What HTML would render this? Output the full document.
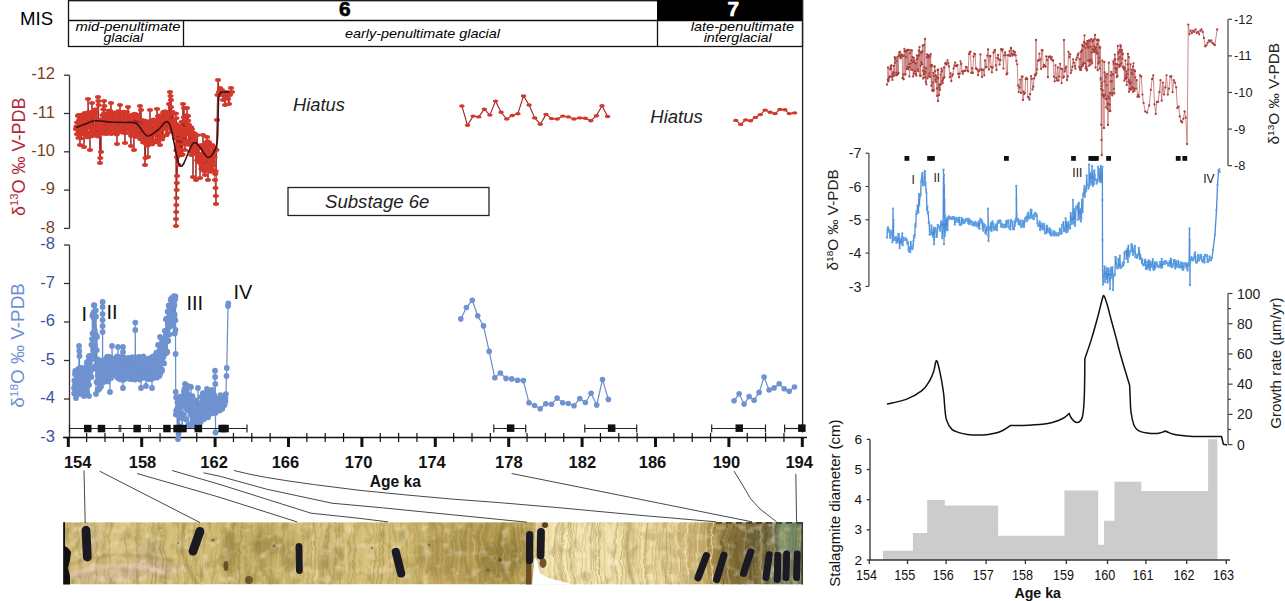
<!DOCTYPE html>
<html><head><meta charset="utf-8"><title>Stalagmite record</title>
<style>
html,body{margin:0;padding:0;background:#fff;}
svg{display:block;font-family:"Liberation Sans", sans-serif;}
</style></head>
<body>
<svg width="1285" height="601" viewBox="0 0 1285 601">

<defs>
<linearGradient id="pg" x1="63" y1="0" x2="803" y2="0" gradientUnits="userSpaceOnUse">
 <stop offset="0" stop-color="#cfbb85"/>
 <stop offset="0.08" stop-color="#d6c28c"/>
 <stop offset="0.2" stop-color="#cdb97f"/>
 <stop offset="0.27" stop-color="#bfab70"/>
 <stop offset="0.34" stop-color="#d2be86"/>
 <stop offset="0.44" stop-color="#d2bd84"/>
 <stop offset="0.5" stop-color="#c0aa6e"/>
 <stop offset="0.56" stop-color="#b49d62"/>
 <stop offset="0.6" stop-color="#b29b5f"/>
 <stop offset="0.635" stop-color="#b8a268"/>
 <stop offset="0.645" stop-color="#eedfae"/>
 <stop offset="0.75" stop-color="#ecdcaa"/>
 <stop offset="0.8" stop-color="#e4d09c"/>
 <stop offset="0.83" stop-color="#d4bd84"/>
 <stop offset="0.87" stop-color="#ad945a"/>
 <stop offset="0.91" stop-color="#8e7848"/>
 <stop offset="0.95" stop-color="#7e7050"/>
 <stop offset="0.97" stop-color="#6f7a60"/>
 <stop offset="1" stop-color="#6a7258"/>
</linearGradient>
<filter id="tex" x="0" y="0" width="100%" height="100%">
 <feTurbulence type="fractalNoise" baseFrequency="0.11 0.07" numOctaves="3" seed="4" result="n"/>
 <feColorMatrix in="n" type="matrix" values="0 0 0 0 0.3  0 0 0 0 0.25  0 0 0 0 0.08  -3.2 0 0 0 1.6" />
 <feComposite in2="SourceGraphic" operator="in"/>
</filter>
<filter id="tex2" x="0" y="0" width="100%" height="100%">
 <feTurbulence type="fractalNoise" baseFrequency="0.09 0.12" numOctaves="2" seed="9" result="n"/>
 <feColorMatrix in="n" type="matrix" values="0 0 0 0 1  0 0 0 0 0.97  0 0 0 0 0.82  2.6 0 0 0 -1.35" />
 <feComposite in2="SourceGraphic" operator="in"/>
</filter>
<filter id="blur2"><feGaussianBlur stdDeviation="2.5"/></filter>
<filter id="blur1"><feGaussianBlur stdDeviation="0.9"/></filter>
<filter id="blur05" x="-2%" y="-10%" width="104%" height="120%"><feTurbulence type="fractalNoise" baseFrequency="0.045 0.09" numOctaves="2" seed="3" result="t"/><feDisplacementMap in="SourceGraphic" in2="t" scale="6" xChannelSelector="R" yChannelSelector="G"/><feGaussianBlur stdDeviation="0.55"/></filter>
<filter id="sat" x="0" y="0" width="100%" height="100%"><feColorMatrix type="saturate" values="1.15"/></filter>
<clipPath id="pc"><rect x="63.2" y="522.2" width="739.9" height="62.2"/></clipPath>
</defs>

<rect width="1285" height="601" fill="#fff"/>
<g filter="url(#sat)"><g clip-path="url(#pc)">
<rect x="63.2" y="522.2" width="739.9" height="62.2" fill="url(#pg)"/>
<g filter="url(#blur2)">
<ellipse cx="230" cy="552" rx="8" ry="22" fill="#8f7a44" opacity="0.45"/>
<ellipse cx="268" cy="545" rx="18" ry="10" fill="#8a7540" opacity="0.45"/>
<ellipse cx="290" cy="556" rx="10" ry="16" fill="#8f7a44" opacity="0.3"/>
<ellipse cx="150" cy="568" rx="35" ry="9" fill="#c0a2a0" opacity="0.35"/>
<ellipse cx="105" cy="575" rx="35" ry="8" fill="#c9aaa5" opacity="0.4"/>
<ellipse cx="90" cy="540" rx="10" ry="12" fill="#b0a2a0" opacity="0.25"/>
<ellipse cx="150" cy="550" rx="14" ry="10" fill="#b59fa0" opacity="0.25"/>
<ellipse cx="330" cy="556" rx="12" ry="14" fill="#a89060" opacity="0.25"/>
<ellipse cx="440" cy="556" rx="26" ry="20" fill="#8f7a44" opacity="0.3"/>
<ellipse cx="500" cy="560" rx="22" ry="20" fill="#7a6535" opacity="0.4"/>
<ellipse cx="468" cy="538" rx="16" ry="12" fill="#9a8550" opacity="0.3"/>
<ellipse cx="520" cy="545" rx="10" ry="18" fill="#7a6535" opacity="0.35"/>
<ellipse cx="632" cy="550" rx="3" ry="28" fill="#9a8552" opacity="0.5"/>
<ellipse cx="600" cy="552" rx="20" ry="25" fill="#f0e2b8" opacity="0.3"/>
<ellipse cx="680" cy="550" rx="22" ry="26" fill="#b8a06a" opacity="0.3"/>
<ellipse cx="735" cy="555" rx="18" ry="30" fill="#6e5e3a" opacity="0.45"/>
<ellipse cx="760" cy="545" rx="16" ry="24" fill="#5f5a40" opacity="0.45"/>
<ellipse cx="790" cy="538" rx="12" ry="16" fill="#84a080" opacity="0.6"/>
<ellipse cx="790" cy="568" rx="10" ry="14" fill="#8a8f80" opacity="0.5"/>
<ellipse cx="775" cy="578" rx="20" ry="8" fill="#6f7360" opacity="0.35"/>
</g>
<g filter="url(#blur05)"><path d="M64.8,522 Q67.0,553 64.1,585" stroke="#6e5e30" stroke-width="1.2" opacity="0.22" fill="none"/><path d="M68.9,522 Q66.9,553 71.3,585" stroke="#6e5e30" stroke-width="1.7" opacity="0.16" fill="none"/><path d="M70.5,522 Q67.0,553 70.4,585" stroke="#efe0b0" stroke-width="1.7" opacity="0.11" fill="none"/><path d="M76.7,522 Q76.5,553 75.1,585" stroke="#efe0b0" stroke-width="1.4" opacity="0.16" fill="none"/><path d="M76.1,522 Q82.2,553 80.3,585" stroke="#6e5e30" stroke-width="2.1" opacity="0.16" fill="none"/><path d="M80.0,522 Q75.8,553 78.9,585" stroke="#efe0b0" stroke-width="1.9" opacity="0.11" fill="none"/><path d="M85.6,522 Q79.0,553 84.8,585" stroke="#6e5e30" stroke-width="1.5" opacity="0.08" fill="none"/><path d="M87.3,522 Q91.8,553 85.1,585" stroke="#6e5e30" stroke-width="1.3" opacity="0.08" fill="none"/><path d="M91.8,522 Q93.6,553 88.0,585" stroke="#6e5e30" stroke-width="1.4" opacity="0.13" fill="none"/><path d="M95.0,522 Q95.7,553 96.8,585" stroke="#6e5e30" stroke-width="1.6" opacity="0.24" fill="none"/><path d="M97.5,522 Q96.8,553 95.4,585" stroke="#6e5e30" stroke-width="1.0" opacity="0.11" fill="none"/><path d="M100.3,522 Q102.9,553 101.6,585" stroke="#efe0b0" stroke-width="1.0" opacity="0.23" fill="none"/><path d="M102.1,522 Q106.9,553 102.5,585" stroke="#efe0b0" stroke-width="1.1" opacity="0.09" fill="none"/><path d="M106.1,522 Q103.3,553 106.0,585" stroke="#6e5e30" stroke-width="2.0" opacity="0.10" fill="none"/><path d="M110.1,522 Q108.3,553 110.2,585" stroke="#6e5e30" stroke-width="1.7" opacity="0.20" fill="none"/><path d="M114.0,522 Q109.4,553 111.4,585" stroke="#efe0b0" stroke-width="1.1" opacity="0.20" fill="none"/><path d="M113.9,522 Q113.1,553 115.2,585" stroke="#efe0b0" stroke-width="1.5" opacity="0.13" fill="none"/><path d="M120.7,522 Q115.8,553 119.8,585" stroke="#efe0b0" stroke-width="2.0" opacity="0.13" fill="none"/><path d="M122.8,522 Q120.8,553 121.1,585" stroke="#efe0b0" stroke-width="2.2" opacity="0.19" fill="none"/><path d="M125.3,522 Q126.4,553 128.1,585" stroke="#6e5e30" stroke-width="1.8" opacity="0.20" fill="none"/><path d="M130.5,522 Q133.0,553 127.9,585" stroke="#efe0b0" stroke-width="1.8" opacity="0.20" fill="none"/><path d="M135.2,522 Q136.5,553 132.8,585" stroke="#6e5e30" stroke-width="1.5" opacity="0.10" fill="none"/><path d="M136.3,522 Q137.5,553 137.1,585" stroke="#6e5e30" stroke-width="1.4" opacity="0.22" fill="none"/><path d="M138.8,522 Q135.4,553 137.7,585" stroke="#6e5e30" stroke-width="1.7" opacity="0.19" fill="none"/><path d="M140.3,522 Q138.8,553 138.6,585" stroke="#6e5e30" stroke-width="1.6" opacity="0.14" fill="none"/><path d="M145.1,522 Q146.4,553 145.9,585" stroke="#efe0b0" stroke-width="1.2" opacity="0.19" fill="none"/><path d="M150.4,522 Q144.3,553 148.6,585" stroke="#6e5e30" stroke-width="1.0" opacity="0.16" fill="none"/><path d="M152.7,522 Q151.9,553 152.5,585" stroke="#6e5e30" stroke-width="1.1" opacity="0.25" fill="none"/><path d="M154.0,522 Q156.0,553 156.1,585" stroke="#6e5e30" stroke-width="2.1" opacity="0.23" fill="none"/><path d="M158.2,522 Q152.8,553 156.5,585" stroke="#6e5e30" stroke-width="1.1" opacity="0.09" fill="none"/><path d="M158.9,522 Q164.4,553 159.6,585" stroke="#6e5e30" stroke-width="1.6" opacity="0.21" fill="none"/><path d="M163.0,522 Q161.3,553 162.2,585" stroke="#6e5e30" stroke-width="0.9" opacity="0.19" fill="none"/><path d="M163.5,522 Q166.1,553 166.1,585" stroke="#6e5e30" stroke-width="1.8" opacity="0.16" fill="none"/><path d="M165.8,522 Q164.3,553 165.4,585" stroke="#6e5e30" stroke-width="1.6" opacity="0.15" fill="none"/><path d="M170.4,522 Q169.0,553 170.5,585" stroke="#efe0b0" stroke-width="1.7" opacity="0.09" fill="none"/><path d="M171.8,522 Q169.9,553 170.7,585" stroke="#efe0b0" stroke-width="1.0" opacity="0.20" fill="none"/><path d="M177.5,522 Q174.9,553 178.6,585" stroke="#efe0b0" stroke-width="0.9" opacity="0.14" fill="none"/><path d="M178.4,522 Q178.4,553 177.8,585" stroke="#6e5e30" stroke-width="2.2" opacity="0.17" fill="none"/><path d="M182.7,522 Q188.1,553 184.3,585" stroke="#6e5e30" stroke-width="1.1" opacity="0.22" fill="none"/><path d="M187.6,522 Q183.2,553 183.6,585" stroke="#efe0b0" stroke-width="2.0" opacity="0.24" fill="none"/><path d="M189.0,522 Q191.0,553 187.0,585" stroke="#6e5e30" stroke-width="1.0" opacity="0.13" fill="none"/><path d="M195.1,522 Q190.0,553 192.6,585" stroke="#6e5e30" stroke-width="0.9" opacity="0.16" fill="none"/><path d="M195.7,522 Q195.4,553 195.5,585" stroke="#6e5e30" stroke-width="0.8" opacity="0.23" fill="none"/><path d="M200.4,522 Q199.1,553 201.4,585" stroke="#6e5e30" stroke-width="1.2" opacity="0.24" fill="none"/><path d="M204.6,522 Q202.9,553 201.4,585" stroke="#6e5e30" stroke-width="1.1" opacity="0.26" fill="none"/><path d="M206.6,522 Q209.7,553 205.9,585" stroke="#efe0b0" stroke-width="1.1" opacity="0.09" fill="none"/><path d="M209.5,522 Q213.5,553 213.2,585" stroke="#6e5e30" stroke-width="1.4" opacity="0.18" fill="none"/><path d="M212.1,522 Q210.7,553 214.7,585" stroke="#efe0b0" stroke-width="1.6" opacity="0.09" fill="none"/><path d="M216.4,522 Q218.4,553 212.3,585" stroke="#6e5e30" stroke-width="1.6" opacity="0.12" fill="none"/><path d="M216.8,522 Q213.5,553 215.2,585" stroke="#efe0b0" stroke-width="1.8" opacity="0.10" fill="none"/><path d="M218.5,522 Q216.0,553 220.3,585" stroke="#efe0b0" stroke-width="2.0" opacity="0.17" fill="none"/><path d="M222.6,522 Q225.2,553 223.7,585" stroke="#6e5e30" stroke-width="0.9" opacity="0.17" fill="none"/><path d="M224.3,522 Q222.3,553 223.1,585" stroke="#efe0b0" stroke-width="0.9" opacity="0.09" fill="none"/><path d="M225.1,522 Q230.0,553 225.6,585" stroke="#6e5e30" stroke-width="1.2" opacity="0.25" fill="none"/><path d="M231.0,522 Q232.1,553 227.7,585" stroke="#6e5e30" stroke-width="1.2" opacity="0.11" fill="none"/><path d="M234.3,522 Q233.0,553 229.7,585" stroke="#6e5e30" stroke-width="2.0" opacity="0.19" fill="none"/><path d="M234.5,522 Q236.6,553 234.5,585" stroke="#6e5e30" stroke-width="0.8" opacity="0.22" fill="none"/><path d="M237.9,522 Q240.2,553 239.0,585" stroke="#6e5e30" stroke-width="1.0" opacity="0.08" fill="none"/><path d="M242.2,522 Q238.3,553 239.5,585" stroke="#6e5e30" stroke-width="1.9" opacity="0.24" fill="none"/><path d="M245.1,522 Q246.6,553 246.1,585" stroke="#6e5e30" stroke-width="2.1" opacity="0.12" fill="none"/><path d="M245.0,522 Q248.3,553 248.8,585" stroke="#efe0b0" stroke-width="1.4" opacity="0.12" fill="none"/><path d="M250.4,522 Q254.3,553 246.9,585" stroke="#6e5e30" stroke-width="1.2" opacity="0.21" fill="none"/><path d="M253.9,522 Q249.0,553 252.6,585" stroke="#efe0b0" stroke-width="2.2" opacity="0.14" fill="none"/><path d="M257.8,522 Q256.0,553 254.0,585" stroke="#6e5e30" stroke-width="0.9" opacity="0.22" fill="none"/><path d="M260.3,522 Q260.8,553 263.3,585" stroke="#6e5e30" stroke-width="1.6" opacity="0.08" fill="none"/><path d="M262.4,522 Q260.0,553 266.0,585" stroke="#efe0b0" stroke-width="0.8" opacity="0.18" fill="none"/><path d="M268.1,522 Q270.2,553 270.3,585" stroke="#6e5e30" stroke-width="2.1" opacity="0.16" fill="none"/><path d="M271.1,522 Q266.5,553 271.0,585" stroke="#efe0b0" stroke-width="0.9" opacity="0.21" fill="none"/><path d="M273.2,522 Q271.2,553 271.3,585" stroke="#6e5e30" stroke-width="1.2" opacity="0.17" fill="none"/><path d="M277.0,522 Q281.3,553 275.6,585" stroke="#efe0b0" stroke-width="1.2" opacity="0.23" fill="none"/><path d="M281.0,522 Q276.7,553 278.9,585" stroke="#efe0b0" stroke-width="1.2" opacity="0.22" fill="none"/><path d="M284.0,522 Q283.5,553 283.2,585" stroke="#6e5e30" stroke-width="1.0" opacity="0.14" fill="none"/><path d="M286.9,522 Q285.3,553 283.9,585" stroke="#efe0b0" stroke-width="1.6" opacity="0.22" fill="none"/><path d="M288.7,522 Q286.2,553 290.8,585" stroke="#6e5e30" stroke-width="1.4" opacity="0.10" fill="none"/><path d="M292.8,522 Q294.1,553 292.7,585" stroke="#6e5e30" stroke-width="1.8" opacity="0.10" fill="none"/><path d="M294.8,522 Q297.9,553 295.4,585" stroke="#6e5e30" stroke-width="0.8" opacity="0.10" fill="none"/><path d="M297.7,522 Q300.4,553 295.7,585" stroke="#efe0b0" stroke-width="1.6" opacity="0.13" fill="none"/><path d="M299.2,522 Q302.6,553 300.0,585" stroke="#efe0b0" stroke-width="2.1" opacity="0.25" fill="none"/><path d="M305.4,522 Q301.8,553 305.5,585" stroke="#efe0b0" stroke-width="1.6" opacity="0.25" fill="none"/><path d="M309.4,522 Q305.7,553 308.2,585" stroke="#6e5e30" stroke-width="1.3" opacity="0.19" fill="none"/><path d="M310.3,522 Q314.7,553 312.9,585" stroke="#efe0b0" stroke-width="1.0" opacity="0.23" fill="none"/><path d="M313.5,522 Q308.2,553 314.1,585" stroke="#6e5e30" stroke-width="1.3" opacity="0.20" fill="none"/><path d="M313.7,522 Q318.4,553 312.5,585" stroke="#6e5e30" stroke-width="1.6" opacity="0.24" fill="none"/><path d="M319.4,522 Q316.3,553 316.2,585" stroke="#efe0b0" stroke-width="1.3" opacity="0.26" fill="none"/><path d="M321.3,522 Q317.8,553 318.8,585" stroke="#6e5e30" stroke-width="1.0" opacity="0.12" fill="none"/><path d="M324.8,522 Q325.1,553 322.5,585" stroke="#6e5e30" stroke-width="2.2" opacity="0.20" fill="none"/><path d="M325.8,522 Q320.4,553 326.7,585" stroke="#efe0b0" stroke-width="1.5" opacity="0.18" fill="none"/><path d="M327.5,522 Q328.2,553 325.9,585" stroke="#6e5e30" stroke-width="2.0" opacity="0.15" fill="none"/><path d="M328.8,522 Q326.0,553 330.8,585" stroke="#6e5e30" stroke-width="1.9" opacity="0.13" fill="none"/><path d="M335.3,522 Q337.8,553 331.5,585" stroke="#6e5e30" stroke-width="2.2" opacity="0.25" fill="none"/><path d="M339.1,522 Q339.6,553 341.0,585" stroke="#6e5e30" stroke-width="1.8" opacity="0.23" fill="none"/><path d="M342.7,522 Q342.6,553 343.7,585" stroke="#6e5e30" stroke-width="1.1" opacity="0.21" fill="none"/><path d="M346.0,522 Q346.9,553 343.6,585" stroke="#efe0b0" stroke-width="2.1" opacity="0.25" fill="none"/><path d="M347.6,522 Q349.3,553 348.8,585" stroke="#efe0b0" stroke-width="0.9" opacity="0.09" fill="none"/><path d="M348.6,522 Q351.6,553 348.3,585" stroke="#efe0b0" stroke-width="1.2" opacity="0.22" fill="none"/><path d="M352.5,522 Q347.8,553 348.9,585" stroke="#6e5e30" stroke-width="1.6" opacity="0.23" fill="none"/><path d="M354.7,522 Q354.8,553 352.0,585" stroke="#6e5e30" stroke-width="1.3" opacity="0.23" fill="none"/><path d="M358.6,522 Q351.9,553 355.6,585" stroke="#6e5e30" stroke-width="2.2" opacity="0.11" fill="none"/><path d="M361.9,522 Q362.9,553 362.5,585" stroke="#efe0b0" stroke-width="1.5" opacity="0.08" fill="none"/><path d="M362.2,522 Q365.0,553 362.0,585" stroke="#efe0b0" stroke-width="1.0" opacity="0.15" fill="none"/><path d="M363.9,522 Q365.1,553 366.8,585" stroke="#efe0b0" stroke-width="1.0" opacity="0.21" fill="none"/><path d="M366.1,522 Q366.0,553 367.3,585" stroke="#efe0b0" stroke-width="2.1" opacity="0.11" fill="none"/><path d="M371.0,522 Q374.0,553 373.1,585" stroke="#efe0b0" stroke-width="1.3" opacity="0.18" fill="none"/><path d="M371.4,522 Q376.9,553 373.3,585" stroke="#6e5e30" stroke-width="1.0" opacity="0.26" fill="none"/><path d="M376.7,522 Q375.9,553 374.0,585" stroke="#6e5e30" stroke-width="0.9" opacity="0.21" fill="none"/><path d="M379.8,522 Q380.7,553 377.5,585" stroke="#6e5e30" stroke-width="1.7" opacity="0.25" fill="none"/><path d="M383.5,522 Q382.8,553 381.6,585" stroke="#6e5e30" stroke-width="1.7" opacity="0.25" fill="none"/><path d="M384.9,522 Q383.5,553 382.0,585" stroke="#6e5e30" stroke-width="1.1" opacity="0.16" fill="none"/><path d="M388.0,522 Q387.8,553 387.8,585" stroke="#efe0b0" stroke-width="1.5" opacity="0.22" fill="none"/><path d="M391.6,522 Q387.7,553 389.5,585" stroke="#6e5e30" stroke-width="2.0" opacity="0.15" fill="none"/><path d="M393.1,522 Q398.7,553 396.6,585" stroke="#6e5e30" stroke-width="1.4" opacity="0.24" fill="none"/><path d="M398.9,522 Q394.9,553 395.1,585" stroke="#efe0b0" stroke-width="2.1" opacity="0.11" fill="none"/><path d="M400.4,522 Q403.5,553 403.9,585" stroke="#efe0b0" stroke-width="0.9" opacity="0.22" fill="none"/><path d="M402.2,522 Q402.3,553 403.5,585" stroke="#6e5e30" stroke-width="1.5" opacity="0.16" fill="none"/><path d="M408.8,522 Q408.7,553 405.6,585" stroke="#6e5e30" stroke-width="1.0" opacity="0.16" fill="none"/><path d="M413.0,522 Q408.0,553 409.5,585" stroke="#efe0b0" stroke-width="1.2" opacity="0.24" fill="none"/><path d="M413.8,522 Q416.3,553 416.1,585" stroke="#6e5e30" stroke-width="1.7" opacity="0.13" fill="none"/><path d="M416.5,522 Q423.2,553 418.6,585" stroke="#6e5e30" stroke-width="2.1" opacity="0.10" fill="none"/><path d="M424.2,522 Q420.3,553 423.6,585" stroke="#efe0b0" stroke-width="1.3" opacity="0.08" fill="none"/><path d="M424.2,522 Q426.7,553 424.1,585" stroke="#efe0b0" stroke-width="2.1" opacity="0.25" fill="none"/><path d="M426.8,522 Q426.8,553 426.7,585" stroke="#efe0b0" stroke-width="0.9" opacity="0.18" fill="none"/><path d="M431.5,522 Q427.9,553 428.5,585" stroke="#6e5e30" stroke-width="1.1" opacity="0.14" fill="none"/><path d="M433.4,522 Q429.8,553 435.0,585" stroke="#6e5e30" stroke-width="0.8" opacity="0.23" fill="none"/><path d="M434.9,522 Q438.9,553 437.2,585" stroke="#6e5e30" stroke-width="1.6" opacity="0.24" fill="none"/><path d="M438.0,522 Q444.5,553 436.9,585" stroke="#efe0b0" stroke-width="0.9" opacity="0.16" fill="none"/><path d="M441.3,522 Q443.7,553 441.1,585" stroke="#6e5e30" stroke-width="1.4" opacity="0.12" fill="none"/><path d="M445.5,522 Q443.3,553 442.4,585" stroke="#efe0b0" stroke-width="1.2" opacity="0.20" fill="none"/><path d="M447.5,522 Q450.6,553 449.9,585" stroke="#efe0b0" stroke-width="1.4" opacity="0.12" fill="none"/><path d="M451.9,522 Q452.2,553 452.3,585" stroke="#6e5e30" stroke-width="1.9" opacity="0.12" fill="none"/><path d="M454.6,522 Q450.9,553 455.9,585" stroke="#efe0b0" stroke-width="1.6" opacity="0.12" fill="none"/><path d="M458.6,522 Q459.9,553 455.2,585" stroke="#efe0b0" stroke-width="0.9" opacity="0.08" fill="none"/><path d="M456.7,522 Q462.6,553 455.9,585" stroke="#efe0b0" stroke-width="1.9" opacity="0.25" fill="none"/><path d="M460.9,522 Q459.4,553 461.5,585" stroke="#6e5e30" stroke-width="1.1" opacity="0.11" fill="none"/><path d="M464.5,522 Q460.9,553 466.3,585" stroke="#efe0b0" stroke-width="0.9" opacity="0.14" fill="none"/><path d="M467.5,522 Q470.4,553 466.3,585" stroke="#efe0b0" stroke-width="1.0" opacity="0.19" fill="none"/><path d="M470.2,522 Q472.1,553 468.5,585" stroke="#6e5e30" stroke-width="1.9" opacity="0.10" fill="none"/><path d="M473.3,522 Q476.9,553 471.1,585" stroke="#efe0b0" stroke-width="0.9" opacity="0.23" fill="none"/><path d="M477.0,522 Q472.6,553 476.2,585" stroke="#efe0b0" stroke-width="1.7" opacity="0.16" fill="none"/><path d="M481.1,522 Q476.8,553 479.4,585" stroke="#6e5e30" stroke-width="2.2" opacity="0.22" fill="none"/><path d="M483.4,522 Q478.0,553 483.9,585" stroke="#efe0b0" stroke-width="1.0" opacity="0.19" fill="none"/><path d="M485.0,522 Q480.8,553 482.5,585" stroke="#6e5e30" stroke-width="1.0" opacity="0.24" fill="none"/><path d="M486.8,522 Q485.1,553 484.8,585" stroke="#6e5e30" stroke-width="2.0" opacity="0.20" fill="none"/><path d="M489.7,522 Q495.2,553 491.0,585" stroke="#6e5e30" stroke-width="1.0" opacity="0.10" fill="none"/><path d="M496.0,522 Q496.1,553 497.3,585" stroke="#6e5e30" stroke-width="1.1" opacity="0.20" fill="none"/><path d="M497.1,522 Q499.8,553 494.7,585" stroke="#efe0b0" stroke-width="1.0" opacity="0.21" fill="none"/><path d="M501.3,522 Q502.0,553 501.9,585" stroke="#6e5e30" stroke-width="1.9" opacity="0.19" fill="none"/><path d="M504.0,522 Q504.8,553 499.7,585" stroke="#efe0b0" stroke-width="1.7" opacity="0.22" fill="none"/><path d="M504.6,522 Q509.1,553 505.1,585" stroke="#efe0b0" stroke-width="1.3" opacity="0.11" fill="none"/><path d="M507.3,522 Q512.0,553 507.1,585" stroke="#efe0b0" stroke-width="1.7" opacity="0.16" fill="none"/><path d="M511.6,522 Q512.3,553 511.4,585" stroke="#6e5e30" stroke-width="0.9" opacity="0.08" fill="none"/><path d="M513.9,522 Q513.6,553 513.5,585" stroke="#6e5e30" stroke-width="1.7" opacity="0.20" fill="none"/><path d="M515.5,522 Q519.9,553 515.2,585" stroke="#efe0b0" stroke-width="1.6" opacity="0.22" fill="none"/><path d="M519.8,522 Q522.1,553 521.2,585" stroke="#efe0b0" stroke-width="1.8" opacity="0.24" fill="none"/><path d="M520.8,522 Q521.6,553 520.6,585" stroke="#6e5e30" stroke-width="1.1" opacity="0.19" fill="none"/><path d="M523.7,522 Q527.3,553 527.6,585" stroke="#efe0b0" stroke-width="1.0" opacity="0.22" fill="none"/><path d="M527.3,522 Q524.8,553 527.6,585" stroke="#6e5e30" stroke-width="1.6" opacity="0.12" fill="none"/><path d="M534.2,522 Q531.8,553 533.3,585" stroke="#efe0b0" stroke-width="1.8" opacity="0.16" fill="none"/><path d="M533.8,522 Q535.1,553 534.0,585" stroke="#6e5e30" stroke-width="1.5" opacity="0.09" fill="none"/><path d="M537.2,522 Q532.0,553 536.7,585" stroke="#fbf4dc" stroke-width="1.2" opacity="0.56" fill="none"/><path d="M542.6,522 Q536.5,553 540.6,585" stroke="#8a7640" stroke-width="0.8" opacity="0.37" fill="none"/><path d="M545.1,522 Q541.5,553 543.4,585" stroke="#fbf4dc" stroke-width="1.2" opacity="0.67" fill="none"/><path d="M548.2,522 Q542.4,553 547.8,585" stroke="#fbf4dc" stroke-width="1.0" opacity="0.52" fill="none"/><path d="M549.7,522 Q545.2,553 550.6,585" stroke="#8a7640" stroke-width="0.7" opacity="0.38" fill="none"/><path d="M555.1,522 Q549.9,553 554.0,585" stroke="#fbf4dc" stroke-width="1.4" opacity="0.62" fill="none"/><path d="M558.4,522 Q549.5,553 556.6,585" stroke="#8a7640" stroke-width="0.9" opacity="0.57" fill="none"/><path d="M561.7,522 Q555.5,553 561.7,585" stroke="#8a7640" stroke-width="0.9" opacity="0.35" fill="none"/><path d="M562.4,522 Q559.6,553 562.2,585" stroke="#8a7640" stroke-width="1.3" opacity="0.47" fill="none"/><path d="M563.8,522 Q559.9,553 565.6,585" stroke="#8a7640" stroke-width="1.0" opacity="0.51" fill="none"/><path d="M567.4,522 Q562.5,553 568.8,585" stroke="#fbf4dc" stroke-width="1.5" opacity="0.70" fill="none"/><path d="M569.1,522 Q564.3,553 571.4,585" stroke="#8a7640" stroke-width="0.7" opacity="0.58" fill="none"/><path d="M571.0,522 Q568.1,553 573.5,585" stroke="#8a7640" stroke-width="1.4" opacity="0.47" fill="none"/><path d="M574.2,522 Q568.7,553 575.0,585" stroke="#8a7640" stroke-width="1.2" opacity="0.41" fill="none"/><path d="M576.9,522 Q573.7,553 573.6,585" stroke="#8a7640" stroke-width="1.0" opacity="0.40" fill="none"/><path d="M580.5,522 Q572.9,553 581.7,585" stroke="#fbf4dc" stroke-width="0.7" opacity="0.63" fill="none"/><path d="M584.4,522 Q579.8,553 584.4,585" stroke="#fbf4dc" stroke-width="1.0" opacity="0.56" fill="none"/><path d="M586.9,522 Q577.7,553 583.3,585" stroke="#8a7640" stroke-width="0.9" opacity="0.50" fill="none"/><path d="M588.2,522 Q582.8,553 586.1,585" stroke="#8a7640" stroke-width="1.0" opacity="0.57" fill="none"/><path d="M592.5,522 Q587.8,553 591.7,585" stroke="#8a7640" stroke-width="1.4" opacity="0.45" fill="none"/><path d="M594.8,522 Q590.2,553 594.0,585" stroke="#8a7640" stroke-width="1.2" opacity="0.36" fill="none"/><path d="M598.5,522 Q592.9,553 596.5,585" stroke="#fbf4dc" stroke-width="0.7" opacity="0.58" fill="none"/><path d="M597.8,522 Q591.2,553 598.1,585" stroke="#8a7640" stroke-width="1.3" opacity="0.48" fill="none"/><path d="M600.0,522 Q596.5,553 601.8,585" stroke="#8a7640" stroke-width="1.4" opacity="0.54" fill="none"/><path d="M602.3,522 Q597.4,553 601.5,585" stroke="#8a7640" stroke-width="0.7" opacity="0.39" fill="none"/><path d="M604.4,522 Q602.8,553 607.6,585" stroke="#8a7640" stroke-width="0.8" opacity="0.55" fill="none"/><path d="M607.4,522 Q600.9,553 609.1,585" stroke="#fbf4dc" stroke-width="0.6" opacity="0.40" fill="none"/><path d="M610.9,522 Q607.9,553 611.6,585" stroke="#fbf4dc" stroke-width="1.4" opacity="0.47" fill="none"/><path d="M615.4,522 Q607.9,553 611.5,585" stroke="#fbf4dc" stroke-width="0.7" opacity="0.40" fill="none"/><path d="M618.8,522 Q611.5,553 618.1,585" stroke="#8a7640" stroke-width="1.5" opacity="0.46" fill="none"/><path d="M619.9,522 Q614.6,553 620.6,585" stroke="#fbf4dc" stroke-width="1.0" opacity="0.44" fill="none"/><path d="M624.9,522 Q619.5,553 622.3,585" stroke="#8a7640" stroke-width="1.1" opacity="0.58" fill="none"/><path d="M627.6,522 Q620.4,553 627.1,585" stroke="#8a7640" stroke-width="1.4" opacity="0.47" fill="none"/><path d="M628.7,522 Q623.7,553 629.8,585" stroke="#8a7640" stroke-width="0.8" opacity="0.39" fill="none"/><path d="M630.1,522 Q629.3,553 634.6,585" stroke="#fbf4dc" stroke-width="1.0" opacity="0.46" fill="none"/><path d="M634.4,522 Q632.9,553 633.3,585" stroke="#8a7640" stroke-width="0.6" opacity="0.44" fill="none"/><path d="M639.6,522 Q633.3,553 639.5,585" stroke="#8a7640" stroke-width="1.0" opacity="0.32" fill="none"/><path d="M641.9,522 Q637.3,553 642.4,585" stroke="#8a7640" stroke-width="0.7" opacity="0.55" fill="none"/><path d="M644.8,522 Q640.2,553 643.6,585" stroke="#fbf4dc" stroke-width="1.1" opacity="0.40" fill="none"/><path d="M648.0,522 Q642.1,553 646.2,585" stroke="#8a7640" stroke-width="1.3" opacity="0.55" fill="none"/><path d="M647.5,522 Q645.0,553 647.2,585" stroke="#8a7640" stroke-width="1.4" opacity="0.39" fill="none"/><path d="M652.2,522 Q647.2,553 652.2,585" stroke="#fbf4dc" stroke-width="1.0" opacity="0.43" fill="none"/><path d="M655.0,522 Q649.3,553 655.3,585" stroke="#8a7640" stroke-width="0.8" opacity="0.41" fill="none"/><path d="M657.3,522 Q654.2,553 657.1,585" stroke="#8a7640" stroke-width="1.1" opacity="0.40" fill="none"/><path d="M663.4,522 Q658.4,553 661.6,585" stroke="#fbf4dc" stroke-width="1.5" opacity="0.58" fill="none"/><path d="M664.7,522 Q658.5,553 668.4,585" stroke="#8a7640" stroke-width="1.1" opacity="0.34" fill="none"/><path d="M666.8,522 Q666.6,553 665.6,585" stroke="#8a7640" stroke-width="1.1" opacity="0.55" fill="none"/><path d="M672.5,522 Q669.2,553 671.6,585" stroke="#8a7640" stroke-width="1.4" opacity="0.44" fill="none"/><path d="M673.4,522 Q668.6,553 673.9,585" stroke="#fbf4dc" stroke-width="0.8" opacity="0.41" fill="none"/><path d="M677.0,522 Q675.7,553 680.5,585" stroke="#fbf4dc" stroke-width="1.3" opacity="0.60" fill="none"/><path d="M681.0,522 Q679.3,553 679.1,585" stroke="#8a7640" stroke-width="0.9" opacity="0.50" fill="none"/><path d="M685.0,522 Q677.3,553 685.8,585" stroke="#8a7640" stroke-width="0.7" opacity="0.44" fill="none"/><path d="M689.0,522 Q681.2,553 690.3,585" stroke="#fbf4dc" stroke-width="1.0" opacity="0.66" fill="none"/><path d="M691.5,522 Q688.1,553 690.2,585" stroke="#8a7640" stroke-width="1.3" opacity="0.51" fill="none"/><path d="M695.8,522 Q687.3,553 694.4,585" stroke="#8a7640" stroke-width="0.9" opacity="0.46" fill="none"/><path d="M695.5,522 Q695.3,553 696.6,585" stroke="#8a7640" stroke-width="0.7" opacity="0.53" fill="none"/><path d="M700.3,522 Q693.5,553 702.1,585" stroke="#fbf4dc" stroke-width="0.9" opacity="0.46" fill="none"/><path d="M701.1,522 Q698.0,553 703.4,585" stroke="#8a7640" stroke-width="0.6" opacity="0.51" fill="none"/><path d="M706.3,522 Q698.7,553 705.5,585" stroke="#8a7640" stroke-width="1.0" opacity="0.34" fill="none"/><path d="M707.4,522 Q703.5,553 708.1,585" stroke="#fbf4dc" stroke-width="0.8" opacity="0.43" fill="none"/><path d="M712.4,522 Q709.4,553 713.4,585" stroke="#fbf4dc" stroke-width="1.0" opacity="0.67" fill="none"/><path d="M715.0,522 Q710.6,553 717.0,585" stroke="#8a7640" stroke-width="0.6" opacity="0.50" fill="none"/><path d="M719.4,522 Q714.5,553 716.6,585" stroke="#8a7640" stroke-width="0.6" opacity="0.44" fill="none"/><path d="M720.1,522 Q718.6,553 724.5,585" stroke="#c0b890" stroke-width="1.1" opacity="0.32" fill="none"/><path d="M725.7,522 Q719.5,553 723.0,585" stroke="#4e4426" stroke-width="2.0" opacity="0.43" fill="none"/><path d="M728.2,522 Q722.1,553 729.9,585" stroke="#c0b890" stroke-width="0.9" opacity="0.42" fill="none"/><path d="M731.2,522 Q727.1,553 727.8,585" stroke="#c0b890" stroke-width="1.1" opacity="0.42" fill="none"/><path d="M732.9,522 Q726.1,553 731.2,585" stroke="#4e4426" stroke-width="1.8" opacity="0.23" fill="none"/><path d="M737.8,522 Q731.5,553 738.2,585" stroke="#4e4426" stroke-width="1.4" opacity="0.29" fill="none"/><path d="M737.4,522 Q735.1,553 739.6,585" stroke="#4e4426" stroke-width="1.8" opacity="0.26" fill="none"/><path d="M741.5,522 Q737.3,553 740.6,585" stroke="#4e4426" stroke-width="0.9" opacity="0.23" fill="none"/><path d="M746.2,522 Q742.5,553 746.1,585" stroke="#c0b890" stroke-width="2.1" opacity="0.29" fill="none"/><path d="M747.4,522 Q744.9,553 745.8,585" stroke="#4e4426" stroke-width="2.0" opacity="0.32" fill="none"/><path d="M751.3,522 Q745.6,553 752.3,585" stroke="#4e4426" stroke-width="1.7" opacity="0.37" fill="none"/><path d="M753.8,522 Q750.2,553 750.9,585" stroke="#4e4426" stroke-width="1.8" opacity="0.31" fill="none"/><path d="M757.6,522 Q749.4,553 756.7,585" stroke="#4e4426" stroke-width="1.3" opacity="0.45" fill="none"/><path d="M759.9,522 Q754.7,553 757.8,585" stroke="#4e4426" stroke-width="1.1" opacity="0.31" fill="none"/><path d="M762.5,522 Q759.2,553 763.7,585" stroke="#c0b890" stroke-width="1.0" opacity="0.30" fill="none"/><path d="M761.9,522 Q757.8,553 763.2,585" stroke="#c0b890" stroke-width="2.0" opacity="0.45" fill="none"/><path d="M766.6,522 Q762.6,553 768.0,585" stroke="#4e4426" stroke-width="1.8" opacity="0.43" fill="none"/><path d="M768.2,522 Q762.1,553 766.9,585" stroke="#4e4426" stroke-width="0.9" opacity="0.29" fill="none"/><path d="M775.1,522 Q765.7,553 771.7,585" stroke="#c0b890" stroke-width="1.4" opacity="0.31" fill="none"/><path d="M775.2,522 Q769.7,553 776.6,585" stroke="#c0b890" stroke-width="2.1" opacity="0.37" fill="none"/><path d="M776.9,522 Q774.2,553 776.8,585" stroke="#4e4426" stroke-width="1.6" opacity="0.33" fill="none"/><path d="M782.6,522 Q776.5,553 779.7,585" stroke="#c0b890" stroke-width="1.6" opacity="0.28" fill="none"/><path d="M783.5,522 Q778.3,553 785.7,585" stroke="#c0b890" stroke-width="1.2" opacity="0.35" fill="none"/><path d="M786.5,522 Q780.7,553 790.2,585" stroke="#c0b890" stroke-width="1.5" opacity="0.40" fill="none"/><path d="M791.3,522 Q786.4,553 791.5,585" stroke="#4e4426" stroke-width="1.0" opacity="0.21" fill="none"/><path d="M792.5,522 Q792.1,553 791.8,585" stroke="#4e4426" stroke-width="1.9" opacity="0.23" fill="none"/><path d="M797.2,522 Q791.5,553 797.4,585" stroke="#4e4426" stroke-width="1.2" opacity="0.42" fill="none"/><path d="M801.5,522 Q797.6,553 801.5,585" stroke="#c0b890" stroke-width="1.5" opacity="0.41" fill="none"/></g>
<rect x="63.2" y="522.2" width="739.9" height="62.2" fill="#000" filter="url(#tex)" opacity="0.5"/>
<rect x="63.2" y="522.2" width="739.9" height="62.2" fill="#fff" filter="url(#tex2)" opacity="0.45"/>
<rect x="537" y="522.2" width="170" height="62.2" fill="#f4e8c0" opacity="0.25"/>
<g filter="url(#blur1)">
<path d="M66,577 Q110,557 165,572" stroke="#efd8d0" stroke-width="5" opacity="0.45" fill="none"/>
<path d="M66,566 Q112,547 172,561" stroke="#8a6a48" stroke-width="2.5" opacity="0.3" fill="none"/>
<path d="M186,522 Q174,553 198,585" stroke="#6e5e30" stroke-width="3" opacity="0.35" fill="none"/>
<path d="M205,522 Q192,553 212,585" stroke="#efe2b8" stroke-width="3" opacity="0.35" fill="none"/>
<path d="M262,528 Q250,556 272,585" stroke="#7a6a3a" stroke-width="2.5" opacity="0.3" fill="none"/>
<path d="M330,522 Q318,553 336,585" stroke="#7a6a3a" stroke-width="2" opacity="0.25" fill="none"/>
<path d="M470,522 Q455,553 475,585" stroke="#7a6a3a" stroke-width="3" opacity="0.3" fill="none"/>
<path d="M505,522 Q490,553 510,585" stroke="#6a5a2a" stroke-width="3" opacity="0.35" fill="none"/>
<path d="M560,522 Q548,553 566,585" stroke="#9c8a55" stroke-width="2" opacity="0.35" fill="none"/>
<path d="M590,522 Q578,553 596,585" stroke="#f8f0d8" stroke-width="3" opacity="0.4" fill="none"/>
<path d="M631,522 Q622,553 634,585" stroke="#8c7a45" stroke-width="3" opacity="0.5" fill="none"/>
<path d="M665,522 Q652,553 670,585" stroke="#9c8a55" stroke-width="2" opacity="0.4" fill="none"/>
</g>
<ellipse cx="213" cy="540" rx="1.5" ry="1.5" fill="#4a3a1a" opacity="0.6"/>
<ellipse cx="226" cy="566" rx="2.5" ry="5" fill="#4a3a1a" opacity="0.75"/>
<ellipse cx="249" cy="580" rx="4" ry="4" fill="#4a3a1a" opacity="0.7"/>
<ellipse cx="274" cy="546" rx="1.5" ry="1.5" fill="#4a3a1a" opacity="0.6"/>
<ellipse cx="372" cy="548" rx="1.2" ry="1.2" fill="#4a3a1a" opacity="0.6"/>
<ellipse cx="429" cy="545" rx="1.2" ry="1.2" fill="#4a3a1a" opacity="0.5"/>
<ellipse cx="500" cy="560" rx="2" ry="2" fill="#4a3a1a" opacity="0.6"/>
<ellipse cx="488" cy="570" rx="1.5" ry="1.5" fill="#4a3a1a" opacity="0.5"/>
<ellipse cx="178" cy="543" rx="1" ry="1" fill="#4a3a1a" opacity="0.5"/>
<ellipse cx="160" cy="528" rx="1" ry="1" fill="#4a3a1a" opacity="0.4"/>
<line x1="716" y1="522.8" x2="803" y2="522.8" stroke="#222" stroke-width="1.6" stroke-dasharray="6 4"/>
<line x1="802.3" y1="522" x2="802.3" y2="585" stroke="#3a3528" stroke-width="1.6"/>
<path d="M63,522 L65,522 L65,546 L68,548 L71,552 L70,560 L68,568 L70,576 L70,585 L63,585 Z" fill="#111"/>
<rect x="526" y="560" width="5.5" height="25" fill="#5a3f22" opacity="0.85"/>
<ellipse cx="543" cy="563" rx="3.5" ry="5" fill="#5a3a1e" opacity="0.85"/>
<ellipse cx="545" cy="525" rx="3" ry="3" fill="#4a2f18" opacity="0.9"/>
<path d="M534.6,557 L532,585 L576,585 L566,582.5 L556,580 L547,577.5 L540.5,574 L538.6,568 L537,561 Z" fill="#fff"/>
<line x1="86" y1="530.2" x2="87.3" y2="557" stroke="#1b1a22" stroke-width="8.8" stroke-linecap="round"/>
<line x1="200" y1="531.3" x2="193" y2="551.2" stroke="#1b1a22" stroke-width="8.8" stroke-linecap="round"/>
<line x1="299" y1="546.5" x2="299.4" y2="570.5" stroke="#1b1a22" stroke-width="6.8" stroke-linecap="round"/>
<line x1="395.8" y1="552" x2="401.2" y2="573.4" stroke="#1b1a22" stroke-width="8.2" stroke-linecap="round"/>
<line x1="529.7" y1="534.5" x2="529.5" y2="560.5" stroke="#1b1a22" stroke-width="7.2" stroke-linecap="round"/>
<line x1="541" y1="532" x2="540.6" y2="555.5" stroke="#1b1a22" stroke-width="7.8" stroke-linecap="round"/>
<line x1="706.3" y1="555.7" x2="698.1" y2="577.8" stroke="#1b1a22" stroke-width="7.2" stroke-linecap="round"/>
<line x1="723.9" y1="555.2" x2="716.6" y2="579.6" stroke="#1b1a22" stroke-width="7.2" stroke-linecap="round"/>
<line x1="750.6" y1="552" x2="743.5" y2="573.4" stroke="#1b1a22" stroke-width="7.2" stroke-linecap="round"/>
<line x1="769.3" y1="554.7" x2="766" y2="577.6" stroke="#1b1a22" stroke-width="7" stroke-linecap="round"/>
<line x1="777.8" y1="555.3" x2="777.3" y2="579.5" stroke="#1b1a22" stroke-width="7" stroke-linecap="round"/>
<line x1="786.6" y1="554" x2="786" y2="577.6" stroke="#1b1a22" stroke-width="7" stroke-linecap="round"/>
<line x1="797.2" y1="554" x2="796.6" y2="577.6" stroke="#1b1a22" stroke-width="7" stroke-linecap="round"/>
</g></g>
<path d="M84,470.5 L85.2,523" fill="none" stroke="#333" stroke-width="0.9"/>
<path d="M99.7,471.2 L200.1,522.6" fill="none" stroke="#333" stroke-width="0.9"/>
<path d="M137,473.5 L220,497.4 L297,521.9" fill="none" stroke="#333" stroke-width="0.9"/>
<path d="M172.1,470.5 L220,484.5 L311,513.2 L360.1,518.4 L388,521.9" fill="none" stroke="#333" stroke-width="0.9"/>
<path d="M203.6,472.8 L220,476.3 L266.7,489.2 L332,503.2 L383.4,507.9 L453.5,514.9 L527,522.2" fill="none" stroke="#333" stroke-width="0.9"/>
<path d="M234,470.5 L250,474.3 L266.7,477.5 L290,481.2 L313.4,484.5 L360.1,490.4 L406.8,495 L453.5,499.2 L500.2,502.7 L560,507.8 L640,515.3 L716,521.8" fill="none" stroke="#333" stroke-width="0.9"/>
<path d="M511.6,473.5 L752,521.8" fill="none" stroke="#333" stroke-width="0.9"/>
<path d="M734,471.1 L742,484 L750.4,498.4 L760,509 L776.5,521.8" fill="none" stroke="#333" stroke-width="0.9"/>
<path d="M795.8,473.9 L796.6,521.8" fill="none" stroke="#333" stroke-width="0.9"/>
<text x="20" y="25" font-size="18.6" text-anchor="start" font-weight="normal" font-style="normal" fill="#000" >MIS</text>
<rect x="68.5" y="0.7" width="734" height="45.8" fill="none" stroke="#111" stroke-width="1.3"/>
<line x1="68.5" y1="20.5" x2="802.5" y2="20.5" stroke="#111" stroke-width="1.3" />
<line x1="183.5" y1="20.5" x2="183.5" y2="46.5" stroke="#111" stroke-width="1.3" />
<line x1="657.5" y1="20.5" x2="657.5" y2="46.5" stroke="#111" stroke-width="1.3" />
<rect x="657" y="0" width="146" height="21" fill="#000"/>
<text x="344.8" y="16.2" font-size="19.5" text-anchor="middle" font-weight="bold" font-style="normal" fill="#000" textLength="11.6" lengthAdjust="spacingAndGlyphs" stroke="#000" stroke-width="0.6">6</text>
<text x="733.2" y="15.6" font-size="19.5" text-anchor="middle" font-weight="bold" font-style="normal" fill="#fff" textLength="11.6" lengthAdjust="spacingAndGlyphs" stroke="#fff" stroke-width="0.6">7</text>
<text x="75.5" y="31.1" font-size="12.6" text-anchor="start" font-weight="normal" font-style="italic" fill="#000" textLength="105" lengthAdjust="spacingAndGlyphs">mid-penultimate</text>
<text x="103.5" y="42.3" font-size="12.6" text-anchor="start" font-weight="normal" font-style="italic" fill="#000" textLength="39.7" lengthAdjust="spacingAndGlyphs">glacial</text>
<text x="345" y="38.3" font-size="12.6" text-anchor="start" font-weight="normal" font-style="italic" fill="#000" textLength="155" lengthAdjust="spacingAndGlyphs">early-penultimate glacial</text>
<text x="690.8" y="31.1" font-size="12.6" text-anchor="start" font-weight="normal" font-style="italic" fill="#000" textLength="103.2" lengthAdjust="spacingAndGlyphs">late-penultimate</text>
<text x="703.7" y="42.3" font-size="12.6" text-anchor="start" font-weight="normal" font-style="italic" fill="#000" textLength="68" lengthAdjust="spacingAndGlyphs">interglacial</text>
<line x1="802.6" y1="0" x2="802.6" y2="428.5" stroke="#222" stroke-width="1.3" />
<line x1="69.5" y1="75.2" x2="69.5" y2="228.4" stroke="#333" stroke-width="1.3" />
<line x1="64" y1="75.2" x2="69.5" y2="75.2" stroke="#333" stroke-width="1.3" />
<text x="55" y="79.4" font-size="16.5" text-anchor="end" font-weight="normal" font-style="normal" fill="#7d3f22" >-12</text>
<line x1="64" y1="113.5" x2="69.5" y2="113.5" stroke="#333" stroke-width="1.3" />
<text x="55" y="117.7" font-size="16.5" text-anchor="end" font-weight="normal" font-style="normal" fill="#7d3f22" >-11</text>
<line x1="64" y1="151.8" x2="69.5" y2="151.8" stroke="#333" stroke-width="1.3" />
<text x="55" y="156.0" font-size="16.5" text-anchor="end" font-weight="normal" font-style="normal" fill="#7d3f22" >-10</text>
<line x1="64" y1="190.1" x2="69.5" y2="190.1" stroke="#333" stroke-width="1.3" />
<text x="55" y="194.29999999999998" font-size="16.5" text-anchor="end" font-weight="normal" font-style="normal" fill="#7d3f22" >-9</text>
<line x1="64" y1="228.4" x2="69.5" y2="228.4" stroke="#333" stroke-width="1.3" />
<text x="55" y="232.6" font-size="16.5" text-anchor="end" font-weight="normal" font-style="normal" fill="#7d3f22" >-8</text>
<text transform="translate(24.6,156.75) rotate(-90)" font-size="17.5" text-anchor="middle" fill="#b3263a" textLength="118.5" lengthAdjust="spacingAndGlyphs">δ<tspan font-size="11" dy="-6.5">13</tspan><tspan dy="6.5">O ‰ V-PDB</tspan></text>
<line x1="69.5" y1="245" x2="69.5" y2="437.5" stroke="#333" stroke-width="1.3" />
<line x1="64" y1="245" x2="69.5" y2="245" stroke="#333" stroke-width="1.3" />
<text x="55" y="249.2" font-size="16.5" text-anchor="end" font-weight="normal" font-style="normal" fill="#3d4f9c" >-8</text>
<line x1="64" y1="283.5" x2="69.5" y2="283.5" stroke="#333" stroke-width="1.3" />
<text x="55" y="287.7" font-size="16.5" text-anchor="end" font-weight="normal" font-style="normal" fill="#3d4f9c" >-7</text>
<line x1="64" y1="322" x2="69.5" y2="322" stroke="#333" stroke-width="1.3" />
<text x="55" y="326.2" font-size="16.5" text-anchor="end" font-weight="normal" font-style="normal" fill="#3d4f9c" >-6</text>
<line x1="64" y1="360.5" x2="69.5" y2="360.5" stroke="#333" stroke-width="1.3" />
<text x="55" y="364.7" font-size="16.5" text-anchor="end" font-weight="normal" font-style="normal" fill="#3d4f9c" >-5</text>
<line x1="64" y1="399" x2="69.5" y2="399" stroke="#333" stroke-width="1.3" />
<text x="55" y="403.2" font-size="16.5" text-anchor="end" font-weight="normal" font-style="normal" fill="#3d4f9c" >-4</text>
<line x1="64" y1="437.5" x2="69.5" y2="437.5" stroke="#333" stroke-width="1.3" />
<text x="55" y="441.7" font-size="16.5" text-anchor="end" font-weight="normal" font-style="normal" fill="#3d4f9c" >-3</text>
<text transform="translate(24.4,345.4) rotate(-90)" font-size="17.5" text-anchor="middle" fill="#6d8fcf" textLength="124.7" lengthAdjust="spacingAndGlyphs">δ<tspan font-size="11" dy="-6.5">18</tspan><tspan dy="6.5">O ‰ V-PDB</tspan></text>
<line x1="63" y1="437.5" x2="807" y2="437.5" stroke="#111" stroke-width="1.4" />
<line x1="68.3" y1="437.5" x2="68.3" y2="447" stroke="#111" stroke-width="3" />
<text x="77.7" y="467.7" font-size="16.5" text-anchor="middle" font-weight="bold" font-style="normal" fill="#111" >154</text>
<line x1="86.65" y1="433" x2="86.65" y2="442" stroke="#111" stroke-width="1.2" />
<line x1="105.0" y1="433" x2="105.0" y2="442" stroke="#111" stroke-width="1.2" />
<line x1="123.35" y1="433" x2="123.35" y2="442" stroke="#111" stroke-width="1.2" />
<line x1="141.7" y1="437.5" x2="141.7" y2="447" stroke="#111" stroke-width="3" />
<text x="142.5" y="467.7" font-size="16.5" text-anchor="middle" font-weight="bold" font-style="normal" fill="#111" >158</text>
<line x1="160.05" y1="433" x2="160.05" y2="442" stroke="#111" stroke-width="1.2" />
<line x1="178.4" y1="433" x2="178.4" y2="442" stroke="#111" stroke-width="1.2" />
<line x1="196.75" y1="433" x2="196.75" y2="442" stroke="#111" stroke-width="1.2" />
<line x1="215.10000000000002" y1="437.5" x2="215.10000000000002" y2="447" stroke="#111" stroke-width="3" />
<text x="214.1" y="467.7" font-size="16.5" text-anchor="middle" font-weight="bold" font-style="normal" fill="#111" >162</text>
<line x1="233.45" y1="433" x2="233.45" y2="442" stroke="#111" stroke-width="1.2" />
<line x1="251.8" y1="433" x2="251.8" y2="442" stroke="#111" stroke-width="1.2" />
<line x1="270.15000000000003" y1="433" x2="270.15000000000003" y2="442" stroke="#111" stroke-width="1.2" />
<line x1="288.5" y1="437.5" x2="288.5" y2="447" stroke="#111" stroke-width="3" />
<text x="285.4" y="467.7" font-size="16.5" text-anchor="middle" font-weight="bold" font-style="normal" fill="#111" >166</text>
<line x1="306.85" y1="433" x2="306.85" y2="442" stroke="#111" stroke-width="1.2" />
<line x1="325.20000000000005" y1="433" x2="325.20000000000005" y2="442" stroke="#111" stroke-width="1.2" />
<line x1="343.55" y1="433" x2="343.55" y2="442" stroke="#111" stroke-width="1.2" />
<line x1="361.90000000000003" y1="437.5" x2="361.90000000000003" y2="447" stroke="#111" stroke-width="3" />
<text x="358.6" y="467.7" font-size="16.5" text-anchor="middle" font-weight="bold" font-style="normal" fill="#111" >170</text>
<line x1="380.25000000000006" y1="433" x2="380.25000000000006" y2="442" stroke="#111" stroke-width="1.2" />
<line x1="398.6" y1="433" x2="398.6" y2="442" stroke="#111" stroke-width="1.2" />
<line x1="416.95000000000005" y1="433" x2="416.95000000000005" y2="442" stroke="#111" stroke-width="1.2" />
<line x1="435.3" y1="437.5" x2="435.3" y2="447" stroke="#111" stroke-width="3" />
<text x="432" y="467.7" font-size="16.5" text-anchor="middle" font-weight="bold" font-style="normal" fill="#111" >174</text>
<line x1="453.65000000000003" y1="433" x2="453.65000000000003" y2="442" stroke="#111" stroke-width="1.2" />
<line x1="472.00000000000006" y1="433" x2="472.00000000000006" y2="442" stroke="#111" stroke-width="1.2" />
<line x1="490.35" y1="433" x2="490.35" y2="442" stroke="#111" stroke-width="1.2" />
<line x1="508.70000000000005" y1="437.5" x2="508.70000000000005" y2="447" stroke="#111" stroke-width="3" />
<text x="508.8" y="467.7" font-size="16.5" text-anchor="middle" font-weight="bold" font-style="normal" fill="#111" >178</text>
<line x1="527.0500000000001" y1="433" x2="527.0500000000001" y2="442" stroke="#111" stroke-width="1.2" />
<line x1="545.4" y1="433" x2="545.4" y2="442" stroke="#111" stroke-width="1.2" />
<line x1="563.75" y1="433" x2="563.75" y2="442" stroke="#111" stroke-width="1.2" />
<line x1="582.1" y1="437.5" x2="582.1" y2="447" stroke="#111" stroke-width="3" />
<text x="582.3" y="467.7" font-size="16.5" text-anchor="middle" font-weight="bold" font-style="normal" fill="#111" >182</text>
<line x1="600.45" y1="433" x2="600.45" y2="442" stroke="#111" stroke-width="1.2" />
<line x1="618.8" y1="433" x2="618.8" y2="442" stroke="#111" stroke-width="1.2" />
<line x1="637.15" y1="433" x2="637.15" y2="442" stroke="#111" stroke-width="1.2" />
<line x1="655.5" y1="437.5" x2="655.5" y2="447" stroke="#111" stroke-width="3" />
<text x="652.5" y="467.7" font-size="16.5" text-anchor="middle" font-weight="bold" font-style="normal" fill="#111" >186</text>
<line x1="673.85" y1="433" x2="673.85" y2="442" stroke="#111" stroke-width="1.2" />
<line x1="692.2" y1="433" x2="692.2" y2="442" stroke="#111" stroke-width="1.2" />
<line x1="710.55" y1="433" x2="710.55" y2="442" stroke="#111" stroke-width="1.2" />
<line x1="728.9" y1="437.5" x2="728.9" y2="447" stroke="#111" stroke-width="3" />
<text x="726.4" y="467.7" font-size="16.5" text-anchor="middle" font-weight="bold" font-style="normal" fill="#111" >190</text>
<line x1="747.25" y1="433" x2="747.25" y2="442" stroke="#111" stroke-width="1.2" />
<line x1="765.6" y1="433" x2="765.6" y2="442" stroke="#111" stroke-width="1.2" />
<line x1="783.95" y1="433" x2="783.95" y2="442" stroke="#111" stroke-width="1.2" />
<line x1="802.3" y1="437.5" x2="802.3" y2="447" stroke="#111" stroke-width="3" />
<text x="799.2" y="467.7" font-size="16.5" text-anchor="middle" font-weight="bold" font-style="normal" fill="#111" >194</text>
<text x="369.7" y="486.7" font-size="15.6" text-anchor="start" font-weight="bold" font-style="normal" fill="#111" >Age ka</text>
<polyline points="76.0,128.9 76.5,126.5 76.5,129.4 76.6,127.6 77.1,134.0 77.1,122.5 77.4,134.3 78.0,115.9 78.4,137.9 78.5,129.5 78.5,115.0 79.0,115.8 79.1,120.2 79.3,125.5 79.7,134.7 80.0,145.0 80.0,129.6 80.3,130.1 80.5,120.4 81.1,138.3 81.3,131.0 81.3,118.9 81.5,114.7 82.0,122.9 82.4,122.5 82.5,117.8 82.7,134.3 83.2,124.3 83.3,128.5 83.5,122.3 83.9,120.4 83.9,118.7 84.0,147.0 84.4,117.9 84.6,131.6 84.7,112.8 85.3,115.7 85.4,123.0 85.5,130.7 85.8,128.3 86.0,122.1 86.3,118.0 86.9,134.7 87.0,132.4 87.1,121.2 87.6,137.4 87.7,127.9 88.0,117.2 88.0,99.0 88.5,119.1 88.5,112.0 88.7,126.1 89.0,126.5 89.4,122.3 89.9,123.1 90.0,150.0 90.0,133.8 90.1,113.8 90.7,114.6 90.7,132.3 91.2,136.0 91.2,135.7 91.8,126.1 91.8,111.9 91.9,136.3 92.0,103.0 92.3,128.9 92.5,132.2 93.0,117.0 93.0,129.2 93.3,115.1 93.8,132.9 94.1,116.4 94.3,116.0 94.5,114.0 94.8,109.8 94.9,118.7 95.4,111.9 95.6,133.8 96.1,127.0 96.2,109.2 96.3,124.9 96.5,134.2 97.0,126.4 97.1,135.7 97.5,129.0 97.7,136.6 97.8,123.8 98.0,97.0 98.3,101.0 98.4,133.7 98.6,105.0 98.7,128.2 99.0,134.1 99.0,127.7 99.6,132.8 99.6,130.6 100.0,163.0 100.1,124.5 100.3,119.3 100.3,158.0 100.5,125.5 100.5,126.3 101.0,152.0 101.2,132.9 101.4,119.5 101.7,124.7 101.8,131.7 101.9,129.3 102.1,125.2 102.6,115.2 103.0,122.4 103.2,133.8 103.3,109.4 103.6,127.3 103.8,113.7 104.0,101.0 104.3,106.0 104.4,126.7 104.5,132.9 104.7,126.9 104.9,120.7 105.5,133.4 105.8,119.5 105.9,117.7 105.9,122.4 106.5,131.5 106.7,134.1 106.8,113.9 107.2,116.7 107.3,120.3 107.8,122.3 107.9,131.2 108.3,110.6 108.5,121.3 109.0,110.9 109.2,124.3 109.2,129.8 109.4,113.3 109.8,110.6 110.2,111.2 110.3,116.0 110.7,121.2 111.0,103.0 111.0,126.4 111.4,134.0 111.6,115.1 111.7,114.6 111.8,121.9 112.4,114.6 112.4,118.7 112.9,123.1 113.1,129.0 113.3,129.8 113.8,112.4 114.0,121.5 114.1,128.1 114.5,132.8 114.6,124.4 115.2,130.0 115.5,121.8 115.6,115.4 115.9,130.5 116.1,128.1 116.2,132.5 116.8,134.4 116.9,129.9 117.0,144.0 117.0,132.8 117.5,121.3 117.6,119.0 118.0,129.3 118.2,111.2 118.6,112.1 118.9,114.8 118.9,129.8 119.1,114.2 119.6,128.3 120.0,127.4 120.0,105.0 120.3,122.7 120.5,123.5 120.6,112.8 120.8,128.4 121.2,123.4 121.6,124.3 121.6,120.0 122.1,131.4 122.1,132.6 122.7,123.5 122.8,115.7 123.1,123.0 123.4,111.6 123.8,130.2 123.8,123.3 124.1,122.8 124.5,112.5 124.7,120.9 125.0,143.0 125.1,122.4 125.1,133.2 125.3,121.5 125.9,132.8 126.0,118.8 126.1,126.0 126.7,114.4 126.9,116.8 126.9,111.9 127.4,119.2 127.5,126.3 127.7,129.0 128.0,123.8 128.0,107.0 128.3,116.3 128.7,122.2 128.9,121.6 129.2,115.6 129.3,126.9 129.8,124.6 130.2,126.6 130.5,117.6 130.7,131.5 131.0,146.0 131.0,134.2 131.0,119.7 131.2,136.1 131.8,129.7 131.8,115.5 132.1,114.6 132.6,122.5 132.9,115.5 132.9,128.9 133.0,117.3 133.6,134.4 134.0,150.0 134.0,115.4 134.1,130.8 134.3,129.2 134.4,114.4 134.7,113.7 135.2,125.2 135.4,116.4 135.5,117.8 136.1,136.9 136.3,136.1 136.4,115.6 136.7,132.1 136.9,125.1 137.3,124.5 137.6,114.7 137.9,135.1 137.9,125.6 138.5,119.1 138.5,125.0 138.9,115.8 139.4,135.5 139.5,137.1 139.8,126.1 140.0,106.0 140.0,128.8 140.4,139.2 140.5,136.7 140.9,136.4 141.0,110.0 141.2,127.4 141.5,139.5 141.7,136.9 142.0,128.1 142.2,119.9 142.3,130.0 142.4,127.2 143.0,134.4 143.1,142.5 143.5,127.6 143.8,133.6 144.0,129.2 144.5,136.0 144.6,139.1 145.0,165.0 145.0,120.6 145.1,138.9 145.2,130.4 145.4,125.3 145.5,158.0 145.8,123.1 146.0,143.9 146.4,134.0 146.9,135.9 147.2,138.0 147.4,123.6 147.5,145.8 147.5,141.4 147.9,134.2 148.0,157.0 148.1,134.8 148.6,123.1 149.1,132.2 149.1,136.8 149.3,128.5 149.7,135.5 149.8,139.5 150.0,110.0 150.1,120.9 150.3,121.5 150.6,140.1 150.9,143.6 151.4,120.9 151.6,143.4 151.8,144.4 152.0,131.8 152.6,125.2 152.6,143.7 153.0,131.0 153.4,140.0 153.5,121.2 153.7,130.1 153.8,119.3 154.2,120.9 154.5,135.4 154.7,124.3 155.1,128.3 155.4,131.0 155.8,142.2 155.9,140.6 155.9,122.7 156.5,132.9 156.6,123.1 157.0,130.9 157.0,109.0 157.2,132.6 157.6,120.1 157.6,142.0 158.0,116.1 158.2,138.8 158.4,126.0 158.8,116.6 159.1,115.5 159.1,132.5 159.6,130.9 159.8,126.5 160.0,122.5 160.0,145.0 160.5,115.7 160.5,136.2 161.1,129.7 161.3,117.7 161.4,118.9 161.9,121.8 162.1,139.6 162.2,126.8 162.7,137.2 162.8,121.1 162.9,135.8 163.1,112.5 163.7,123.8 164.0,118.1 164.3,128.5 164.3,111.3 164.5,117.9 165.1,128.9 165.1,112.6 165.4,129.6 165.7,111.4 166.1,124.4 166.5,135.2 166.8,120.1 167.0,115.9 167.0,118.7 167.5,117.2 167.6,133.1 167.9,117.0 168.1,117.6 168.3,122.8 168.9,121.9 169.0,104.0 169.1,128.3 169.2,122.4 169.6,120.8 169.7,113.8 170.0,92.0 170.1,122.2 170.5,96.0 170.6,124.5 170.8,106.8 170.9,128.5 170.9,107.3 171.0,100.0 171.5,123.6 171.5,131.6 171.8,126.9 172.3,111.6 172.4,127.2 172.8,127.0 173.0,114.1 173.5,125.8 173.6,121.7 173.9,128.3 174.3,119.5 174.5,128.8 174.8,134.5 175.1,138.4 175.4,130.5 175.5,133.2 175.9,123.7 175.9,113.5 176.0,219.0 176.0,226.0 176.2,212.0 176.3,205.0 176.4,150.5 176.5,118.1 176.5,198.0 176.6,130.3 176.7,190.0 176.8,183.0 177.0,157.2 177.0,176.0 177.1,129.6 177.4,148.0 177.9,144.2 178.0,130.9 178.4,125.4 178.4,164.8 178.8,129.1 179.1,151.8 179.5,125.8 179.6,128.2 179.9,149.4 180.2,138.5 180.7,153.4 180.7,134.6 181.3,127.7 181.4,155.3 181.6,121.9 181.7,154.3 182.3,128.5 182.5,134.0 182.6,154.4 183.0,104.0 183.0,131.4 183.1,121.3 183.5,144.5 183.9,117.2 183.9,135.9 184.0,108.0 184.2,121.1 184.8,130.9 184.9,149.9 185.0,131.4 185.2,140.9 185.4,143.1 186.0,121.5 186.1,143.4 186.6,115.1 186.7,129.8 187.0,108.0 187.2,134.7 187.5,123.8 187.7,128.4 188.0,115.9 188.2,120.7 188.4,133.0 188.5,144.9 188.8,125.0 188.9,124.9 189.4,140.9 189.6,139.9 189.8,128.8 190.2,151.3 190.5,130.1 190.7,140.9 191.1,127.2 191.3,155.0 191.3,135.9 192.0,129.2 192.2,132.8 192.3,141.9 192.6,135.7 192.9,147.9 193.0,177.0 193.1,133.0 193.6,139.1 194.0,147.9 194.1,140.8 194.4,133.5 194.4,133.5 194.9,153.9 194.9,144.1 195.4,139.1 195.5,151.0 195.7,136.2 196.0,180.0 196.1,135.1 196.6,147.2 196.7,154.3 197.1,160.4 197.2,144.8 197.4,135.1 197.7,157.3 198.3,161.0 198.3,146.4 198.4,155.3 198.8,157.2 198.9,148.6 199.4,162.4 199.7,162.2 199.8,157.3 200.0,178.0 200.4,154.1 200.4,155.7 200.5,161.0 201.2,154.9 201.4,165.2 201.4,168.7 201.9,146.4 201.9,145.0 202.4,161.1 202.5,168.6 202.8,153.7 202.9,170.1 203.0,135.0 203.2,168.0 203.7,157.2 204.0,147.8 204.4,171.2 204.6,165.9 204.6,158.8 204.9,168.3 205.0,175.0 205.2,158.1 205.7,145.8 205.8,142.4 205.9,145.7 206.6,170.1 206.7,150.0 207.0,163.7 207.0,137.0 207.1,159.1 207.6,155.3 207.6,141.1 207.8,152.8 208.0,180.0 208.3,146.3 208.5,149.2 208.8,151.4 209.1,142.4 209.4,145.8 209.8,159.8 209.8,154.1 210.2,162.6 210.5,164.5 210.7,171.8 211.1,167.7 211.2,155.2 211.5,169.5 211.7,158.4 212.0,169.9 212.2,144.8 212.7,170.3 212.9,161.6 213.2,153.2 213.4,146.4 213.4,157.6 213.9,156.5 213.9,165.3 214.4,152.4 214.6,157.1 214.8,147.8 215.4,174.0 215.6,171.1 214.5,172.0 215.0,180.0 215.5,188.0 215.8,196.0 216.0,204.0 216.5,150.0 217.0,120.0 217.5,95.0 218.0,80.0 219.0,92.0 220.0,88.0 221.0,95.0 222.0,90.0 223.0,100.0 224.0,94.0 225.0,105.0 226.0,97.0 227.0,92.0 228.0,99.0 229.0,104.0 230.0,95.0 231.0,88.0 232.0,92.0" fill="none" stroke="#9a2222" stroke-width="1" stroke-linejoin="round" />
<ellipse cx="76.0" cy="128.9" rx="3.0" ry="1.9" fill="#d4382b"/>
<ellipse cx="76.5" cy="126.5" rx="3.0" ry="1.9" fill="#d4382b"/>
<ellipse cx="76.5" cy="129.4" rx="3.0" ry="1.9" fill="#d4382b"/>
<ellipse cx="76.6" cy="127.6" rx="3.0" ry="1.9" fill="#d4382b"/>
<ellipse cx="77.1" cy="134.0" rx="3.0" ry="1.9" fill="#d4382b"/>
<ellipse cx="77.1" cy="122.5" rx="3.0" ry="1.9" fill="#d4382b"/>
<ellipse cx="77.4" cy="134.3" rx="3.0" ry="1.9" fill="#d4382b"/>
<ellipse cx="78.0" cy="115.9" rx="3.0" ry="1.9" fill="#d4382b"/>
<ellipse cx="78.4" cy="137.9" rx="3.0" ry="1.9" fill="#d4382b"/>
<ellipse cx="78.5" cy="129.5" rx="3.0" ry="1.9" fill="#d4382b"/>
<ellipse cx="78.5" cy="115.0" rx="3.0" ry="1.9" fill="#d4382b"/>
<ellipse cx="79.0" cy="115.8" rx="3.0" ry="1.9" fill="#d4382b"/>
<ellipse cx="79.1" cy="120.2" rx="3.0" ry="1.9" fill="#d4382b"/>
<ellipse cx="79.3" cy="125.5" rx="3.0" ry="1.9" fill="#d4382b"/>
<ellipse cx="79.7" cy="134.7" rx="3.0" ry="1.9" fill="#d4382b"/>
<ellipse cx="80.0" cy="145.0" rx="3.0" ry="1.9" fill="#d4382b"/>
<ellipse cx="80.0" cy="129.6" rx="3.0" ry="1.9" fill="#d4382b"/>
<ellipse cx="80.3" cy="130.1" rx="3.0" ry="1.9" fill="#d4382b"/>
<ellipse cx="80.5" cy="120.4" rx="3.0" ry="1.9" fill="#d4382b"/>
<ellipse cx="81.1" cy="138.3" rx="3.0" ry="1.9" fill="#d4382b"/>
<ellipse cx="81.3" cy="131.0" rx="3.0" ry="1.9" fill="#d4382b"/>
<ellipse cx="81.3" cy="118.9" rx="3.0" ry="1.9" fill="#d4382b"/>
<ellipse cx="81.5" cy="114.7" rx="3.0" ry="1.9" fill="#d4382b"/>
<ellipse cx="82.0" cy="122.9" rx="3.0" ry="1.9" fill="#d4382b"/>
<ellipse cx="82.4" cy="122.5" rx="3.0" ry="1.9" fill="#d4382b"/>
<ellipse cx="82.5" cy="117.8" rx="3.0" ry="1.9" fill="#d4382b"/>
<ellipse cx="82.7" cy="134.3" rx="3.0" ry="1.9" fill="#d4382b"/>
<ellipse cx="83.2" cy="124.3" rx="3.0" ry="1.9" fill="#d4382b"/>
<ellipse cx="83.3" cy="128.5" rx="3.0" ry="1.9" fill="#d4382b"/>
<ellipse cx="83.5" cy="122.3" rx="3.0" ry="1.9" fill="#d4382b"/>
<ellipse cx="83.9" cy="120.4" rx="3.0" ry="1.9" fill="#d4382b"/>
<ellipse cx="83.9" cy="118.7" rx="3.0" ry="1.9" fill="#d4382b"/>
<ellipse cx="84.0" cy="147.0" rx="3.0" ry="1.9" fill="#d4382b"/>
<ellipse cx="84.4" cy="117.9" rx="3.0" ry="1.9" fill="#d4382b"/>
<ellipse cx="84.6" cy="131.6" rx="3.0" ry="1.9" fill="#d4382b"/>
<ellipse cx="84.7" cy="112.8" rx="3.0" ry="1.9" fill="#d4382b"/>
<ellipse cx="85.3" cy="115.7" rx="3.0" ry="1.9" fill="#d4382b"/>
<ellipse cx="85.4" cy="123.0" rx="3.0" ry="1.9" fill="#d4382b"/>
<ellipse cx="85.5" cy="130.7" rx="3.0" ry="1.9" fill="#d4382b"/>
<ellipse cx="85.8" cy="128.3" rx="3.0" ry="1.9" fill="#d4382b"/>
<ellipse cx="86.0" cy="122.1" rx="3.0" ry="1.9" fill="#d4382b"/>
<ellipse cx="86.3" cy="118.0" rx="3.0" ry="1.9" fill="#d4382b"/>
<ellipse cx="86.9" cy="134.7" rx="3.0" ry="1.9" fill="#d4382b"/>
<ellipse cx="87.0" cy="132.4" rx="3.0" ry="1.9" fill="#d4382b"/>
<ellipse cx="87.1" cy="121.2" rx="3.0" ry="1.9" fill="#d4382b"/>
<ellipse cx="87.6" cy="137.4" rx="3.0" ry="1.9" fill="#d4382b"/>
<ellipse cx="87.7" cy="127.9" rx="3.0" ry="1.9" fill="#d4382b"/>
<ellipse cx="88.0" cy="117.2" rx="3.0" ry="1.9" fill="#d4382b"/>
<ellipse cx="88.0" cy="99.0" rx="3.0" ry="1.9" fill="#d4382b"/>
<ellipse cx="88.5" cy="119.1" rx="3.0" ry="1.9" fill="#d4382b"/>
<ellipse cx="88.5" cy="112.0" rx="3.0" ry="1.9" fill="#d4382b"/>
<ellipse cx="88.7" cy="126.1" rx="3.0" ry="1.9" fill="#d4382b"/>
<ellipse cx="89.0" cy="126.5" rx="3.0" ry="1.9" fill="#d4382b"/>
<ellipse cx="89.4" cy="122.3" rx="3.0" ry="1.9" fill="#d4382b"/>
<ellipse cx="89.9" cy="123.1" rx="3.0" ry="1.9" fill="#d4382b"/>
<ellipse cx="90.0" cy="150.0" rx="3.0" ry="1.9" fill="#d4382b"/>
<ellipse cx="90.0" cy="133.8" rx="3.0" ry="1.9" fill="#d4382b"/>
<ellipse cx="90.1" cy="113.8" rx="3.0" ry="1.9" fill="#d4382b"/>
<ellipse cx="90.7" cy="114.6" rx="3.0" ry="1.9" fill="#d4382b"/>
<ellipse cx="90.7" cy="132.3" rx="3.0" ry="1.9" fill="#d4382b"/>
<ellipse cx="91.2" cy="136.0" rx="3.0" ry="1.9" fill="#d4382b"/>
<ellipse cx="91.2" cy="135.7" rx="3.0" ry="1.9" fill="#d4382b"/>
<ellipse cx="91.8" cy="126.1" rx="3.0" ry="1.9" fill="#d4382b"/>
<ellipse cx="91.8" cy="111.9" rx="3.0" ry="1.9" fill="#d4382b"/>
<ellipse cx="91.9" cy="136.3" rx="3.0" ry="1.9" fill="#d4382b"/>
<ellipse cx="92.0" cy="103.0" rx="3.0" ry="1.9" fill="#d4382b"/>
<ellipse cx="92.3" cy="128.9" rx="3.0" ry="1.9" fill="#d4382b"/>
<ellipse cx="92.5" cy="132.2" rx="3.0" ry="1.9" fill="#d4382b"/>
<ellipse cx="93.0" cy="117.0" rx="3.0" ry="1.9" fill="#d4382b"/>
<ellipse cx="93.0" cy="129.2" rx="3.0" ry="1.9" fill="#d4382b"/>
<ellipse cx="93.3" cy="115.1" rx="3.0" ry="1.9" fill="#d4382b"/>
<ellipse cx="93.8" cy="132.9" rx="3.0" ry="1.9" fill="#d4382b"/>
<ellipse cx="94.1" cy="116.4" rx="3.0" ry="1.9" fill="#d4382b"/>
<ellipse cx="94.3" cy="116.0" rx="3.0" ry="1.9" fill="#d4382b"/>
<ellipse cx="94.5" cy="114.0" rx="3.0" ry="1.9" fill="#d4382b"/>
<ellipse cx="94.8" cy="109.8" rx="3.0" ry="1.9" fill="#d4382b"/>
<ellipse cx="94.9" cy="118.7" rx="3.0" ry="1.9" fill="#d4382b"/>
<ellipse cx="95.4" cy="111.9" rx="3.0" ry="1.9" fill="#d4382b"/>
<ellipse cx="95.6" cy="133.8" rx="3.0" ry="1.9" fill="#d4382b"/>
<ellipse cx="96.1" cy="127.0" rx="3.0" ry="1.9" fill="#d4382b"/>
<ellipse cx="96.2" cy="109.2" rx="3.0" ry="1.9" fill="#d4382b"/>
<ellipse cx="96.3" cy="124.9" rx="3.0" ry="1.9" fill="#d4382b"/>
<ellipse cx="96.5" cy="134.2" rx="3.0" ry="1.9" fill="#d4382b"/>
<ellipse cx="97.0" cy="126.4" rx="3.0" ry="1.9" fill="#d4382b"/>
<ellipse cx="97.1" cy="135.7" rx="3.0" ry="1.9" fill="#d4382b"/>
<ellipse cx="97.5" cy="129.0" rx="3.0" ry="1.9" fill="#d4382b"/>
<ellipse cx="97.7" cy="136.6" rx="3.0" ry="1.9" fill="#d4382b"/>
<ellipse cx="97.8" cy="123.8" rx="3.0" ry="1.9" fill="#d4382b"/>
<ellipse cx="98.0" cy="97.0" rx="3.0" ry="1.9" fill="#d4382b"/>
<ellipse cx="98.3" cy="101.0" rx="3.0" ry="1.9" fill="#d4382b"/>
<ellipse cx="98.4" cy="133.7" rx="3.0" ry="1.9" fill="#d4382b"/>
<ellipse cx="98.6" cy="105.0" rx="3.0" ry="1.9" fill="#d4382b"/>
<ellipse cx="98.7" cy="128.2" rx="3.0" ry="1.9" fill="#d4382b"/>
<ellipse cx="99.0" cy="134.1" rx="3.0" ry="1.9" fill="#d4382b"/>
<ellipse cx="99.0" cy="127.7" rx="3.0" ry="1.9" fill="#d4382b"/>
<ellipse cx="99.6" cy="132.8" rx="3.0" ry="1.9" fill="#d4382b"/>
<ellipse cx="99.6" cy="130.6" rx="3.0" ry="1.9" fill="#d4382b"/>
<ellipse cx="100.0" cy="163.0" rx="3.0" ry="1.9" fill="#d4382b"/>
<ellipse cx="100.1" cy="124.5" rx="3.0" ry="1.9" fill="#d4382b"/>
<ellipse cx="100.3" cy="119.3" rx="3.0" ry="1.9" fill="#d4382b"/>
<ellipse cx="100.3" cy="158.0" rx="3.0" ry="1.9" fill="#d4382b"/>
<ellipse cx="100.5" cy="125.5" rx="3.0" ry="1.9" fill="#d4382b"/>
<ellipse cx="100.5" cy="126.3" rx="3.0" ry="1.9" fill="#d4382b"/>
<ellipse cx="101.0" cy="152.0" rx="3.0" ry="1.9" fill="#d4382b"/>
<ellipse cx="101.2" cy="132.9" rx="3.0" ry="1.9" fill="#d4382b"/>
<ellipse cx="101.4" cy="119.5" rx="3.0" ry="1.9" fill="#d4382b"/>
<ellipse cx="101.7" cy="124.7" rx="3.0" ry="1.9" fill="#d4382b"/>
<ellipse cx="101.8" cy="131.7" rx="3.0" ry="1.9" fill="#d4382b"/>
<ellipse cx="101.9" cy="129.3" rx="3.0" ry="1.9" fill="#d4382b"/>
<ellipse cx="102.1" cy="125.2" rx="3.0" ry="1.9" fill="#d4382b"/>
<ellipse cx="102.6" cy="115.2" rx="3.0" ry="1.9" fill="#d4382b"/>
<ellipse cx="103.0" cy="122.4" rx="3.0" ry="1.9" fill="#d4382b"/>
<ellipse cx="103.2" cy="133.8" rx="3.0" ry="1.9" fill="#d4382b"/>
<ellipse cx="103.3" cy="109.4" rx="3.0" ry="1.9" fill="#d4382b"/>
<ellipse cx="103.6" cy="127.3" rx="3.0" ry="1.9" fill="#d4382b"/>
<ellipse cx="103.8" cy="113.7" rx="3.0" ry="1.9" fill="#d4382b"/>
<ellipse cx="104.0" cy="101.0" rx="3.0" ry="1.9" fill="#d4382b"/>
<ellipse cx="104.3" cy="106.0" rx="3.0" ry="1.9" fill="#d4382b"/>
<ellipse cx="104.4" cy="126.7" rx="3.0" ry="1.9" fill="#d4382b"/>
<ellipse cx="104.5" cy="132.9" rx="3.0" ry="1.9" fill="#d4382b"/>
<ellipse cx="104.7" cy="126.9" rx="3.0" ry="1.9" fill="#d4382b"/>
<ellipse cx="104.9" cy="120.7" rx="3.0" ry="1.9" fill="#d4382b"/>
<ellipse cx="105.5" cy="133.4" rx="3.0" ry="1.9" fill="#d4382b"/>
<ellipse cx="105.8" cy="119.5" rx="3.0" ry="1.9" fill="#d4382b"/>
<ellipse cx="105.9" cy="117.7" rx="3.0" ry="1.9" fill="#d4382b"/>
<ellipse cx="105.9" cy="122.4" rx="3.0" ry="1.9" fill="#d4382b"/>
<ellipse cx="106.5" cy="131.5" rx="3.0" ry="1.9" fill="#d4382b"/>
<ellipse cx="106.7" cy="134.1" rx="3.0" ry="1.9" fill="#d4382b"/>
<ellipse cx="106.8" cy="113.9" rx="3.0" ry="1.9" fill="#d4382b"/>
<ellipse cx="107.2" cy="116.7" rx="3.0" ry="1.9" fill="#d4382b"/>
<ellipse cx="107.3" cy="120.3" rx="3.0" ry="1.9" fill="#d4382b"/>
<ellipse cx="107.8" cy="122.3" rx="3.0" ry="1.9" fill="#d4382b"/>
<ellipse cx="107.9" cy="131.2" rx="3.0" ry="1.9" fill="#d4382b"/>
<ellipse cx="108.3" cy="110.6" rx="3.0" ry="1.9" fill="#d4382b"/>
<ellipse cx="108.5" cy="121.3" rx="3.0" ry="1.9" fill="#d4382b"/>
<ellipse cx="109.0" cy="110.9" rx="3.0" ry="1.9" fill="#d4382b"/>
<ellipse cx="109.2" cy="124.3" rx="3.0" ry="1.9" fill="#d4382b"/>
<ellipse cx="109.2" cy="129.8" rx="3.0" ry="1.9" fill="#d4382b"/>
<ellipse cx="109.4" cy="113.3" rx="3.0" ry="1.9" fill="#d4382b"/>
<ellipse cx="109.8" cy="110.6" rx="3.0" ry="1.9" fill="#d4382b"/>
<ellipse cx="110.2" cy="111.2" rx="3.0" ry="1.9" fill="#d4382b"/>
<ellipse cx="110.3" cy="116.0" rx="3.0" ry="1.9" fill="#d4382b"/>
<ellipse cx="110.7" cy="121.2" rx="3.0" ry="1.9" fill="#d4382b"/>
<ellipse cx="111.0" cy="103.0" rx="3.0" ry="1.9" fill="#d4382b"/>
<ellipse cx="111.0" cy="126.4" rx="3.0" ry="1.9" fill="#d4382b"/>
<ellipse cx="111.4" cy="134.0" rx="3.0" ry="1.9" fill="#d4382b"/>
<ellipse cx="111.6" cy="115.1" rx="3.0" ry="1.9" fill="#d4382b"/>
<ellipse cx="111.7" cy="114.6" rx="3.0" ry="1.9" fill="#d4382b"/>
<ellipse cx="111.8" cy="121.9" rx="3.0" ry="1.9" fill="#d4382b"/>
<ellipse cx="112.4" cy="114.6" rx="3.0" ry="1.9" fill="#d4382b"/>
<ellipse cx="112.4" cy="118.7" rx="3.0" ry="1.9" fill="#d4382b"/>
<ellipse cx="112.9" cy="123.1" rx="3.0" ry="1.9" fill="#d4382b"/>
<ellipse cx="113.1" cy="129.0" rx="3.0" ry="1.9" fill="#d4382b"/>
<ellipse cx="113.3" cy="129.8" rx="3.0" ry="1.9" fill="#d4382b"/>
<ellipse cx="113.8" cy="112.4" rx="3.0" ry="1.9" fill="#d4382b"/>
<ellipse cx="114.0" cy="121.5" rx="3.0" ry="1.9" fill="#d4382b"/>
<ellipse cx="114.1" cy="128.1" rx="3.0" ry="1.9" fill="#d4382b"/>
<ellipse cx="114.5" cy="132.8" rx="3.0" ry="1.9" fill="#d4382b"/>
<ellipse cx="114.6" cy="124.4" rx="3.0" ry="1.9" fill="#d4382b"/>
<ellipse cx="115.2" cy="130.0" rx="3.0" ry="1.9" fill="#d4382b"/>
<ellipse cx="115.5" cy="121.8" rx="3.0" ry="1.9" fill="#d4382b"/>
<ellipse cx="115.6" cy="115.4" rx="3.0" ry="1.9" fill="#d4382b"/>
<ellipse cx="115.9" cy="130.5" rx="3.0" ry="1.9" fill="#d4382b"/>
<ellipse cx="116.1" cy="128.1" rx="3.0" ry="1.9" fill="#d4382b"/>
<ellipse cx="116.2" cy="132.5" rx="3.0" ry="1.9" fill="#d4382b"/>
<ellipse cx="116.8" cy="134.4" rx="3.0" ry="1.9" fill="#d4382b"/>
<ellipse cx="116.9" cy="129.9" rx="3.0" ry="1.9" fill="#d4382b"/>
<ellipse cx="117.0" cy="144.0" rx="3.0" ry="1.9" fill="#d4382b"/>
<ellipse cx="117.0" cy="132.8" rx="3.0" ry="1.9" fill="#d4382b"/>
<ellipse cx="117.5" cy="121.3" rx="3.0" ry="1.9" fill="#d4382b"/>
<ellipse cx="117.6" cy="119.0" rx="3.0" ry="1.9" fill="#d4382b"/>
<ellipse cx="118.0" cy="129.3" rx="3.0" ry="1.9" fill="#d4382b"/>
<ellipse cx="118.2" cy="111.2" rx="3.0" ry="1.9" fill="#d4382b"/>
<ellipse cx="118.6" cy="112.1" rx="3.0" ry="1.9" fill="#d4382b"/>
<ellipse cx="118.9" cy="114.8" rx="3.0" ry="1.9" fill="#d4382b"/>
<ellipse cx="118.9" cy="129.8" rx="3.0" ry="1.9" fill="#d4382b"/>
<ellipse cx="119.1" cy="114.2" rx="3.0" ry="1.9" fill="#d4382b"/>
<ellipse cx="119.6" cy="128.3" rx="3.0" ry="1.9" fill="#d4382b"/>
<ellipse cx="120.0" cy="127.4" rx="3.0" ry="1.9" fill="#d4382b"/>
<ellipse cx="120.0" cy="105.0" rx="3.0" ry="1.9" fill="#d4382b"/>
<ellipse cx="120.3" cy="122.7" rx="3.0" ry="1.9" fill="#d4382b"/>
<ellipse cx="120.5" cy="123.5" rx="3.0" ry="1.9" fill="#d4382b"/>
<ellipse cx="120.6" cy="112.8" rx="3.0" ry="1.9" fill="#d4382b"/>
<ellipse cx="120.8" cy="128.4" rx="3.0" ry="1.9" fill="#d4382b"/>
<ellipse cx="121.2" cy="123.4" rx="3.0" ry="1.9" fill="#d4382b"/>
<ellipse cx="121.6" cy="124.3" rx="3.0" ry="1.9" fill="#d4382b"/>
<ellipse cx="121.6" cy="120.0" rx="3.0" ry="1.9" fill="#d4382b"/>
<ellipse cx="122.1" cy="131.4" rx="3.0" ry="1.9" fill="#d4382b"/>
<ellipse cx="122.1" cy="132.6" rx="3.0" ry="1.9" fill="#d4382b"/>
<ellipse cx="122.7" cy="123.5" rx="3.0" ry="1.9" fill="#d4382b"/>
<ellipse cx="122.8" cy="115.7" rx="3.0" ry="1.9" fill="#d4382b"/>
<ellipse cx="123.1" cy="123.0" rx="3.0" ry="1.9" fill="#d4382b"/>
<ellipse cx="123.4" cy="111.6" rx="3.0" ry="1.9" fill="#d4382b"/>
<ellipse cx="123.8" cy="130.2" rx="3.0" ry="1.9" fill="#d4382b"/>
<ellipse cx="123.8" cy="123.3" rx="3.0" ry="1.9" fill="#d4382b"/>
<ellipse cx="124.1" cy="122.8" rx="3.0" ry="1.9" fill="#d4382b"/>
<ellipse cx="124.5" cy="112.5" rx="3.0" ry="1.9" fill="#d4382b"/>
<ellipse cx="124.7" cy="120.9" rx="3.0" ry="1.9" fill="#d4382b"/>
<ellipse cx="125.0" cy="143.0" rx="3.0" ry="1.9" fill="#d4382b"/>
<ellipse cx="125.1" cy="122.4" rx="3.0" ry="1.9" fill="#d4382b"/>
<ellipse cx="125.1" cy="133.2" rx="3.0" ry="1.9" fill="#d4382b"/>
<ellipse cx="125.3" cy="121.5" rx="3.0" ry="1.9" fill="#d4382b"/>
<ellipse cx="125.9" cy="132.8" rx="3.0" ry="1.9" fill="#d4382b"/>
<ellipse cx="126.0" cy="118.8" rx="3.0" ry="1.9" fill="#d4382b"/>
<ellipse cx="126.1" cy="126.0" rx="3.0" ry="1.9" fill="#d4382b"/>
<ellipse cx="126.7" cy="114.4" rx="3.0" ry="1.9" fill="#d4382b"/>
<ellipse cx="126.9" cy="116.8" rx="3.0" ry="1.9" fill="#d4382b"/>
<ellipse cx="126.9" cy="111.9" rx="3.0" ry="1.9" fill="#d4382b"/>
<ellipse cx="127.4" cy="119.2" rx="3.0" ry="1.9" fill="#d4382b"/>
<ellipse cx="127.5" cy="126.3" rx="3.0" ry="1.9" fill="#d4382b"/>
<ellipse cx="127.7" cy="129.0" rx="3.0" ry="1.9" fill="#d4382b"/>
<ellipse cx="128.0" cy="123.8" rx="3.0" ry="1.9" fill="#d4382b"/>
<ellipse cx="128.0" cy="107.0" rx="3.0" ry="1.9" fill="#d4382b"/>
<ellipse cx="128.3" cy="116.3" rx="3.0" ry="1.9" fill="#d4382b"/>
<ellipse cx="128.7" cy="122.2" rx="3.0" ry="1.9" fill="#d4382b"/>
<ellipse cx="128.9" cy="121.6" rx="3.0" ry="1.9" fill="#d4382b"/>
<ellipse cx="129.2" cy="115.6" rx="3.0" ry="1.9" fill="#d4382b"/>
<ellipse cx="129.3" cy="126.9" rx="3.0" ry="1.9" fill="#d4382b"/>
<ellipse cx="129.8" cy="124.6" rx="3.0" ry="1.9" fill="#d4382b"/>
<ellipse cx="130.2" cy="126.6" rx="3.0" ry="1.9" fill="#d4382b"/>
<ellipse cx="130.5" cy="117.6" rx="3.0" ry="1.9" fill="#d4382b"/>
<ellipse cx="130.7" cy="131.5" rx="3.0" ry="1.9" fill="#d4382b"/>
<ellipse cx="131.0" cy="146.0" rx="3.0" ry="1.9" fill="#d4382b"/>
<ellipse cx="131.0" cy="134.2" rx="3.0" ry="1.9" fill="#d4382b"/>
<ellipse cx="131.0" cy="119.7" rx="3.0" ry="1.9" fill="#d4382b"/>
<ellipse cx="131.2" cy="136.1" rx="3.0" ry="1.9" fill="#d4382b"/>
<ellipse cx="131.8" cy="129.7" rx="3.0" ry="1.9" fill="#d4382b"/>
<ellipse cx="131.8" cy="115.5" rx="3.0" ry="1.9" fill="#d4382b"/>
<ellipse cx="132.1" cy="114.6" rx="3.0" ry="1.9" fill="#d4382b"/>
<ellipse cx="132.6" cy="122.5" rx="3.0" ry="1.9" fill="#d4382b"/>
<ellipse cx="132.9" cy="115.5" rx="3.0" ry="1.9" fill="#d4382b"/>
<ellipse cx="132.9" cy="128.9" rx="3.0" ry="1.9" fill="#d4382b"/>
<ellipse cx="133.0" cy="117.3" rx="3.0" ry="1.9" fill="#d4382b"/>
<ellipse cx="133.6" cy="134.4" rx="3.0" ry="1.9" fill="#d4382b"/>
<ellipse cx="134.0" cy="150.0" rx="3.0" ry="1.9" fill="#d4382b"/>
<ellipse cx="134.0" cy="115.4" rx="3.0" ry="1.9" fill="#d4382b"/>
<ellipse cx="134.1" cy="130.8" rx="3.0" ry="1.9" fill="#d4382b"/>
<ellipse cx="134.3" cy="129.2" rx="3.0" ry="1.9" fill="#d4382b"/>
<ellipse cx="134.4" cy="114.4" rx="3.0" ry="1.9" fill="#d4382b"/>
<ellipse cx="134.7" cy="113.7" rx="3.0" ry="1.9" fill="#d4382b"/>
<ellipse cx="135.2" cy="125.2" rx="3.0" ry="1.9" fill="#d4382b"/>
<ellipse cx="135.4" cy="116.4" rx="3.0" ry="1.9" fill="#d4382b"/>
<ellipse cx="135.5" cy="117.8" rx="3.0" ry="1.9" fill="#d4382b"/>
<ellipse cx="136.1" cy="136.9" rx="3.0" ry="1.9" fill="#d4382b"/>
<ellipse cx="136.3" cy="136.1" rx="3.0" ry="1.9" fill="#d4382b"/>
<ellipse cx="136.4" cy="115.6" rx="3.0" ry="1.9" fill="#d4382b"/>
<ellipse cx="136.7" cy="132.1" rx="3.0" ry="1.9" fill="#d4382b"/>
<ellipse cx="136.9" cy="125.1" rx="3.0" ry="1.9" fill="#d4382b"/>
<ellipse cx="137.3" cy="124.5" rx="3.0" ry="1.9" fill="#d4382b"/>
<ellipse cx="137.6" cy="114.7" rx="3.0" ry="1.9" fill="#d4382b"/>
<ellipse cx="137.9" cy="135.1" rx="3.0" ry="1.9" fill="#d4382b"/>
<ellipse cx="137.9" cy="125.6" rx="3.0" ry="1.9" fill="#d4382b"/>
<ellipse cx="138.5" cy="119.1" rx="3.0" ry="1.9" fill="#d4382b"/>
<ellipse cx="138.5" cy="125.0" rx="3.0" ry="1.9" fill="#d4382b"/>
<ellipse cx="138.9" cy="115.8" rx="3.0" ry="1.9" fill="#d4382b"/>
<ellipse cx="139.4" cy="135.5" rx="3.0" ry="1.9" fill="#d4382b"/>
<ellipse cx="139.5" cy="137.1" rx="3.0" ry="1.9" fill="#d4382b"/>
<ellipse cx="139.8" cy="126.1" rx="3.0" ry="1.9" fill="#d4382b"/>
<ellipse cx="140.0" cy="106.0" rx="3.0" ry="1.9" fill="#d4382b"/>
<ellipse cx="140.0" cy="128.8" rx="3.0" ry="1.9" fill="#d4382b"/>
<ellipse cx="140.4" cy="139.2" rx="3.0" ry="1.9" fill="#d4382b"/>
<ellipse cx="140.5" cy="136.7" rx="3.0" ry="1.9" fill="#d4382b"/>
<ellipse cx="140.9" cy="136.4" rx="3.0" ry="1.9" fill="#d4382b"/>
<ellipse cx="141.0" cy="110.0" rx="3.0" ry="1.9" fill="#d4382b"/>
<ellipse cx="141.2" cy="127.4" rx="3.0" ry="1.9" fill="#d4382b"/>
<ellipse cx="141.5" cy="139.5" rx="3.0" ry="1.9" fill="#d4382b"/>
<ellipse cx="141.7" cy="136.9" rx="3.0" ry="1.9" fill="#d4382b"/>
<ellipse cx="142.0" cy="128.1" rx="3.0" ry="1.9" fill="#d4382b"/>
<ellipse cx="142.2" cy="119.9" rx="3.0" ry="1.9" fill="#d4382b"/>
<ellipse cx="142.3" cy="130.0" rx="3.0" ry="1.9" fill="#d4382b"/>
<ellipse cx="142.4" cy="127.2" rx="3.0" ry="1.9" fill="#d4382b"/>
<ellipse cx="143.0" cy="134.4" rx="3.0" ry="1.9" fill="#d4382b"/>
<ellipse cx="143.1" cy="142.5" rx="3.0" ry="1.9" fill="#d4382b"/>
<ellipse cx="143.5" cy="127.6" rx="3.0" ry="1.9" fill="#d4382b"/>
<ellipse cx="143.8" cy="133.6" rx="3.0" ry="1.9" fill="#d4382b"/>
<ellipse cx="144.0" cy="129.2" rx="3.0" ry="1.9" fill="#d4382b"/>
<ellipse cx="144.5" cy="136.0" rx="3.0" ry="1.9" fill="#d4382b"/>
<ellipse cx="144.6" cy="139.1" rx="3.0" ry="1.9" fill="#d4382b"/>
<ellipse cx="145.0" cy="165.0" rx="3.0" ry="1.9" fill="#d4382b"/>
<ellipse cx="145.0" cy="120.6" rx="3.0" ry="1.9" fill="#d4382b"/>
<ellipse cx="145.1" cy="138.9" rx="3.0" ry="1.9" fill="#d4382b"/>
<ellipse cx="145.2" cy="130.4" rx="3.0" ry="1.9" fill="#d4382b"/>
<ellipse cx="145.4" cy="125.3" rx="3.0" ry="1.9" fill="#d4382b"/>
<ellipse cx="145.5" cy="158.0" rx="3.0" ry="1.9" fill="#d4382b"/>
<ellipse cx="145.8" cy="123.1" rx="3.0" ry="1.9" fill="#d4382b"/>
<ellipse cx="146.0" cy="143.9" rx="3.0" ry="1.9" fill="#d4382b"/>
<ellipse cx="146.4" cy="134.0" rx="3.0" ry="1.9" fill="#d4382b"/>
<ellipse cx="146.9" cy="135.9" rx="3.0" ry="1.9" fill="#d4382b"/>
<ellipse cx="147.2" cy="138.0" rx="3.0" ry="1.9" fill="#d4382b"/>
<ellipse cx="147.4" cy="123.6" rx="3.0" ry="1.9" fill="#d4382b"/>
<ellipse cx="147.5" cy="145.8" rx="3.0" ry="1.9" fill="#d4382b"/>
<ellipse cx="147.5" cy="141.4" rx="3.0" ry="1.9" fill="#d4382b"/>
<ellipse cx="147.9" cy="134.2" rx="3.0" ry="1.9" fill="#d4382b"/>
<ellipse cx="148.0" cy="157.0" rx="3.0" ry="1.9" fill="#d4382b"/>
<ellipse cx="148.1" cy="134.8" rx="3.0" ry="1.9" fill="#d4382b"/>
<ellipse cx="148.6" cy="123.1" rx="3.0" ry="1.9" fill="#d4382b"/>
<ellipse cx="149.1" cy="132.2" rx="3.0" ry="1.9" fill="#d4382b"/>
<ellipse cx="149.1" cy="136.8" rx="3.0" ry="1.9" fill="#d4382b"/>
<ellipse cx="149.3" cy="128.5" rx="3.0" ry="1.9" fill="#d4382b"/>
<ellipse cx="149.7" cy="135.5" rx="3.0" ry="1.9" fill="#d4382b"/>
<ellipse cx="149.8" cy="139.5" rx="3.0" ry="1.9" fill="#d4382b"/>
<ellipse cx="150.0" cy="110.0" rx="3.0" ry="1.9" fill="#d4382b"/>
<ellipse cx="150.1" cy="120.9" rx="3.0" ry="1.9" fill="#d4382b"/>
<ellipse cx="150.3" cy="121.5" rx="3.0" ry="1.9" fill="#d4382b"/>
<ellipse cx="150.6" cy="140.1" rx="3.0" ry="1.9" fill="#d4382b"/>
<ellipse cx="150.9" cy="143.6" rx="3.0" ry="1.9" fill="#d4382b"/>
<ellipse cx="151.4" cy="120.9" rx="3.0" ry="1.9" fill="#d4382b"/>
<ellipse cx="151.6" cy="143.4" rx="3.0" ry="1.9" fill="#d4382b"/>
<ellipse cx="151.8" cy="144.4" rx="3.0" ry="1.9" fill="#d4382b"/>
<ellipse cx="152.0" cy="131.8" rx="3.0" ry="1.9" fill="#d4382b"/>
<ellipse cx="152.6" cy="125.2" rx="3.0" ry="1.9" fill="#d4382b"/>
<ellipse cx="152.6" cy="143.7" rx="3.0" ry="1.9" fill="#d4382b"/>
<ellipse cx="153.0" cy="131.0" rx="3.0" ry="1.9" fill="#d4382b"/>
<ellipse cx="153.4" cy="140.0" rx="3.0" ry="1.9" fill="#d4382b"/>
<ellipse cx="153.5" cy="121.2" rx="3.0" ry="1.9" fill="#d4382b"/>
<ellipse cx="153.7" cy="130.1" rx="3.0" ry="1.9" fill="#d4382b"/>
<ellipse cx="153.8" cy="119.3" rx="3.0" ry="1.9" fill="#d4382b"/>
<ellipse cx="154.2" cy="120.9" rx="3.0" ry="1.9" fill="#d4382b"/>
<ellipse cx="154.5" cy="135.4" rx="3.0" ry="1.9" fill="#d4382b"/>
<ellipse cx="154.7" cy="124.3" rx="3.0" ry="1.9" fill="#d4382b"/>
<ellipse cx="155.1" cy="128.3" rx="3.0" ry="1.9" fill="#d4382b"/>
<ellipse cx="155.4" cy="131.0" rx="3.0" ry="1.9" fill="#d4382b"/>
<ellipse cx="155.8" cy="142.2" rx="3.0" ry="1.9" fill="#d4382b"/>
<ellipse cx="155.9" cy="140.6" rx="3.0" ry="1.9" fill="#d4382b"/>
<ellipse cx="155.9" cy="122.7" rx="3.0" ry="1.9" fill="#d4382b"/>
<ellipse cx="156.5" cy="132.9" rx="3.0" ry="1.9" fill="#d4382b"/>
<ellipse cx="156.6" cy="123.1" rx="3.0" ry="1.9" fill="#d4382b"/>
<ellipse cx="157.0" cy="130.9" rx="3.0" ry="1.9" fill="#d4382b"/>
<ellipse cx="157.0" cy="109.0" rx="3.0" ry="1.9" fill="#d4382b"/>
<ellipse cx="157.2" cy="132.6" rx="3.0" ry="1.9" fill="#d4382b"/>
<ellipse cx="157.6" cy="120.1" rx="3.0" ry="1.9" fill="#d4382b"/>
<ellipse cx="157.6" cy="142.0" rx="3.0" ry="1.9" fill="#d4382b"/>
<ellipse cx="158.0" cy="116.1" rx="3.0" ry="1.9" fill="#d4382b"/>
<ellipse cx="158.2" cy="138.8" rx="3.0" ry="1.9" fill="#d4382b"/>
<ellipse cx="158.4" cy="126.0" rx="3.0" ry="1.9" fill="#d4382b"/>
<ellipse cx="158.8" cy="116.6" rx="3.0" ry="1.9" fill="#d4382b"/>
<ellipse cx="159.1" cy="115.5" rx="3.0" ry="1.9" fill="#d4382b"/>
<ellipse cx="159.1" cy="132.5" rx="3.0" ry="1.9" fill="#d4382b"/>
<ellipse cx="159.6" cy="130.9" rx="3.0" ry="1.9" fill="#d4382b"/>
<ellipse cx="159.8" cy="126.5" rx="3.0" ry="1.9" fill="#d4382b"/>
<ellipse cx="160.0" cy="122.5" rx="3.0" ry="1.9" fill="#d4382b"/>
<ellipse cx="160.0" cy="145.0" rx="3.0" ry="1.9" fill="#d4382b"/>
<ellipse cx="160.5" cy="115.7" rx="3.0" ry="1.9" fill="#d4382b"/>
<ellipse cx="160.5" cy="136.2" rx="3.0" ry="1.9" fill="#d4382b"/>
<ellipse cx="161.1" cy="129.7" rx="3.0" ry="1.9" fill="#d4382b"/>
<ellipse cx="161.3" cy="117.7" rx="3.0" ry="1.9" fill="#d4382b"/>
<ellipse cx="161.4" cy="118.9" rx="3.0" ry="1.9" fill="#d4382b"/>
<ellipse cx="161.9" cy="121.8" rx="3.0" ry="1.9" fill="#d4382b"/>
<ellipse cx="162.1" cy="139.6" rx="3.0" ry="1.9" fill="#d4382b"/>
<ellipse cx="162.2" cy="126.8" rx="3.0" ry="1.9" fill="#d4382b"/>
<ellipse cx="162.7" cy="137.2" rx="3.0" ry="1.9" fill="#d4382b"/>
<ellipse cx="162.8" cy="121.1" rx="3.0" ry="1.9" fill="#d4382b"/>
<ellipse cx="162.9" cy="135.8" rx="3.0" ry="1.9" fill="#d4382b"/>
<ellipse cx="163.1" cy="112.5" rx="3.0" ry="1.9" fill="#d4382b"/>
<ellipse cx="163.7" cy="123.8" rx="3.0" ry="1.9" fill="#d4382b"/>
<ellipse cx="164.0" cy="118.1" rx="3.0" ry="1.9" fill="#d4382b"/>
<ellipse cx="164.3" cy="128.5" rx="3.0" ry="1.9" fill="#d4382b"/>
<ellipse cx="164.3" cy="111.3" rx="3.0" ry="1.9" fill="#d4382b"/>
<ellipse cx="164.5" cy="117.9" rx="3.0" ry="1.9" fill="#d4382b"/>
<ellipse cx="165.1" cy="128.9" rx="3.0" ry="1.9" fill="#d4382b"/>
<ellipse cx="165.1" cy="112.6" rx="3.0" ry="1.9" fill="#d4382b"/>
<ellipse cx="165.4" cy="129.6" rx="3.0" ry="1.9" fill="#d4382b"/>
<ellipse cx="165.7" cy="111.4" rx="3.0" ry="1.9" fill="#d4382b"/>
<ellipse cx="166.1" cy="124.4" rx="3.0" ry="1.9" fill="#d4382b"/>
<ellipse cx="166.5" cy="135.2" rx="3.0" ry="1.9" fill="#d4382b"/>
<ellipse cx="166.8" cy="120.1" rx="3.0" ry="1.9" fill="#d4382b"/>
<ellipse cx="167.0" cy="115.9" rx="3.0" ry="1.9" fill="#d4382b"/>
<ellipse cx="167.0" cy="118.7" rx="3.0" ry="1.9" fill="#d4382b"/>
<ellipse cx="167.5" cy="117.2" rx="3.0" ry="1.9" fill="#d4382b"/>
<ellipse cx="167.6" cy="133.1" rx="3.0" ry="1.9" fill="#d4382b"/>
<ellipse cx="167.9" cy="117.0" rx="3.0" ry="1.9" fill="#d4382b"/>
<ellipse cx="168.1" cy="117.6" rx="3.0" ry="1.9" fill="#d4382b"/>
<ellipse cx="168.3" cy="122.8" rx="3.0" ry="1.9" fill="#d4382b"/>
<ellipse cx="168.9" cy="121.9" rx="3.0" ry="1.9" fill="#d4382b"/>
<ellipse cx="169.0" cy="104.0" rx="3.0" ry="1.9" fill="#d4382b"/>
<ellipse cx="169.1" cy="128.3" rx="3.0" ry="1.9" fill="#d4382b"/>
<ellipse cx="169.2" cy="122.4" rx="3.0" ry="1.9" fill="#d4382b"/>
<ellipse cx="169.6" cy="120.8" rx="3.0" ry="1.9" fill="#d4382b"/>
<ellipse cx="169.7" cy="113.8" rx="3.0" ry="1.9" fill="#d4382b"/>
<ellipse cx="170.0" cy="92.0" rx="3.0" ry="1.9" fill="#d4382b"/>
<ellipse cx="170.1" cy="122.2" rx="3.0" ry="1.9" fill="#d4382b"/>
<ellipse cx="170.5" cy="96.0" rx="3.0" ry="1.9" fill="#d4382b"/>
<ellipse cx="170.6" cy="124.5" rx="3.0" ry="1.9" fill="#d4382b"/>
<ellipse cx="170.8" cy="106.8" rx="3.0" ry="1.9" fill="#d4382b"/>
<ellipse cx="170.9" cy="128.5" rx="3.0" ry="1.9" fill="#d4382b"/>
<ellipse cx="170.9" cy="107.3" rx="3.0" ry="1.9" fill="#d4382b"/>
<ellipse cx="171.0" cy="100.0" rx="3.0" ry="1.9" fill="#d4382b"/>
<ellipse cx="171.5" cy="123.6" rx="3.0" ry="1.9" fill="#d4382b"/>
<ellipse cx="171.5" cy="131.6" rx="3.0" ry="1.9" fill="#d4382b"/>
<ellipse cx="171.8" cy="126.9" rx="3.0" ry="1.9" fill="#d4382b"/>
<ellipse cx="172.3" cy="111.6" rx="3.0" ry="1.9" fill="#d4382b"/>
<ellipse cx="172.4" cy="127.2" rx="3.0" ry="1.9" fill="#d4382b"/>
<ellipse cx="172.8" cy="127.0" rx="3.0" ry="1.9" fill="#d4382b"/>
<ellipse cx="173.0" cy="114.1" rx="3.0" ry="1.9" fill="#d4382b"/>
<ellipse cx="173.5" cy="125.8" rx="3.0" ry="1.9" fill="#d4382b"/>
<ellipse cx="173.6" cy="121.7" rx="3.0" ry="1.9" fill="#d4382b"/>
<ellipse cx="173.9" cy="128.3" rx="3.0" ry="1.9" fill="#d4382b"/>
<ellipse cx="174.3" cy="119.5" rx="3.0" ry="1.9" fill="#d4382b"/>
<ellipse cx="174.5" cy="128.8" rx="3.0" ry="1.9" fill="#d4382b"/>
<ellipse cx="174.8" cy="134.5" rx="3.0" ry="1.9" fill="#d4382b"/>
<ellipse cx="175.1" cy="138.4" rx="3.0" ry="1.9" fill="#d4382b"/>
<ellipse cx="175.4" cy="130.5" rx="3.0" ry="1.9" fill="#d4382b"/>
<ellipse cx="175.5" cy="133.2" rx="3.0" ry="1.9" fill="#d4382b"/>
<ellipse cx="175.9" cy="123.7" rx="3.0" ry="1.9" fill="#d4382b"/>
<ellipse cx="175.9" cy="113.5" rx="3.0" ry="1.9" fill="#d4382b"/>
<ellipse cx="176.0" cy="219.0" rx="3.0" ry="1.9" fill="#d4382b"/>
<ellipse cx="176.0" cy="226.0" rx="3.0" ry="1.9" fill="#d4382b"/>
<ellipse cx="176.2" cy="212.0" rx="3.0" ry="1.9" fill="#d4382b"/>
<ellipse cx="176.3" cy="205.0" rx="3.0" ry="1.9" fill="#d4382b"/>
<ellipse cx="176.4" cy="150.5" rx="3.0" ry="1.9" fill="#d4382b"/>
<ellipse cx="176.5" cy="118.1" rx="3.0" ry="1.9" fill="#d4382b"/>
<ellipse cx="176.5" cy="198.0" rx="3.0" ry="1.9" fill="#d4382b"/>
<ellipse cx="176.6" cy="130.3" rx="3.0" ry="1.9" fill="#d4382b"/>
<ellipse cx="176.7" cy="190.0" rx="3.0" ry="1.9" fill="#d4382b"/>
<ellipse cx="176.8" cy="183.0" rx="3.0" ry="1.9" fill="#d4382b"/>
<ellipse cx="177.0" cy="157.2" rx="3.0" ry="1.9" fill="#d4382b"/>
<ellipse cx="177.0" cy="176.0" rx="3.0" ry="1.9" fill="#d4382b"/>
<ellipse cx="177.1" cy="129.6" rx="3.0" ry="1.9" fill="#d4382b"/>
<ellipse cx="177.4" cy="148.0" rx="3.0" ry="1.9" fill="#d4382b"/>
<ellipse cx="177.9" cy="144.2" rx="3.0" ry="1.9" fill="#d4382b"/>
<ellipse cx="178.0" cy="130.9" rx="3.0" ry="1.9" fill="#d4382b"/>
<ellipse cx="178.4" cy="125.4" rx="3.0" ry="1.9" fill="#d4382b"/>
<ellipse cx="178.4" cy="164.8" rx="3.0" ry="1.9" fill="#d4382b"/>
<ellipse cx="178.8" cy="129.1" rx="3.0" ry="1.9" fill="#d4382b"/>
<ellipse cx="179.1" cy="151.8" rx="3.0" ry="1.9" fill="#d4382b"/>
<ellipse cx="179.5" cy="125.8" rx="3.0" ry="1.9" fill="#d4382b"/>
<ellipse cx="179.6" cy="128.2" rx="3.0" ry="1.9" fill="#d4382b"/>
<ellipse cx="179.9" cy="149.4" rx="3.0" ry="1.9" fill="#d4382b"/>
<ellipse cx="180.2" cy="138.5" rx="3.0" ry="1.9" fill="#d4382b"/>
<ellipse cx="180.7" cy="153.4" rx="3.0" ry="1.9" fill="#d4382b"/>
<ellipse cx="180.7" cy="134.6" rx="3.0" ry="1.9" fill="#d4382b"/>
<ellipse cx="181.3" cy="127.7" rx="3.0" ry="1.9" fill="#d4382b"/>
<ellipse cx="181.4" cy="155.3" rx="3.0" ry="1.9" fill="#d4382b"/>
<ellipse cx="181.6" cy="121.9" rx="3.0" ry="1.9" fill="#d4382b"/>
<ellipse cx="181.7" cy="154.3" rx="3.0" ry="1.9" fill="#d4382b"/>
<ellipse cx="182.3" cy="128.5" rx="3.0" ry="1.9" fill="#d4382b"/>
<ellipse cx="182.5" cy="134.0" rx="3.0" ry="1.9" fill="#d4382b"/>
<ellipse cx="182.6" cy="154.4" rx="3.0" ry="1.9" fill="#d4382b"/>
<ellipse cx="183.0" cy="104.0" rx="3.0" ry="1.9" fill="#d4382b"/>
<ellipse cx="183.0" cy="131.4" rx="3.0" ry="1.9" fill="#d4382b"/>
<ellipse cx="183.1" cy="121.3" rx="3.0" ry="1.9" fill="#d4382b"/>
<ellipse cx="183.5" cy="144.5" rx="3.0" ry="1.9" fill="#d4382b"/>
<ellipse cx="183.9" cy="117.2" rx="3.0" ry="1.9" fill="#d4382b"/>
<ellipse cx="183.9" cy="135.9" rx="3.0" ry="1.9" fill="#d4382b"/>
<ellipse cx="184.0" cy="108.0" rx="3.0" ry="1.9" fill="#d4382b"/>
<ellipse cx="184.2" cy="121.1" rx="3.0" ry="1.9" fill="#d4382b"/>
<ellipse cx="184.8" cy="130.9" rx="3.0" ry="1.9" fill="#d4382b"/>
<ellipse cx="184.9" cy="149.9" rx="3.0" ry="1.9" fill="#d4382b"/>
<ellipse cx="185.0" cy="131.4" rx="3.0" ry="1.9" fill="#d4382b"/>
<ellipse cx="185.2" cy="140.9" rx="3.0" ry="1.9" fill="#d4382b"/>
<ellipse cx="185.4" cy="143.1" rx="3.0" ry="1.9" fill="#d4382b"/>
<ellipse cx="186.0" cy="121.5" rx="3.0" ry="1.9" fill="#d4382b"/>
<ellipse cx="186.1" cy="143.4" rx="3.0" ry="1.9" fill="#d4382b"/>
<ellipse cx="186.6" cy="115.1" rx="3.0" ry="1.9" fill="#d4382b"/>
<ellipse cx="186.7" cy="129.8" rx="3.0" ry="1.9" fill="#d4382b"/>
<ellipse cx="187.0" cy="108.0" rx="3.0" ry="1.9" fill="#d4382b"/>
<ellipse cx="187.2" cy="134.7" rx="3.0" ry="1.9" fill="#d4382b"/>
<ellipse cx="187.5" cy="123.8" rx="3.0" ry="1.9" fill="#d4382b"/>
<ellipse cx="187.7" cy="128.4" rx="3.0" ry="1.9" fill="#d4382b"/>
<ellipse cx="188.0" cy="115.9" rx="3.0" ry="1.9" fill="#d4382b"/>
<ellipse cx="188.2" cy="120.7" rx="3.0" ry="1.9" fill="#d4382b"/>
<ellipse cx="188.4" cy="133.0" rx="3.0" ry="1.9" fill="#d4382b"/>
<ellipse cx="188.5" cy="144.9" rx="3.0" ry="1.9" fill="#d4382b"/>
<ellipse cx="188.8" cy="125.0" rx="3.0" ry="1.9" fill="#d4382b"/>
<ellipse cx="188.9" cy="124.9" rx="3.0" ry="1.9" fill="#d4382b"/>
<ellipse cx="189.4" cy="140.9" rx="3.0" ry="1.9" fill="#d4382b"/>
<ellipse cx="189.6" cy="139.9" rx="3.0" ry="1.9" fill="#d4382b"/>
<ellipse cx="189.8" cy="128.8" rx="3.0" ry="1.9" fill="#d4382b"/>
<ellipse cx="190.2" cy="151.3" rx="3.0" ry="1.9" fill="#d4382b"/>
<ellipse cx="190.5" cy="130.1" rx="3.0" ry="1.9" fill="#d4382b"/>
<ellipse cx="190.7" cy="140.9" rx="3.0" ry="1.9" fill="#d4382b"/>
<ellipse cx="191.1" cy="127.2" rx="3.0" ry="1.9" fill="#d4382b"/>
<ellipse cx="191.3" cy="155.0" rx="3.0" ry="1.9" fill="#d4382b"/>
<ellipse cx="191.3" cy="135.9" rx="3.0" ry="1.9" fill="#d4382b"/>
<ellipse cx="192.0" cy="129.2" rx="3.0" ry="1.9" fill="#d4382b"/>
<ellipse cx="192.2" cy="132.8" rx="3.0" ry="1.9" fill="#d4382b"/>
<ellipse cx="192.3" cy="141.9" rx="3.0" ry="1.9" fill="#d4382b"/>
<ellipse cx="192.6" cy="135.7" rx="3.0" ry="1.9" fill="#d4382b"/>
<ellipse cx="192.9" cy="147.9" rx="3.0" ry="1.9" fill="#d4382b"/>
<ellipse cx="193.0" cy="177.0" rx="3.0" ry="1.9" fill="#d4382b"/>
<ellipse cx="193.1" cy="133.0" rx="3.0" ry="1.9" fill="#d4382b"/>
<ellipse cx="193.6" cy="139.1" rx="3.0" ry="1.9" fill="#d4382b"/>
<ellipse cx="194.0" cy="147.9" rx="3.0" ry="1.9" fill="#d4382b"/>
<ellipse cx="194.1" cy="140.8" rx="3.0" ry="1.9" fill="#d4382b"/>
<ellipse cx="194.4" cy="133.5" rx="3.0" ry="1.9" fill="#d4382b"/>
<ellipse cx="194.4" cy="133.5" rx="3.0" ry="1.9" fill="#d4382b"/>
<ellipse cx="194.9" cy="153.9" rx="3.0" ry="1.9" fill="#d4382b"/>
<ellipse cx="194.9" cy="144.1" rx="3.0" ry="1.9" fill="#d4382b"/>
<ellipse cx="195.4" cy="139.1" rx="3.0" ry="1.9" fill="#d4382b"/>
<ellipse cx="195.5" cy="151.0" rx="3.0" ry="1.9" fill="#d4382b"/>
<ellipse cx="195.7" cy="136.2" rx="3.0" ry="1.9" fill="#d4382b"/>
<ellipse cx="196.0" cy="180.0" rx="3.0" ry="1.9" fill="#d4382b"/>
<ellipse cx="196.1" cy="135.1" rx="3.0" ry="1.9" fill="#d4382b"/>
<ellipse cx="196.6" cy="147.2" rx="3.0" ry="1.9" fill="#d4382b"/>
<ellipse cx="196.7" cy="154.3" rx="3.0" ry="1.9" fill="#d4382b"/>
<ellipse cx="197.1" cy="160.4" rx="3.0" ry="1.9" fill="#d4382b"/>
<ellipse cx="197.2" cy="144.8" rx="3.0" ry="1.9" fill="#d4382b"/>
<ellipse cx="197.4" cy="135.1" rx="3.0" ry="1.9" fill="#d4382b"/>
<ellipse cx="197.7" cy="157.3" rx="3.0" ry="1.9" fill="#d4382b"/>
<ellipse cx="198.3" cy="161.0" rx="3.0" ry="1.9" fill="#d4382b"/>
<ellipse cx="198.3" cy="146.4" rx="3.0" ry="1.9" fill="#d4382b"/>
<ellipse cx="198.4" cy="155.3" rx="3.0" ry="1.9" fill="#d4382b"/>
<ellipse cx="198.8" cy="157.2" rx="3.0" ry="1.9" fill="#d4382b"/>
<ellipse cx="198.9" cy="148.6" rx="3.0" ry="1.9" fill="#d4382b"/>
<ellipse cx="199.4" cy="162.4" rx="3.0" ry="1.9" fill="#d4382b"/>
<ellipse cx="199.7" cy="162.2" rx="3.0" ry="1.9" fill="#d4382b"/>
<ellipse cx="199.8" cy="157.3" rx="3.0" ry="1.9" fill="#d4382b"/>
<ellipse cx="200.0" cy="178.0" rx="3.0" ry="1.9" fill="#d4382b"/>
<ellipse cx="200.4" cy="154.1" rx="3.0" ry="1.9" fill="#d4382b"/>
<ellipse cx="200.4" cy="155.7" rx="3.0" ry="1.9" fill="#d4382b"/>
<ellipse cx="200.5" cy="161.0" rx="3.0" ry="1.9" fill="#d4382b"/>
<ellipse cx="201.2" cy="154.9" rx="3.0" ry="1.9" fill="#d4382b"/>
<ellipse cx="201.4" cy="165.2" rx="3.0" ry="1.9" fill="#d4382b"/>
<ellipse cx="201.4" cy="168.7" rx="3.0" ry="1.9" fill="#d4382b"/>
<ellipse cx="201.9" cy="146.4" rx="3.0" ry="1.9" fill="#d4382b"/>
<ellipse cx="201.9" cy="145.0" rx="3.0" ry="1.9" fill="#d4382b"/>
<ellipse cx="202.4" cy="161.1" rx="3.0" ry="1.9" fill="#d4382b"/>
<ellipse cx="202.5" cy="168.6" rx="3.0" ry="1.9" fill="#d4382b"/>
<ellipse cx="202.8" cy="153.7" rx="3.0" ry="1.9" fill="#d4382b"/>
<ellipse cx="202.9" cy="170.1" rx="3.0" ry="1.9" fill="#d4382b"/>
<ellipse cx="203.0" cy="135.0" rx="3.0" ry="1.9" fill="#d4382b"/>
<ellipse cx="203.2" cy="168.0" rx="3.0" ry="1.9" fill="#d4382b"/>
<ellipse cx="203.7" cy="157.2" rx="3.0" ry="1.9" fill="#d4382b"/>
<ellipse cx="204.0" cy="147.8" rx="3.0" ry="1.9" fill="#d4382b"/>
<ellipse cx="204.4" cy="171.2" rx="3.0" ry="1.9" fill="#d4382b"/>
<ellipse cx="204.6" cy="165.9" rx="3.0" ry="1.9" fill="#d4382b"/>
<ellipse cx="204.6" cy="158.8" rx="3.0" ry="1.9" fill="#d4382b"/>
<ellipse cx="204.9" cy="168.3" rx="3.0" ry="1.9" fill="#d4382b"/>
<ellipse cx="205.0" cy="175.0" rx="3.0" ry="1.9" fill="#d4382b"/>
<ellipse cx="205.2" cy="158.1" rx="3.0" ry="1.9" fill="#d4382b"/>
<ellipse cx="205.7" cy="145.8" rx="3.0" ry="1.9" fill="#d4382b"/>
<ellipse cx="205.8" cy="142.4" rx="3.0" ry="1.9" fill="#d4382b"/>
<ellipse cx="205.9" cy="145.7" rx="3.0" ry="1.9" fill="#d4382b"/>
<ellipse cx="206.6" cy="170.1" rx="3.0" ry="1.9" fill="#d4382b"/>
<ellipse cx="206.7" cy="150.0" rx="3.0" ry="1.9" fill="#d4382b"/>
<ellipse cx="207.0" cy="163.7" rx="3.0" ry="1.9" fill="#d4382b"/>
<ellipse cx="207.0" cy="137.0" rx="3.0" ry="1.9" fill="#d4382b"/>
<ellipse cx="207.1" cy="159.1" rx="3.0" ry="1.9" fill="#d4382b"/>
<ellipse cx="207.6" cy="155.3" rx="3.0" ry="1.9" fill="#d4382b"/>
<ellipse cx="207.6" cy="141.1" rx="3.0" ry="1.9" fill="#d4382b"/>
<ellipse cx="207.8" cy="152.8" rx="3.0" ry="1.9" fill="#d4382b"/>
<ellipse cx="208.0" cy="180.0" rx="3.0" ry="1.9" fill="#d4382b"/>
<ellipse cx="208.3" cy="146.3" rx="3.0" ry="1.9" fill="#d4382b"/>
<ellipse cx="208.5" cy="149.2" rx="3.0" ry="1.9" fill="#d4382b"/>
<ellipse cx="208.8" cy="151.4" rx="3.0" ry="1.9" fill="#d4382b"/>
<ellipse cx="209.1" cy="142.4" rx="3.0" ry="1.9" fill="#d4382b"/>
<ellipse cx="209.4" cy="145.8" rx="3.0" ry="1.9" fill="#d4382b"/>
<ellipse cx="209.8" cy="159.8" rx="3.0" ry="1.9" fill="#d4382b"/>
<ellipse cx="209.8" cy="154.1" rx="3.0" ry="1.9" fill="#d4382b"/>
<ellipse cx="210.2" cy="162.6" rx="3.0" ry="1.9" fill="#d4382b"/>
<ellipse cx="210.5" cy="164.5" rx="3.0" ry="1.9" fill="#d4382b"/>
<ellipse cx="210.7" cy="171.8" rx="3.0" ry="1.9" fill="#d4382b"/>
<ellipse cx="211.1" cy="167.7" rx="3.0" ry="1.9" fill="#d4382b"/>
<ellipse cx="211.2" cy="155.2" rx="3.0" ry="1.9" fill="#d4382b"/>
<ellipse cx="211.5" cy="169.5" rx="3.0" ry="1.9" fill="#d4382b"/>
<ellipse cx="211.7" cy="158.4" rx="3.0" ry="1.9" fill="#d4382b"/>
<ellipse cx="212.0" cy="169.9" rx="3.0" ry="1.9" fill="#d4382b"/>
<ellipse cx="212.2" cy="144.8" rx="3.0" ry="1.9" fill="#d4382b"/>
<ellipse cx="212.7" cy="170.3" rx="3.0" ry="1.9" fill="#d4382b"/>
<ellipse cx="212.9" cy="161.6" rx="3.0" ry="1.9" fill="#d4382b"/>
<ellipse cx="213.2" cy="153.2" rx="3.0" ry="1.9" fill="#d4382b"/>
<ellipse cx="213.4" cy="146.4" rx="3.0" ry="1.9" fill="#d4382b"/>
<ellipse cx="213.4" cy="157.6" rx="3.0" ry="1.9" fill="#d4382b"/>
<ellipse cx="213.9" cy="156.5" rx="3.0" ry="1.9" fill="#d4382b"/>
<ellipse cx="213.9" cy="165.3" rx="3.0" ry="1.9" fill="#d4382b"/>
<ellipse cx="214.4" cy="152.4" rx="3.0" ry="1.9" fill="#d4382b"/>
<ellipse cx="214.6" cy="157.1" rx="3.0" ry="1.9" fill="#d4382b"/>
<ellipse cx="214.8" cy="147.8" rx="3.0" ry="1.9" fill="#d4382b"/>
<ellipse cx="215.4" cy="174.0" rx="3.0" ry="1.9" fill="#d4382b"/>
<ellipse cx="215.6" cy="171.1" rx="3.0" ry="1.9" fill="#d4382b"/>
<ellipse cx="214.5" cy="172.0" rx="3.0" ry="1.9" fill="#d4382b"/>
<ellipse cx="215.0" cy="180.0" rx="3.0" ry="1.9" fill="#d4382b"/>
<ellipse cx="215.5" cy="188.0" rx="3.0" ry="1.9" fill="#d4382b"/>
<ellipse cx="215.8" cy="196.0" rx="3.0" ry="1.9" fill="#d4382b"/>
<ellipse cx="216.0" cy="204.0" rx="3.0" ry="1.9" fill="#d4382b"/>
<ellipse cx="216.5" cy="150.0" rx="3.0" ry="1.9" fill="#d4382b"/>
<ellipse cx="217.0" cy="120.0" rx="3.0" ry="1.9" fill="#d4382b"/>
<ellipse cx="217.5" cy="95.0" rx="3.0" ry="1.9" fill="#d4382b"/>
<ellipse cx="218.0" cy="80.0" rx="3.0" ry="1.9" fill="#d4382b"/>
<ellipse cx="219.0" cy="92.0" rx="3.0" ry="1.9" fill="#d4382b"/>
<ellipse cx="220.0" cy="88.0" rx="3.0" ry="1.9" fill="#d4382b"/>
<ellipse cx="221.0" cy="95.0" rx="3.0" ry="1.9" fill="#d4382b"/>
<ellipse cx="222.0" cy="90.0" rx="3.0" ry="1.9" fill="#d4382b"/>
<ellipse cx="223.0" cy="100.0" rx="3.0" ry="1.9" fill="#d4382b"/>
<ellipse cx="224.0" cy="94.0" rx="3.0" ry="1.9" fill="#d4382b"/>
<ellipse cx="225.0" cy="105.0" rx="3.0" ry="1.9" fill="#d4382b"/>
<ellipse cx="226.0" cy="97.0" rx="3.0" ry="1.9" fill="#d4382b"/>
<ellipse cx="227.0" cy="92.0" rx="3.0" ry="1.9" fill="#d4382b"/>
<ellipse cx="228.0" cy="99.0" rx="3.0" ry="1.9" fill="#d4382b"/>
<ellipse cx="229.0" cy="104.0" rx="3.0" ry="1.9" fill="#d4382b"/>
<ellipse cx="230.0" cy="95.0" rx="3.0" ry="1.9" fill="#d4382b"/>
<ellipse cx="231.0" cy="88.0" rx="3.0" ry="1.9" fill="#d4382b"/>
<ellipse cx="232.0" cy="92.0" rx="3.0" ry="1.9" fill="#d4382b"/>
<path d="M76,127.6 C77.5,127.0 81.8,125.1 85.0,124.0 C88.2,122.9 91.0,121.1 95.2,120.8 C99.4,120.5 105.0,121.7 110.0,122.0 C115.0,122.3 120.6,122.2 125.0,122.5 C129.4,122.8 132.7,121.3 136.4,123.5 C140.1,125.7 143.7,134.8 147.3,135.9 C150.9,137.0 154.3,132.1 158.0,130.0 C161.7,127.9 165.6,117.5 169.3,123.5 C173.0,129.5 176.2,162.8 180.3,166.0 C184.4,169.2 189.4,144.1 194.0,142.7 C198.6,141.2 204.1,156.1 207.6,157.3 C211.1,158.5 213.3,153.2 215.0,150.0 C216.7,146.8 216.9,146.3 217.5,138.0 C218.1,129.7 218.1,107.5 218.6,100.0 C219.1,92.5 219.8,94.3 220.5,93.0 C221.2,91.7 221.5,92.2 223.0,92.0 C224.5,91.8 228.5,92.0 229.6,92.0" fill="none" stroke="#3a1010" stroke-width="1.6" stroke-linejoin="round"/>
<polyline points="461.9,106.0 467.5,125.3 473.1,116.1 478.7,116.9 484.3,109.1 489.9,115.1 495.5,101.1 501.1,112.3 506.7,119.0 512.3,115.5 517.9,113.7 523.5,95.9 529.1,105.0 534.7,117.9 540.3,124.2 546.0,114.4 551.6,118.6 557.2,119.0 562.8,116.1 568.4,116.9 574.0,119.0 579.6,117.9 585.2,118.3 590.8,120.7 596.4,115.8 602.0,105.7 607.6,116.5" fill="none" stroke="#9a2222" stroke-width="1.1" stroke-linejoin="round" />
<ellipse cx="461.9" cy="106.0" rx="2.8" ry="1.7" fill="#d4382b"/>
<ellipse cx="467.5" cy="125.3" rx="2.8" ry="1.7" fill="#d4382b"/>
<ellipse cx="473.1" cy="116.1" rx="2.8" ry="1.7" fill="#d4382b"/>
<ellipse cx="478.7" cy="116.9" rx="2.8" ry="1.7" fill="#d4382b"/>
<ellipse cx="484.3" cy="109.1" rx="2.8" ry="1.7" fill="#d4382b"/>
<ellipse cx="489.9" cy="115.1" rx="2.8" ry="1.7" fill="#d4382b"/>
<ellipse cx="495.5" cy="101.1" rx="2.8" ry="1.7" fill="#d4382b"/>
<ellipse cx="501.1" cy="112.3" rx="2.8" ry="1.7" fill="#d4382b"/>
<ellipse cx="506.7" cy="119.0" rx="2.8" ry="1.7" fill="#d4382b"/>
<ellipse cx="512.3" cy="115.5" rx="2.8" ry="1.7" fill="#d4382b"/>
<ellipse cx="517.9" cy="113.7" rx="2.8" ry="1.7" fill="#d4382b"/>
<ellipse cx="523.5" cy="95.9" rx="2.8" ry="1.7" fill="#d4382b"/>
<ellipse cx="529.1" cy="105.0" rx="2.8" ry="1.7" fill="#d4382b"/>
<ellipse cx="534.7" cy="117.9" rx="2.8" ry="1.7" fill="#d4382b"/>
<ellipse cx="540.3" cy="124.2" rx="2.8" ry="1.7" fill="#d4382b"/>
<ellipse cx="546.0" cy="114.4" rx="2.8" ry="1.7" fill="#d4382b"/>
<ellipse cx="551.6" cy="118.6" rx="2.8" ry="1.7" fill="#d4382b"/>
<ellipse cx="557.2" cy="119.0" rx="2.8" ry="1.7" fill="#d4382b"/>
<ellipse cx="562.8" cy="116.1" rx="2.8" ry="1.7" fill="#d4382b"/>
<ellipse cx="568.4" cy="116.9" rx="2.8" ry="1.7" fill="#d4382b"/>
<ellipse cx="574.0" cy="119.0" rx="2.8" ry="1.7" fill="#d4382b"/>
<ellipse cx="579.6" cy="117.9" rx="2.8" ry="1.7" fill="#d4382b"/>
<ellipse cx="585.2" cy="118.3" rx="2.8" ry="1.7" fill="#d4382b"/>
<ellipse cx="590.8" cy="120.7" rx="2.8" ry="1.7" fill="#d4382b"/>
<ellipse cx="596.4" cy="115.8" rx="2.8" ry="1.7" fill="#d4382b"/>
<ellipse cx="602.0" cy="105.7" rx="2.8" ry="1.7" fill="#d4382b"/>
<ellipse cx="607.6" cy="116.5" rx="2.8" ry="1.7" fill="#d4382b"/>
<polyline points="735.8,120.4 740.7,124.4 745.6,119.9 750.5,120.8 755.4,117.4 760.3,114.6 765.2,110.1 770.1,112.2 775.0,113.6 779.9,109.4 784.8,109.7 789.3,113.6 794.6,112.9" fill="none" stroke="#9a2222" stroke-width="1.1" stroke-linejoin="round" />
<ellipse cx="735.8" cy="120.4" rx="2.8" ry="1.7" fill="#d4382b"/>
<ellipse cx="740.7" cy="124.4" rx="2.8" ry="1.7" fill="#d4382b"/>
<ellipse cx="745.6" cy="119.9" rx="2.8" ry="1.7" fill="#d4382b"/>
<ellipse cx="750.5" cy="120.8" rx="2.8" ry="1.7" fill="#d4382b"/>
<ellipse cx="755.4" cy="117.4" rx="2.8" ry="1.7" fill="#d4382b"/>
<ellipse cx="760.3" cy="114.6" rx="2.8" ry="1.7" fill="#d4382b"/>
<ellipse cx="765.2" cy="110.1" rx="2.8" ry="1.7" fill="#d4382b"/>
<ellipse cx="770.1" cy="112.2" rx="2.8" ry="1.7" fill="#d4382b"/>
<ellipse cx="775.0" cy="113.6" rx="2.8" ry="1.7" fill="#d4382b"/>
<ellipse cx="779.9" cy="109.4" rx="2.8" ry="1.7" fill="#d4382b"/>
<ellipse cx="784.8" cy="109.7" rx="2.8" ry="1.7" fill="#d4382b"/>
<ellipse cx="789.3" cy="113.6" rx="2.8" ry="1.7" fill="#d4382b"/>
<ellipse cx="794.6" cy="112.9" rx="2.8" ry="1.7" fill="#d4382b"/>
<polyline points="74.1,388.0 74.3,393.4 74.4,380.5 74.5,392.9 75.0,385.5 75.2,374.5 75.2,370.9 75.3,373.7 75.4,383.4 75.6,392.7 76.0,398.0 76.1,372.0 76.3,391.5 76.3,371.4 76.4,371.1 76.6,373.5 77.0,393.9 77.2,391.5 77.3,386.1 77.4,393.4 77.8,394.1 78.0,371.9 78.1,375.6 78.1,369.1 78.4,384.0 78.4,386.1 78.8,375.8 79.0,346.0 79.2,380.5 79.2,380.5 79.3,351.0 79.5,356.0 79.6,368.7 79.8,389.1 79.9,367.7 80.0,390.7 80.2,383.2 80.2,368.3 80.5,393.7 80.7,388.1 81.2,376.8 81.2,393.4 81.4,387.9 81.4,388.7 81.8,393.5 82.0,391.0 82.0,376.3 82.5,392.7 82.5,392.8 82.8,375.4 82.9,371.6 83.0,370.7 83.4,367.8 83.5,394.9 83.9,373.1 84.0,396.0 84.0,381.6 84.2,390.0 84.3,392.6 84.3,378.4 84.5,380.4 85.1,369.9 85.3,393.6 85.3,378.7 85.4,388.9 85.5,390.5 85.8,379.2 86.4,389.7 86.5,385.2 86.5,375.6 86.7,368.9 86.8,362.4 87.0,393.0 87.5,361.9 87.5,364.6 87.5,376.7 88.0,380.9 88.0,385.0 88.4,372.8 88.5,375.7 88.6,371.9 88.7,356.6 89.0,396.0 89.1,384.8 89.2,366.9 89.4,355.8 89.5,357.6 89.7,363.2 90.0,372.5 90.3,369.8 90.3,358.1 90.7,370.0 90.7,371.1 91.2,357.4 91.4,344.6 91.4,367.9 91.4,377.0 92.0,339.1 92.1,356.9 92.3,315.8 92.5,345.6 92.6,333.5 92.8,359.0 92.9,313.8 93.0,354.6 93.3,348.9 93.4,351.3 93.8,305.3 93.9,311.8 93.9,318.2 94.2,315.4 94.4,305.2 94.7,330.2 95.0,346.0 95.0,368.8 95.0,332.8 95.4,334.9 95.5,365.8 95.8,310.5 96.0,394.0 96.1,316.6 96.3,335.3 96.5,382.1 96.8,350.1 97.0,336.9 97.0,368.2 97.3,367.7 97.7,389.6 97.7,364.5 97.8,375.0 98.0,359.4 98.3,369.8 98.5,389.8 98.6,380.4 98.7,376.9 99.2,376.1 99.4,388.6 99.4,372.2 99.7,372.2 99.8,376.6 100.1,375.2 100.2,379.1 100.2,375.4 100.5,369.2 100.7,375.7 100.9,383.7 101.0,386.6 101.4,363.6 101.5,366.1 102.0,366.5 102.0,371.8 102.2,375.2 102.5,360.6 102.6,302.0 102.6,307.0 102.6,314.0 102.6,320.0 102.6,326.0 102.6,332.0 102.7,365.5 102.7,366.4 102.8,372.0 103.1,366.5 103.3,362.9 103.4,372.7 103.7,382.0 103.8,377.6 104.1,370.3 104.2,371.2 104.6,372.8 104.7,381.0 104.8,365.7 105.2,378.3 105.2,378.5 105.2,360.1 105.7,376.6 105.7,366.8 106.2,370.0 106.2,358.7 106.4,363.9 106.5,371.0 106.9,377.2 107.0,356.8 107.2,374.4 107.4,372.8 107.8,381.4 107.9,356.6 108.2,361.1 108.3,379.9 108.5,378.9 108.5,358.9 108.6,371.0 108.9,359.7 109.2,365.1 109.2,356.8 109.3,357.2 109.8,373.9 110.0,392.0 110.1,363.6 110.1,359.2 110.4,367.8 110.5,372.7 110.8,371.2 110.8,365.0 111.1,377.9 111.3,370.9 111.4,369.3 111.6,374.0 111.9,359.3 112.0,365.0 112.0,346.0 112.4,360.4 112.5,372.1 112.6,371.8 112.7,359.1 113.1,361.8 113.4,375.1 113.4,373.4 113.5,367.6 113.6,359.8 114.1,359.0 114.3,372.4 114.7,372.0 114.8,359.6 114.9,364.7 114.9,364.2 115.3,364.5 115.4,359.5 115.8,371.7 116.0,366.6 116.2,368.6 116.2,369.9 116.4,357.1 116.5,365.7 116.6,357.3 117.2,367.7 117.3,356.4 117.4,377.4 117.6,366.5 117.7,358.7 117.8,360.1 118.0,347.0 118.1,365.5 118.4,363.0 118.5,360.0 118.6,363.2 118.8,367.8 118.9,378.2 119.3,378.5 119.6,372.3 119.7,378.7 119.7,372.2 120.0,372.4 120.3,357.1 120.4,360.4 120.6,358.4 120.8,379.4 121.0,363.9 121.3,363.2 121.5,362.2 121.6,373.4 122.0,378.6 122.1,366.7 122.2,374.8 122.5,356.8 122.6,357.7 122.9,379.8 123.0,347.0 123.0,352.0 123.0,388.0 123.0,358.3 123.0,364.8 123.6,368.1 123.7,357.9 123.8,357.9 124.0,358.1 124.1,366.2 124.3,357.9 124.4,379.3 124.6,368.6 124.9,369.1 125.0,364.0 125.2,369.4 125.7,369.3 125.8,370.7 126.0,361.8 126.2,370.1 126.3,371.3 126.7,367.2 126.7,378.0 127.0,364.1 127.1,362.0 127.1,374.7 127.5,358.8 127.7,364.1 127.8,358.8 128.1,370.2 128.2,358.3 128.6,363.5 128.6,358.0 128.8,359.2 129.1,364.2 129.4,369.8 129.7,372.0 129.8,370.2 129.8,375.8 130.2,379.0 130.3,375.7 130.4,373.1 130.6,360.0 130.6,360.9 130.9,372.5 131.1,358.4 131.4,358.1 131.6,369.8 131.6,365.2 132.2,378.8 132.3,362.2 132.4,365.3 132.5,357.2 132.9,376.0 133.1,359.1 133.2,360.8 133.5,367.2 133.6,364.2 133.8,375.2 134.1,367.0 134.2,367.5 134.5,378.5 134.6,379.3 134.8,359.2 134.9,379.5 135.1,366.5 135.1,370.2 135.3,322.6 135.3,330.0 135.5,377.2 135.7,361.7 135.8,361.4 136.2,365.0 136.4,362.5 136.5,362.3 137.0,376.3 137.1,360.0 137.1,371.1 137.3,360.6 137.5,368.1 137.5,373.4 138.1,361.3 138.2,364.2 138.4,376.8 138.5,375.3 138.6,356.8 138.9,370.3 138.9,365.7 139.2,357.2 139.4,365.5 139.6,373.0 139.8,379.6 140.2,378.2 140.3,372.2 140.4,375.3 140.6,370.4 140.9,358.3 140.9,368.8 141.0,388.0 141.0,364.8 141.4,374.3 141.7,363.7 142.0,362.9 142.1,358.1 142.3,372.2 142.6,377.6 142.7,376.2 142.8,368.6 142.9,370.8 143.4,362.0 143.5,356.4 143.6,369.2 143.7,360.5 144.0,377.6 144.3,358.9 144.3,370.8 144.6,369.4 144.8,365.1 145.0,362.6 145.1,361.3 145.3,371.3 145.4,377.6 145.7,369.7 145.8,361.6 146.0,386.0 146.3,377.1 146.4,366.1 146.4,368.8 146.8,370.6 146.9,363.4 147.0,358.9 147.3,360.6 147.5,370.5 147.5,360.7 147.9,371.5 148.0,367.7 148.1,373.5 148.5,376.4 148.6,379.0 148.9,372.7 148.9,378.2 149.2,360.7 149.4,367.5 149.4,358.3 149.6,370.8 149.8,374.2 150.3,375.5 150.5,372.9 150.8,358.1 150.8,378.8 150.8,378.9 151.0,360.5 151.3,366.5 151.6,365.1 151.7,373.3 152.0,369.6 152.0,364.2 152.0,388.0 152.3,371.7 152.5,378.4 153.0,356.3 153.0,357.4 153.1,372.3 153.3,363.1 153.6,377.1 153.7,361.4 153.9,371.5 154.2,362.3 154.2,368.3 154.5,364.3 154.7,366.7 154.8,370.4 154.9,360.4 155.1,365.5 155.6,376.9 155.7,362.2 155.7,366.9 156.2,359.3 156.2,353.0 156.4,362.0 156.6,362.5 156.8,353.9 156.9,377.6 157.2,364.6 157.2,359.6 157.8,353.5 157.8,369.9 158.0,372.3 158.0,345.0 158.2,367.1 158.6,371.1 158.6,367.8 158.7,351.6 158.9,373.3 159.3,376.0 159.3,373.7 159.6,369.7 159.7,372.5 159.9,374.4 160.0,337.0 160.3,354.7 160.4,353.1 160.5,354.7 160.8,359.0 160.8,349.7 160.9,356.6 161.4,345.8 161.5,369.5 161.9,371.1 162.0,347.9 162.0,369.8 162.3,354.2 162.5,341.5 162.6,362.6 162.8,362.2 162.9,354.0 163.3,339.2 163.5,357.0 163.7,345.1 163.8,348.2 164.1,363.4 164.1,349.7 164.3,347.9 164.8,330.8 164.8,353.9 164.8,351.3 165.2,342.2 165.4,341.0 165.5,351.8 165.6,335.6 165.9,319.2 166.1,335.4 166.5,352.8 166.5,336.4 166.9,351.5 167.1,318.4 167.2,352.2 167.6,340.0 167.6,311.7 167.8,323.9 168.2,320.2 168.2,317.9 168.2,341.0 168.6,327.7 168.6,322.5 168.7,305.5 169.1,306.4 169.4,334.4 169.6,310.9 169.9,310.4 170.1,326.2 170.1,326.0 170.2,309.9 170.7,316.7 170.7,299.9 170.9,305.1 171.1,299.1 171.2,321.0 171.7,317.4 171.9,297.8 171.9,301.0 172.2,321.6 172.3,305.2 172.4,324.5 172.7,298.8 172.7,300.6 173.0,322.7 173.2,322.3 173.4,325.4 173.8,300.9 173.9,296.1 174.0,306.4 174.4,316.6 174.4,304.6 174.6,314.5 174.7,333.5 174.9,299.5 175.1,299.1 175.4,320.3 175.5,296.5 175.5,330.0 175.6,354.0 175.7,392.0 175.8,414.6 176.1,397.4 176.2,410.7 176.9,409.2 177.2,428.7 177.4,402.1 177.9,413.4 178.0,439.0 178.5,434.0 178.5,414.5 178.8,409.1 179.2,426.2 179.4,396.9 179.8,407.2 180.5,403.1 180.7,417.9 181.3,396.4 181.6,404.9 181.6,416.7 182.4,429.5 182.4,413.9 182.9,415.5 183.5,400.0 183.7,402.5 183.9,391.6 184.5,389.0 184.6,404.8 185.0,384.0 185.1,390.6 185.2,395.4 185.9,419.5 186.3,405.2 186.3,408.6 186.7,390.7 187.3,400.9 187.4,409.2 188.0,386.0 188.2,424.8 188.4,395.0 188.9,395.9 189.2,395.1 189.8,410.9 189.9,401.9 190.4,425.3 190.7,400.3 191.0,387.0 191.1,423.8 191.4,414.6 192.1,404.9 192.4,411.7 192.5,396.2 193.3,410.0 193.4,424.7 193.9,411.4 194.1,419.4 194.5,410.8 195.1,415.3 195.2,402.3 195.9,418.8 196.0,427.3 196.4,400.3 196.7,409.1 197.4,421.9 197.5,416.7 197.9,412.6 198.0,388.0 198.4,405.0 198.6,416.7 199.1,417.8 199.6,411.8 200.1,408.1 200.6,422.3 200.7,403.2 201.4,396.8 201.5,405.9 202.2,396.9 202.4,416.8 202.9,393.2 203.4,403.0 203.7,413.8 203.9,419.2 204.4,404.1 204.8,409.1 205.2,412.3 205.6,398.5 205.8,393.7 206.4,416.2 206.8,394.5 207.0,389.0 207.0,407.2 207.2,399.0 208.0,417.3 208.0,416.6 208.6,403.5 209.0,398.9 209.2,392.6 209.8,408.4 210.2,406.2 210.5,400.7 211.0,402.8 211.3,413.4 211.6,411.5 211.8,400.0 212.0,390.0 212.6,393.7 212.6,397.2 213.3,396.5 213.6,405.3 214.1,406.3 214.4,395.4 214.9,412.3 215.0,370.7 215.1,377.0 215.2,413.1 215.3,384.0 215.5,432.5 215.6,410.1 216.1,412.1 216.1,407.8 216.9,402.9 216.9,400.6 217.3,403.1 217.7,400.4 218.0,403.6 218.5,408.2 219.0,398.6 219.6,410.4 219.9,398.8 220.1,402.6 220.5,395.2 220.9,407.4 221.4,408.5 221.8,406.7 222.3,408.8 222.7,400.6 223.0,404.2 223.5,404.7 223.6,396.5 224.0,397.3 224.5,404.9 224.7,401.2 225.4,397.9 225.4,401.4 225.9,394.1 226.5,376.0 226.8,368.0 228.0,306.0 228.3,303.4" fill="none" stroke="#6a8cc9" stroke-width="1.2" stroke-linejoin="round" />
<circle cx="74.1" cy="388.0" r="2.9" fill="#6f92d0"/>
<circle cx="74.3" cy="393.4" r="2.9" fill="#6f92d0"/>
<circle cx="74.4" cy="380.5" r="2.9" fill="#6f92d0"/>
<circle cx="74.5" cy="392.9" r="2.9" fill="#6f92d0"/>
<circle cx="75.0" cy="385.5" r="2.9" fill="#6f92d0"/>
<circle cx="75.2" cy="374.5" r="2.9" fill="#6f92d0"/>
<circle cx="75.2" cy="370.9" r="2.9" fill="#6f92d0"/>
<circle cx="75.3" cy="373.7" r="2.9" fill="#6f92d0"/>
<circle cx="75.4" cy="383.4" r="2.9" fill="#6f92d0"/>
<circle cx="75.6" cy="392.7" r="2.9" fill="#6f92d0"/>
<circle cx="76.0" cy="398.0" r="2.9" fill="#6f92d0"/>
<circle cx="76.1" cy="372.0" r="2.9" fill="#6f92d0"/>
<circle cx="76.3" cy="391.5" r="2.9" fill="#6f92d0"/>
<circle cx="76.3" cy="371.4" r="2.9" fill="#6f92d0"/>
<circle cx="76.4" cy="371.1" r="2.9" fill="#6f92d0"/>
<circle cx="76.6" cy="373.5" r="2.9" fill="#6f92d0"/>
<circle cx="77.0" cy="393.9" r="2.9" fill="#6f92d0"/>
<circle cx="77.2" cy="391.5" r="2.9" fill="#6f92d0"/>
<circle cx="77.3" cy="386.1" r="2.9" fill="#6f92d0"/>
<circle cx="77.4" cy="393.4" r="2.9" fill="#6f92d0"/>
<circle cx="77.8" cy="394.1" r="2.9" fill="#6f92d0"/>
<circle cx="78.0" cy="371.9" r="2.9" fill="#6f92d0"/>
<circle cx="78.1" cy="375.6" r="2.9" fill="#6f92d0"/>
<circle cx="78.1" cy="369.1" r="2.9" fill="#6f92d0"/>
<circle cx="78.4" cy="384.0" r="2.9" fill="#6f92d0"/>
<circle cx="78.4" cy="386.1" r="2.9" fill="#6f92d0"/>
<circle cx="78.8" cy="375.8" r="2.9" fill="#6f92d0"/>
<circle cx="79.0" cy="346.0" r="2.9" fill="#6f92d0"/>
<circle cx="79.2" cy="380.5" r="2.9" fill="#6f92d0"/>
<circle cx="79.2" cy="380.5" r="2.9" fill="#6f92d0"/>
<circle cx="79.3" cy="351.0" r="2.9" fill="#6f92d0"/>
<circle cx="79.5" cy="356.0" r="2.9" fill="#6f92d0"/>
<circle cx="79.6" cy="368.7" r="2.9" fill="#6f92d0"/>
<circle cx="79.8" cy="389.1" r="2.9" fill="#6f92d0"/>
<circle cx="79.9" cy="367.7" r="2.9" fill="#6f92d0"/>
<circle cx="80.0" cy="390.7" r="2.9" fill="#6f92d0"/>
<circle cx="80.2" cy="383.2" r="2.9" fill="#6f92d0"/>
<circle cx="80.2" cy="368.3" r="2.9" fill="#6f92d0"/>
<circle cx="80.5" cy="393.7" r="2.9" fill="#6f92d0"/>
<circle cx="80.7" cy="388.1" r="2.9" fill="#6f92d0"/>
<circle cx="81.2" cy="376.8" r="2.9" fill="#6f92d0"/>
<circle cx="81.2" cy="393.4" r="2.9" fill="#6f92d0"/>
<circle cx="81.4" cy="387.9" r="2.9" fill="#6f92d0"/>
<circle cx="81.4" cy="388.7" r="2.9" fill="#6f92d0"/>
<circle cx="81.8" cy="393.5" r="2.9" fill="#6f92d0"/>
<circle cx="82.0" cy="391.0" r="2.9" fill="#6f92d0"/>
<circle cx="82.0" cy="376.3" r="2.9" fill="#6f92d0"/>
<circle cx="82.5" cy="392.7" r="2.9" fill="#6f92d0"/>
<circle cx="82.5" cy="392.8" r="2.9" fill="#6f92d0"/>
<circle cx="82.8" cy="375.4" r="2.9" fill="#6f92d0"/>
<circle cx="82.9" cy="371.6" r="2.9" fill="#6f92d0"/>
<circle cx="83.0" cy="370.7" r="2.9" fill="#6f92d0"/>
<circle cx="83.4" cy="367.8" r="2.9" fill="#6f92d0"/>
<circle cx="83.5" cy="394.9" r="2.9" fill="#6f92d0"/>
<circle cx="83.9" cy="373.1" r="2.9" fill="#6f92d0"/>
<circle cx="84.0" cy="396.0" r="2.9" fill="#6f92d0"/>
<circle cx="84.0" cy="381.6" r="2.9" fill="#6f92d0"/>
<circle cx="84.2" cy="390.0" r="2.9" fill="#6f92d0"/>
<circle cx="84.3" cy="392.6" r="2.9" fill="#6f92d0"/>
<circle cx="84.3" cy="378.4" r="2.9" fill="#6f92d0"/>
<circle cx="84.5" cy="380.4" r="2.9" fill="#6f92d0"/>
<circle cx="85.1" cy="369.9" r="2.9" fill="#6f92d0"/>
<circle cx="85.3" cy="393.6" r="2.9" fill="#6f92d0"/>
<circle cx="85.3" cy="378.7" r="2.9" fill="#6f92d0"/>
<circle cx="85.4" cy="388.9" r="2.9" fill="#6f92d0"/>
<circle cx="85.5" cy="390.5" r="2.9" fill="#6f92d0"/>
<circle cx="85.8" cy="379.2" r="2.9" fill="#6f92d0"/>
<circle cx="86.4" cy="389.7" r="2.9" fill="#6f92d0"/>
<circle cx="86.5" cy="385.2" r="2.9" fill="#6f92d0"/>
<circle cx="86.5" cy="375.6" r="2.9" fill="#6f92d0"/>
<circle cx="86.7" cy="368.9" r="2.9" fill="#6f92d0"/>
<circle cx="86.8" cy="362.4" r="2.9" fill="#6f92d0"/>
<circle cx="87.0" cy="393.0" r="2.9" fill="#6f92d0"/>
<circle cx="87.5" cy="361.9" r="2.9" fill="#6f92d0"/>
<circle cx="87.5" cy="364.6" r="2.9" fill="#6f92d0"/>
<circle cx="87.5" cy="376.7" r="2.9" fill="#6f92d0"/>
<circle cx="88.0" cy="380.9" r="2.9" fill="#6f92d0"/>
<circle cx="88.0" cy="385.0" r="2.9" fill="#6f92d0"/>
<circle cx="88.4" cy="372.8" r="2.9" fill="#6f92d0"/>
<circle cx="88.5" cy="375.7" r="2.9" fill="#6f92d0"/>
<circle cx="88.6" cy="371.9" r="2.9" fill="#6f92d0"/>
<circle cx="88.7" cy="356.6" r="2.9" fill="#6f92d0"/>
<circle cx="89.0" cy="396.0" r="2.9" fill="#6f92d0"/>
<circle cx="89.1" cy="384.8" r="2.9" fill="#6f92d0"/>
<circle cx="89.2" cy="366.9" r="2.9" fill="#6f92d0"/>
<circle cx="89.4" cy="355.8" r="2.9" fill="#6f92d0"/>
<circle cx="89.5" cy="357.6" r="2.9" fill="#6f92d0"/>
<circle cx="89.7" cy="363.2" r="2.9" fill="#6f92d0"/>
<circle cx="90.0" cy="372.5" r="2.9" fill="#6f92d0"/>
<circle cx="90.3" cy="369.8" r="2.9" fill="#6f92d0"/>
<circle cx="90.3" cy="358.1" r="2.9" fill="#6f92d0"/>
<circle cx="90.7" cy="370.0" r="2.9" fill="#6f92d0"/>
<circle cx="90.7" cy="371.1" r="2.9" fill="#6f92d0"/>
<circle cx="91.2" cy="357.4" r="2.9" fill="#6f92d0"/>
<circle cx="91.4" cy="344.6" r="2.9" fill="#6f92d0"/>
<circle cx="91.4" cy="367.9" r="2.9" fill="#6f92d0"/>
<circle cx="91.4" cy="377.0" r="2.9" fill="#6f92d0"/>
<circle cx="92.0" cy="339.1" r="2.9" fill="#6f92d0"/>
<circle cx="92.1" cy="356.9" r="2.9" fill="#6f92d0"/>
<circle cx="92.3" cy="315.8" r="2.9" fill="#6f92d0"/>
<circle cx="92.5" cy="345.6" r="2.9" fill="#6f92d0"/>
<circle cx="92.6" cy="333.5" r="2.9" fill="#6f92d0"/>
<circle cx="92.8" cy="359.0" r="2.9" fill="#6f92d0"/>
<circle cx="92.9" cy="313.8" r="2.9" fill="#6f92d0"/>
<circle cx="93.0" cy="354.6" r="2.9" fill="#6f92d0"/>
<circle cx="93.3" cy="348.9" r="2.9" fill="#6f92d0"/>
<circle cx="93.4" cy="351.3" r="2.9" fill="#6f92d0"/>
<circle cx="93.8" cy="305.3" r="2.9" fill="#6f92d0"/>
<circle cx="93.9" cy="311.8" r="2.9" fill="#6f92d0"/>
<circle cx="93.9" cy="318.2" r="2.9" fill="#6f92d0"/>
<circle cx="94.2" cy="315.4" r="2.9" fill="#6f92d0"/>
<circle cx="94.4" cy="305.2" r="2.9" fill="#6f92d0"/>
<circle cx="94.7" cy="330.2" r="2.9" fill="#6f92d0"/>
<circle cx="95.0" cy="346.0" r="2.9" fill="#6f92d0"/>
<circle cx="95.0" cy="368.8" r="2.9" fill="#6f92d0"/>
<circle cx="95.0" cy="332.8" r="2.9" fill="#6f92d0"/>
<circle cx="95.4" cy="334.9" r="2.9" fill="#6f92d0"/>
<circle cx="95.5" cy="365.8" r="2.9" fill="#6f92d0"/>
<circle cx="95.8" cy="310.5" r="2.9" fill="#6f92d0"/>
<circle cx="96.0" cy="394.0" r="2.9" fill="#6f92d0"/>
<circle cx="96.1" cy="316.6" r="2.9" fill="#6f92d0"/>
<circle cx="96.3" cy="335.3" r="2.9" fill="#6f92d0"/>
<circle cx="96.5" cy="382.1" r="2.9" fill="#6f92d0"/>
<circle cx="96.8" cy="350.1" r="2.9" fill="#6f92d0"/>
<circle cx="97.0" cy="336.9" r="2.9" fill="#6f92d0"/>
<circle cx="97.0" cy="368.2" r="2.9" fill="#6f92d0"/>
<circle cx="97.3" cy="367.7" r="2.9" fill="#6f92d0"/>
<circle cx="97.7" cy="389.6" r="2.9" fill="#6f92d0"/>
<circle cx="97.7" cy="364.5" r="2.9" fill="#6f92d0"/>
<circle cx="97.8" cy="375.0" r="2.9" fill="#6f92d0"/>
<circle cx="98.0" cy="359.4" r="2.9" fill="#6f92d0"/>
<circle cx="98.3" cy="369.8" r="2.9" fill="#6f92d0"/>
<circle cx="98.5" cy="389.8" r="2.9" fill="#6f92d0"/>
<circle cx="98.6" cy="380.4" r="2.9" fill="#6f92d0"/>
<circle cx="98.7" cy="376.9" r="2.9" fill="#6f92d0"/>
<circle cx="99.2" cy="376.1" r="2.9" fill="#6f92d0"/>
<circle cx="99.4" cy="388.6" r="2.9" fill="#6f92d0"/>
<circle cx="99.4" cy="372.2" r="2.9" fill="#6f92d0"/>
<circle cx="99.7" cy="372.2" r="2.9" fill="#6f92d0"/>
<circle cx="99.8" cy="376.6" r="2.9" fill="#6f92d0"/>
<circle cx="100.1" cy="375.2" r="2.9" fill="#6f92d0"/>
<circle cx="100.2" cy="379.1" r="2.9" fill="#6f92d0"/>
<circle cx="100.2" cy="375.4" r="2.9" fill="#6f92d0"/>
<circle cx="100.5" cy="369.2" r="2.9" fill="#6f92d0"/>
<circle cx="100.7" cy="375.7" r="2.9" fill="#6f92d0"/>
<circle cx="100.9" cy="383.7" r="2.9" fill="#6f92d0"/>
<circle cx="101.0" cy="386.6" r="2.9" fill="#6f92d0"/>
<circle cx="101.4" cy="363.6" r="2.9" fill="#6f92d0"/>
<circle cx="101.5" cy="366.1" r="2.9" fill="#6f92d0"/>
<circle cx="102.0" cy="366.5" r="2.9" fill="#6f92d0"/>
<circle cx="102.0" cy="371.8" r="2.9" fill="#6f92d0"/>
<circle cx="102.2" cy="375.2" r="2.9" fill="#6f92d0"/>
<circle cx="102.5" cy="360.6" r="2.9" fill="#6f92d0"/>
<circle cx="102.6" cy="302.0" r="2.9" fill="#6f92d0"/>
<circle cx="102.6" cy="307.0" r="2.9" fill="#6f92d0"/>
<circle cx="102.6" cy="314.0" r="2.9" fill="#6f92d0"/>
<circle cx="102.6" cy="320.0" r="2.9" fill="#6f92d0"/>
<circle cx="102.6" cy="326.0" r="2.9" fill="#6f92d0"/>
<circle cx="102.6" cy="332.0" r="2.9" fill="#6f92d0"/>
<circle cx="102.7" cy="365.5" r="2.9" fill="#6f92d0"/>
<circle cx="102.7" cy="366.4" r="2.9" fill="#6f92d0"/>
<circle cx="102.8" cy="372.0" r="2.9" fill="#6f92d0"/>
<circle cx="103.1" cy="366.5" r="2.9" fill="#6f92d0"/>
<circle cx="103.3" cy="362.9" r="2.9" fill="#6f92d0"/>
<circle cx="103.4" cy="372.7" r="2.9" fill="#6f92d0"/>
<circle cx="103.7" cy="382.0" r="2.9" fill="#6f92d0"/>
<circle cx="103.8" cy="377.6" r="2.9" fill="#6f92d0"/>
<circle cx="104.1" cy="370.3" r="2.9" fill="#6f92d0"/>
<circle cx="104.2" cy="371.2" r="2.9" fill="#6f92d0"/>
<circle cx="104.6" cy="372.8" r="2.9" fill="#6f92d0"/>
<circle cx="104.7" cy="381.0" r="2.9" fill="#6f92d0"/>
<circle cx="104.8" cy="365.7" r="2.9" fill="#6f92d0"/>
<circle cx="105.2" cy="378.3" r="2.9" fill="#6f92d0"/>
<circle cx="105.2" cy="378.5" r="2.9" fill="#6f92d0"/>
<circle cx="105.2" cy="360.1" r="2.9" fill="#6f92d0"/>
<circle cx="105.7" cy="376.6" r="2.9" fill="#6f92d0"/>
<circle cx="105.7" cy="366.8" r="2.9" fill="#6f92d0"/>
<circle cx="106.2" cy="370.0" r="2.9" fill="#6f92d0"/>
<circle cx="106.2" cy="358.7" r="2.9" fill="#6f92d0"/>
<circle cx="106.4" cy="363.9" r="2.9" fill="#6f92d0"/>
<circle cx="106.5" cy="371.0" r="2.9" fill="#6f92d0"/>
<circle cx="106.9" cy="377.2" r="2.9" fill="#6f92d0"/>
<circle cx="107.0" cy="356.8" r="2.9" fill="#6f92d0"/>
<circle cx="107.2" cy="374.4" r="2.9" fill="#6f92d0"/>
<circle cx="107.4" cy="372.8" r="2.9" fill="#6f92d0"/>
<circle cx="107.8" cy="381.4" r="2.9" fill="#6f92d0"/>
<circle cx="107.9" cy="356.6" r="2.9" fill="#6f92d0"/>
<circle cx="108.2" cy="361.1" r="2.9" fill="#6f92d0"/>
<circle cx="108.3" cy="379.9" r="2.9" fill="#6f92d0"/>
<circle cx="108.5" cy="378.9" r="2.9" fill="#6f92d0"/>
<circle cx="108.5" cy="358.9" r="2.9" fill="#6f92d0"/>
<circle cx="108.6" cy="371.0" r="2.9" fill="#6f92d0"/>
<circle cx="108.9" cy="359.7" r="2.9" fill="#6f92d0"/>
<circle cx="109.2" cy="365.1" r="2.9" fill="#6f92d0"/>
<circle cx="109.2" cy="356.8" r="2.9" fill="#6f92d0"/>
<circle cx="109.3" cy="357.2" r="2.9" fill="#6f92d0"/>
<circle cx="109.8" cy="373.9" r="2.9" fill="#6f92d0"/>
<circle cx="110.0" cy="392.0" r="2.9" fill="#6f92d0"/>
<circle cx="110.1" cy="363.6" r="2.9" fill="#6f92d0"/>
<circle cx="110.1" cy="359.2" r="2.9" fill="#6f92d0"/>
<circle cx="110.4" cy="367.8" r="2.9" fill="#6f92d0"/>
<circle cx="110.5" cy="372.7" r="2.9" fill="#6f92d0"/>
<circle cx="110.8" cy="371.2" r="2.9" fill="#6f92d0"/>
<circle cx="110.8" cy="365.0" r="2.9" fill="#6f92d0"/>
<circle cx="111.1" cy="377.9" r="2.9" fill="#6f92d0"/>
<circle cx="111.3" cy="370.9" r="2.9" fill="#6f92d0"/>
<circle cx="111.4" cy="369.3" r="2.9" fill="#6f92d0"/>
<circle cx="111.6" cy="374.0" r="2.9" fill="#6f92d0"/>
<circle cx="111.9" cy="359.3" r="2.9" fill="#6f92d0"/>
<circle cx="112.0" cy="365.0" r="2.9" fill="#6f92d0"/>
<circle cx="112.0" cy="346.0" r="2.9" fill="#6f92d0"/>
<circle cx="112.4" cy="360.4" r="2.9" fill="#6f92d0"/>
<circle cx="112.5" cy="372.1" r="2.9" fill="#6f92d0"/>
<circle cx="112.6" cy="371.8" r="2.9" fill="#6f92d0"/>
<circle cx="112.7" cy="359.1" r="2.9" fill="#6f92d0"/>
<circle cx="113.1" cy="361.8" r="2.9" fill="#6f92d0"/>
<circle cx="113.4" cy="375.1" r="2.9" fill="#6f92d0"/>
<circle cx="113.4" cy="373.4" r="2.9" fill="#6f92d0"/>
<circle cx="113.5" cy="367.6" r="2.9" fill="#6f92d0"/>
<circle cx="113.6" cy="359.8" r="2.9" fill="#6f92d0"/>
<circle cx="114.1" cy="359.0" r="2.9" fill="#6f92d0"/>
<circle cx="114.3" cy="372.4" r="2.9" fill="#6f92d0"/>
<circle cx="114.7" cy="372.0" r="2.9" fill="#6f92d0"/>
<circle cx="114.8" cy="359.6" r="2.9" fill="#6f92d0"/>
<circle cx="114.9" cy="364.7" r="2.9" fill="#6f92d0"/>
<circle cx="114.9" cy="364.2" r="2.9" fill="#6f92d0"/>
<circle cx="115.3" cy="364.5" r="2.9" fill="#6f92d0"/>
<circle cx="115.4" cy="359.5" r="2.9" fill="#6f92d0"/>
<circle cx="115.8" cy="371.7" r="2.9" fill="#6f92d0"/>
<circle cx="116.0" cy="366.6" r="2.9" fill="#6f92d0"/>
<circle cx="116.2" cy="368.6" r="2.9" fill="#6f92d0"/>
<circle cx="116.2" cy="369.9" r="2.9" fill="#6f92d0"/>
<circle cx="116.4" cy="357.1" r="2.9" fill="#6f92d0"/>
<circle cx="116.5" cy="365.7" r="2.9" fill="#6f92d0"/>
<circle cx="116.6" cy="357.3" r="2.9" fill="#6f92d0"/>
<circle cx="117.2" cy="367.7" r="2.9" fill="#6f92d0"/>
<circle cx="117.3" cy="356.4" r="2.9" fill="#6f92d0"/>
<circle cx="117.4" cy="377.4" r="2.9" fill="#6f92d0"/>
<circle cx="117.6" cy="366.5" r="2.9" fill="#6f92d0"/>
<circle cx="117.7" cy="358.7" r="2.9" fill="#6f92d0"/>
<circle cx="117.8" cy="360.1" r="2.9" fill="#6f92d0"/>
<circle cx="118.0" cy="347.0" r="2.9" fill="#6f92d0"/>
<circle cx="118.1" cy="365.5" r="2.9" fill="#6f92d0"/>
<circle cx="118.4" cy="363.0" r="2.9" fill="#6f92d0"/>
<circle cx="118.5" cy="360.0" r="2.9" fill="#6f92d0"/>
<circle cx="118.6" cy="363.2" r="2.9" fill="#6f92d0"/>
<circle cx="118.8" cy="367.8" r="2.9" fill="#6f92d0"/>
<circle cx="118.9" cy="378.2" r="2.9" fill="#6f92d0"/>
<circle cx="119.3" cy="378.5" r="2.9" fill="#6f92d0"/>
<circle cx="119.6" cy="372.3" r="2.9" fill="#6f92d0"/>
<circle cx="119.7" cy="378.7" r="2.9" fill="#6f92d0"/>
<circle cx="119.7" cy="372.2" r="2.9" fill="#6f92d0"/>
<circle cx="120.0" cy="372.4" r="2.9" fill="#6f92d0"/>
<circle cx="120.3" cy="357.1" r="2.9" fill="#6f92d0"/>
<circle cx="120.4" cy="360.4" r="2.9" fill="#6f92d0"/>
<circle cx="120.6" cy="358.4" r="2.9" fill="#6f92d0"/>
<circle cx="120.8" cy="379.4" r="2.9" fill="#6f92d0"/>
<circle cx="121.0" cy="363.9" r="2.9" fill="#6f92d0"/>
<circle cx="121.3" cy="363.2" r="2.9" fill="#6f92d0"/>
<circle cx="121.5" cy="362.2" r="2.9" fill="#6f92d0"/>
<circle cx="121.6" cy="373.4" r="2.9" fill="#6f92d0"/>
<circle cx="122.0" cy="378.6" r="2.9" fill="#6f92d0"/>
<circle cx="122.1" cy="366.7" r="2.9" fill="#6f92d0"/>
<circle cx="122.2" cy="374.8" r="2.9" fill="#6f92d0"/>
<circle cx="122.5" cy="356.8" r="2.9" fill="#6f92d0"/>
<circle cx="122.6" cy="357.7" r="2.9" fill="#6f92d0"/>
<circle cx="122.9" cy="379.8" r="2.9" fill="#6f92d0"/>
<circle cx="123.0" cy="347.0" r="2.9" fill="#6f92d0"/>
<circle cx="123.0" cy="352.0" r="2.9" fill="#6f92d0"/>
<circle cx="123.0" cy="388.0" r="2.9" fill="#6f92d0"/>
<circle cx="123.0" cy="358.3" r="2.9" fill="#6f92d0"/>
<circle cx="123.0" cy="364.8" r="2.9" fill="#6f92d0"/>
<circle cx="123.6" cy="368.1" r="2.9" fill="#6f92d0"/>
<circle cx="123.7" cy="357.9" r="2.9" fill="#6f92d0"/>
<circle cx="123.8" cy="357.9" r="2.9" fill="#6f92d0"/>
<circle cx="124.0" cy="358.1" r="2.9" fill="#6f92d0"/>
<circle cx="124.1" cy="366.2" r="2.9" fill="#6f92d0"/>
<circle cx="124.3" cy="357.9" r="2.9" fill="#6f92d0"/>
<circle cx="124.4" cy="379.3" r="2.9" fill="#6f92d0"/>
<circle cx="124.6" cy="368.6" r="2.9" fill="#6f92d0"/>
<circle cx="124.9" cy="369.1" r="2.9" fill="#6f92d0"/>
<circle cx="125.0" cy="364.0" r="2.9" fill="#6f92d0"/>
<circle cx="125.2" cy="369.4" r="2.9" fill="#6f92d0"/>
<circle cx="125.7" cy="369.3" r="2.9" fill="#6f92d0"/>
<circle cx="125.8" cy="370.7" r="2.9" fill="#6f92d0"/>
<circle cx="126.0" cy="361.8" r="2.9" fill="#6f92d0"/>
<circle cx="126.2" cy="370.1" r="2.9" fill="#6f92d0"/>
<circle cx="126.3" cy="371.3" r="2.9" fill="#6f92d0"/>
<circle cx="126.7" cy="367.2" r="2.9" fill="#6f92d0"/>
<circle cx="126.7" cy="378.0" r="2.9" fill="#6f92d0"/>
<circle cx="127.0" cy="364.1" r="2.9" fill="#6f92d0"/>
<circle cx="127.1" cy="362.0" r="2.9" fill="#6f92d0"/>
<circle cx="127.1" cy="374.7" r="2.9" fill="#6f92d0"/>
<circle cx="127.5" cy="358.8" r="2.9" fill="#6f92d0"/>
<circle cx="127.7" cy="364.1" r="2.9" fill="#6f92d0"/>
<circle cx="127.8" cy="358.8" r="2.9" fill="#6f92d0"/>
<circle cx="128.1" cy="370.2" r="2.9" fill="#6f92d0"/>
<circle cx="128.2" cy="358.3" r="2.9" fill="#6f92d0"/>
<circle cx="128.6" cy="363.5" r="2.9" fill="#6f92d0"/>
<circle cx="128.6" cy="358.0" r="2.9" fill="#6f92d0"/>
<circle cx="128.8" cy="359.2" r="2.9" fill="#6f92d0"/>
<circle cx="129.1" cy="364.2" r="2.9" fill="#6f92d0"/>
<circle cx="129.4" cy="369.8" r="2.9" fill="#6f92d0"/>
<circle cx="129.7" cy="372.0" r="2.9" fill="#6f92d0"/>
<circle cx="129.8" cy="370.2" r="2.9" fill="#6f92d0"/>
<circle cx="129.8" cy="375.8" r="2.9" fill="#6f92d0"/>
<circle cx="130.2" cy="379.0" r="2.9" fill="#6f92d0"/>
<circle cx="130.3" cy="375.7" r="2.9" fill="#6f92d0"/>
<circle cx="130.4" cy="373.1" r="2.9" fill="#6f92d0"/>
<circle cx="130.6" cy="360.0" r="2.9" fill="#6f92d0"/>
<circle cx="130.6" cy="360.9" r="2.9" fill="#6f92d0"/>
<circle cx="130.9" cy="372.5" r="2.9" fill="#6f92d0"/>
<circle cx="131.1" cy="358.4" r="2.9" fill="#6f92d0"/>
<circle cx="131.4" cy="358.1" r="2.9" fill="#6f92d0"/>
<circle cx="131.6" cy="369.8" r="2.9" fill="#6f92d0"/>
<circle cx="131.6" cy="365.2" r="2.9" fill="#6f92d0"/>
<circle cx="132.2" cy="378.8" r="2.9" fill="#6f92d0"/>
<circle cx="132.3" cy="362.2" r="2.9" fill="#6f92d0"/>
<circle cx="132.4" cy="365.3" r="2.9" fill="#6f92d0"/>
<circle cx="132.5" cy="357.2" r="2.9" fill="#6f92d0"/>
<circle cx="132.9" cy="376.0" r="2.9" fill="#6f92d0"/>
<circle cx="133.1" cy="359.1" r="2.9" fill="#6f92d0"/>
<circle cx="133.2" cy="360.8" r="2.9" fill="#6f92d0"/>
<circle cx="133.5" cy="367.2" r="2.9" fill="#6f92d0"/>
<circle cx="133.6" cy="364.2" r="2.9" fill="#6f92d0"/>
<circle cx="133.8" cy="375.2" r="2.9" fill="#6f92d0"/>
<circle cx="134.1" cy="367.0" r="2.9" fill="#6f92d0"/>
<circle cx="134.2" cy="367.5" r="2.9" fill="#6f92d0"/>
<circle cx="134.5" cy="378.5" r="2.9" fill="#6f92d0"/>
<circle cx="134.6" cy="379.3" r="2.9" fill="#6f92d0"/>
<circle cx="134.8" cy="359.2" r="2.9" fill="#6f92d0"/>
<circle cx="134.9" cy="379.5" r="2.9" fill="#6f92d0"/>
<circle cx="135.1" cy="366.5" r="2.9" fill="#6f92d0"/>
<circle cx="135.1" cy="370.2" r="2.9" fill="#6f92d0"/>
<circle cx="135.3" cy="322.6" r="2.9" fill="#6f92d0"/>
<circle cx="135.3" cy="330.0" r="2.9" fill="#6f92d0"/>
<circle cx="135.5" cy="377.2" r="2.9" fill="#6f92d0"/>
<circle cx="135.7" cy="361.7" r="2.9" fill="#6f92d0"/>
<circle cx="135.8" cy="361.4" r="2.9" fill="#6f92d0"/>
<circle cx="136.2" cy="365.0" r="2.9" fill="#6f92d0"/>
<circle cx="136.4" cy="362.5" r="2.9" fill="#6f92d0"/>
<circle cx="136.5" cy="362.3" r="2.9" fill="#6f92d0"/>
<circle cx="137.0" cy="376.3" r="2.9" fill="#6f92d0"/>
<circle cx="137.1" cy="360.0" r="2.9" fill="#6f92d0"/>
<circle cx="137.1" cy="371.1" r="2.9" fill="#6f92d0"/>
<circle cx="137.3" cy="360.6" r="2.9" fill="#6f92d0"/>
<circle cx="137.5" cy="368.1" r="2.9" fill="#6f92d0"/>
<circle cx="137.5" cy="373.4" r="2.9" fill="#6f92d0"/>
<circle cx="138.1" cy="361.3" r="2.9" fill="#6f92d0"/>
<circle cx="138.2" cy="364.2" r="2.9" fill="#6f92d0"/>
<circle cx="138.4" cy="376.8" r="2.9" fill="#6f92d0"/>
<circle cx="138.5" cy="375.3" r="2.9" fill="#6f92d0"/>
<circle cx="138.6" cy="356.8" r="2.9" fill="#6f92d0"/>
<circle cx="138.9" cy="370.3" r="2.9" fill="#6f92d0"/>
<circle cx="138.9" cy="365.7" r="2.9" fill="#6f92d0"/>
<circle cx="139.2" cy="357.2" r="2.9" fill="#6f92d0"/>
<circle cx="139.4" cy="365.5" r="2.9" fill="#6f92d0"/>
<circle cx="139.6" cy="373.0" r="2.9" fill="#6f92d0"/>
<circle cx="139.8" cy="379.6" r="2.9" fill="#6f92d0"/>
<circle cx="140.2" cy="378.2" r="2.9" fill="#6f92d0"/>
<circle cx="140.3" cy="372.2" r="2.9" fill="#6f92d0"/>
<circle cx="140.4" cy="375.3" r="2.9" fill="#6f92d0"/>
<circle cx="140.6" cy="370.4" r="2.9" fill="#6f92d0"/>
<circle cx="140.9" cy="358.3" r="2.9" fill="#6f92d0"/>
<circle cx="140.9" cy="368.8" r="2.9" fill="#6f92d0"/>
<circle cx="141.0" cy="388.0" r="2.9" fill="#6f92d0"/>
<circle cx="141.0" cy="364.8" r="2.9" fill="#6f92d0"/>
<circle cx="141.4" cy="374.3" r="2.9" fill="#6f92d0"/>
<circle cx="141.7" cy="363.7" r="2.9" fill="#6f92d0"/>
<circle cx="142.0" cy="362.9" r="2.9" fill="#6f92d0"/>
<circle cx="142.1" cy="358.1" r="2.9" fill="#6f92d0"/>
<circle cx="142.3" cy="372.2" r="2.9" fill="#6f92d0"/>
<circle cx="142.6" cy="377.6" r="2.9" fill="#6f92d0"/>
<circle cx="142.7" cy="376.2" r="2.9" fill="#6f92d0"/>
<circle cx="142.8" cy="368.6" r="2.9" fill="#6f92d0"/>
<circle cx="142.9" cy="370.8" r="2.9" fill="#6f92d0"/>
<circle cx="143.4" cy="362.0" r="2.9" fill="#6f92d0"/>
<circle cx="143.5" cy="356.4" r="2.9" fill="#6f92d0"/>
<circle cx="143.6" cy="369.2" r="2.9" fill="#6f92d0"/>
<circle cx="143.7" cy="360.5" r="2.9" fill="#6f92d0"/>
<circle cx="144.0" cy="377.6" r="2.9" fill="#6f92d0"/>
<circle cx="144.3" cy="358.9" r="2.9" fill="#6f92d0"/>
<circle cx="144.3" cy="370.8" r="2.9" fill="#6f92d0"/>
<circle cx="144.6" cy="369.4" r="2.9" fill="#6f92d0"/>
<circle cx="144.8" cy="365.1" r="2.9" fill="#6f92d0"/>
<circle cx="145.0" cy="362.6" r="2.9" fill="#6f92d0"/>
<circle cx="145.1" cy="361.3" r="2.9" fill="#6f92d0"/>
<circle cx="145.3" cy="371.3" r="2.9" fill="#6f92d0"/>
<circle cx="145.4" cy="377.6" r="2.9" fill="#6f92d0"/>
<circle cx="145.7" cy="369.7" r="2.9" fill="#6f92d0"/>
<circle cx="145.8" cy="361.6" r="2.9" fill="#6f92d0"/>
<circle cx="146.0" cy="386.0" r="2.9" fill="#6f92d0"/>
<circle cx="146.3" cy="377.1" r="2.9" fill="#6f92d0"/>
<circle cx="146.4" cy="366.1" r="2.9" fill="#6f92d0"/>
<circle cx="146.4" cy="368.8" r="2.9" fill="#6f92d0"/>
<circle cx="146.8" cy="370.6" r="2.9" fill="#6f92d0"/>
<circle cx="146.9" cy="363.4" r="2.9" fill="#6f92d0"/>
<circle cx="147.0" cy="358.9" r="2.9" fill="#6f92d0"/>
<circle cx="147.3" cy="360.6" r="2.9" fill="#6f92d0"/>
<circle cx="147.5" cy="370.5" r="2.9" fill="#6f92d0"/>
<circle cx="147.5" cy="360.7" r="2.9" fill="#6f92d0"/>
<circle cx="147.9" cy="371.5" r="2.9" fill="#6f92d0"/>
<circle cx="148.0" cy="367.7" r="2.9" fill="#6f92d0"/>
<circle cx="148.1" cy="373.5" r="2.9" fill="#6f92d0"/>
<circle cx="148.5" cy="376.4" r="2.9" fill="#6f92d0"/>
<circle cx="148.6" cy="379.0" r="2.9" fill="#6f92d0"/>
<circle cx="148.9" cy="372.7" r="2.9" fill="#6f92d0"/>
<circle cx="148.9" cy="378.2" r="2.9" fill="#6f92d0"/>
<circle cx="149.2" cy="360.7" r="2.9" fill="#6f92d0"/>
<circle cx="149.4" cy="367.5" r="2.9" fill="#6f92d0"/>
<circle cx="149.4" cy="358.3" r="2.9" fill="#6f92d0"/>
<circle cx="149.6" cy="370.8" r="2.9" fill="#6f92d0"/>
<circle cx="149.8" cy="374.2" r="2.9" fill="#6f92d0"/>
<circle cx="150.3" cy="375.5" r="2.9" fill="#6f92d0"/>
<circle cx="150.5" cy="372.9" r="2.9" fill="#6f92d0"/>
<circle cx="150.8" cy="358.1" r="2.9" fill="#6f92d0"/>
<circle cx="150.8" cy="378.8" r="2.9" fill="#6f92d0"/>
<circle cx="150.8" cy="378.9" r="2.9" fill="#6f92d0"/>
<circle cx="151.0" cy="360.5" r="2.9" fill="#6f92d0"/>
<circle cx="151.3" cy="366.5" r="2.9" fill="#6f92d0"/>
<circle cx="151.6" cy="365.1" r="2.9" fill="#6f92d0"/>
<circle cx="151.7" cy="373.3" r="2.9" fill="#6f92d0"/>
<circle cx="152.0" cy="369.6" r="2.9" fill="#6f92d0"/>
<circle cx="152.0" cy="364.2" r="2.9" fill="#6f92d0"/>
<circle cx="152.0" cy="388.0" r="2.9" fill="#6f92d0"/>
<circle cx="152.3" cy="371.7" r="2.9" fill="#6f92d0"/>
<circle cx="152.5" cy="378.4" r="2.9" fill="#6f92d0"/>
<circle cx="153.0" cy="356.3" r="2.9" fill="#6f92d0"/>
<circle cx="153.0" cy="357.4" r="2.9" fill="#6f92d0"/>
<circle cx="153.1" cy="372.3" r="2.9" fill="#6f92d0"/>
<circle cx="153.3" cy="363.1" r="2.9" fill="#6f92d0"/>
<circle cx="153.6" cy="377.1" r="2.9" fill="#6f92d0"/>
<circle cx="153.7" cy="361.4" r="2.9" fill="#6f92d0"/>
<circle cx="153.9" cy="371.5" r="2.9" fill="#6f92d0"/>
<circle cx="154.2" cy="362.3" r="2.9" fill="#6f92d0"/>
<circle cx="154.2" cy="368.3" r="2.9" fill="#6f92d0"/>
<circle cx="154.5" cy="364.3" r="2.9" fill="#6f92d0"/>
<circle cx="154.7" cy="366.7" r="2.9" fill="#6f92d0"/>
<circle cx="154.8" cy="370.4" r="2.9" fill="#6f92d0"/>
<circle cx="154.9" cy="360.4" r="2.9" fill="#6f92d0"/>
<circle cx="155.1" cy="365.5" r="2.9" fill="#6f92d0"/>
<circle cx="155.6" cy="376.9" r="2.9" fill="#6f92d0"/>
<circle cx="155.7" cy="362.2" r="2.9" fill="#6f92d0"/>
<circle cx="155.7" cy="366.9" r="2.9" fill="#6f92d0"/>
<circle cx="156.2" cy="359.3" r="2.9" fill="#6f92d0"/>
<circle cx="156.2" cy="353.0" r="2.9" fill="#6f92d0"/>
<circle cx="156.4" cy="362.0" r="2.9" fill="#6f92d0"/>
<circle cx="156.6" cy="362.5" r="2.9" fill="#6f92d0"/>
<circle cx="156.8" cy="353.9" r="2.9" fill="#6f92d0"/>
<circle cx="156.9" cy="377.6" r="2.9" fill="#6f92d0"/>
<circle cx="157.2" cy="364.6" r="2.9" fill="#6f92d0"/>
<circle cx="157.2" cy="359.6" r="2.9" fill="#6f92d0"/>
<circle cx="157.8" cy="353.5" r="2.9" fill="#6f92d0"/>
<circle cx="157.8" cy="369.9" r="2.9" fill="#6f92d0"/>
<circle cx="158.0" cy="372.3" r="2.9" fill="#6f92d0"/>
<circle cx="158.0" cy="345.0" r="2.9" fill="#6f92d0"/>
<circle cx="158.2" cy="367.1" r="2.9" fill="#6f92d0"/>
<circle cx="158.6" cy="371.1" r="2.9" fill="#6f92d0"/>
<circle cx="158.6" cy="367.8" r="2.9" fill="#6f92d0"/>
<circle cx="158.7" cy="351.6" r="2.9" fill="#6f92d0"/>
<circle cx="158.9" cy="373.3" r="2.9" fill="#6f92d0"/>
<circle cx="159.3" cy="376.0" r="2.9" fill="#6f92d0"/>
<circle cx="159.3" cy="373.7" r="2.9" fill="#6f92d0"/>
<circle cx="159.6" cy="369.7" r="2.9" fill="#6f92d0"/>
<circle cx="159.7" cy="372.5" r="2.9" fill="#6f92d0"/>
<circle cx="159.9" cy="374.4" r="2.9" fill="#6f92d0"/>
<circle cx="160.0" cy="337.0" r="2.9" fill="#6f92d0"/>
<circle cx="160.3" cy="354.7" r="2.9" fill="#6f92d0"/>
<circle cx="160.4" cy="353.1" r="2.9" fill="#6f92d0"/>
<circle cx="160.5" cy="354.7" r="2.9" fill="#6f92d0"/>
<circle cx="160.8" cy="359.0" r="2.9" fill="#6f92d0"/>
<circle cx="160.8" cy="349.7" r="2.9" fill="#6f92d0"/>
<circle cx="160.9" cy="356.6" r="2.9" fill="#6f92d0"/>
<circle cx="161.4" cy="345.8" r="2.9" fill="#6f92d0"/>
<circle cx="161.5" cy="369.5" r="2.9" fill="#6f92d0"/>
<circle cx="161.9" cy="371.1" r="2.9" fill="#6f92d0"/>
<circle cx="162.0" cy="347.9" r="2.9" fill="#6f92d0"/>
<circle cx="162.0" cy="369.8" r="2.9" fill="#6f92d0"/>
<circle cx="162.3" cy="354.2" r="2.9" fill="#6f92d0"/>
<circle cx="162.5" cy="341.5" r="2.9" fill="#6f92d0"/>
<circle cx="162.6" cy="362.6" r="2.9" fill="#6f92d0"/>
<circle cx="162.8" cy="362.2" r="2.9" fill="#6f92d0"/>
<circle cx="162.9" cy="354.0" r="2.9" fill="#6f92d0"/>
<circle cx="163.3" cy="339.2" r="2.9" fill="#6f92d0"/>
<circle cx="163.5" cy="357.0" r="2.9" fill="#6f92d0"/>
<circle cx="163.7" cy="345.1" r="2.9" fill="#6f92d0"/>
<circle cx="163.8" cy="348.2" r="2.9" fill="#6f92d0"/>
<circle cx="164.1" cy="363.4" r="2.9" fill="#6f92d0"/>
<circle cx="164.1" cy="349.7" r="2.9" fill="#6f92d0"/>
<circle cx="164.3" cy="347.9" r="2.9" fill="#6f92d0"/>
<circle cx="164.8" cy="330.8" r="2.9" fill="#6f92d0"/>
<circle cx="164.8" cy="353.9" r="2.9" fill="#6f92d0"/>
<circle cx="164.8" cy="351.3" r="2.9" fill="#6f92d0"/>
<circle cx="165.2" cy="342.2" r="2.9" fill="#6f92d0"/>
<circle cx="165.4" cy="341.0" r="2.9" fill="#6f92d0"/>
<circle cx="165.5" cy="351.8" r="2.9" fill="#6f92d0"/>
<circle cx="165.6" cy="335.6" r="2.9" fill="#6f92d0"/>
<circle cx="165.9" cy="319.2" r="2.9" fill="#6f92d0"/>
<circle cx="166.1" cy="335.4" r="2.9" fill="#6f92d0"/>
<circle cx="166.5" cy="352.8" r="2.9" fill="#6f92d0"/>
<circle cx="166.5" cy="336.4" r="2.9" fill="#6f92d0"/>
<circle cx="166.9" cy="351.5" r="2.9" fill="#6f92d0"/>
<circle cx="167.1" cy="318.4" r="2.9" fill="#6f92d0"/>
<circle cx="167.2" cy="352.2" r="2.9" fill="#6f92d0"/>
<circle cx="167.6" cy="340.0" r="2.9" fill="#6f92d0"/>
<circle cx="167.6" cy="311.7" r="2.9" fill="#6f92d0"/>
<circle cx="167.8" cy="323.9" r="2.9" fill="#6f92d0"/>
<circle cx="168.2" cy="320.2" r="2.9" fill="#6f92d0"/>
<circle cx="168.2" cy="317.9" r="2.9" fill="#6f92d0"/>
<circle cx="168.2" cy="341.0" r="2.9" fill="#6f92d0"/>
<circle cx="168.6" cy="327.7" r="2.9" fill="#6f92d0"/>
<circle cx="168.6" cy="322.5" r="2.9" fill="#6f92d0"/>
<circle cx="168.7" cy="305.5" r="2.9" fill="#6f92d0"/>
<circle cx="169.1" cy="306.4" r="2.9" fill="#6f92d0"/>
<circle cx="169.4" cy="334.4" r="2.9" fill="#6f92d0"/>
<circle cx="169.6" cy="310.9" r="2.9" fill="#6f92d0"/>
<circle cx="169.9" cy="310.4" r="2.9" fill="#6f92d0"/>
<circle cx="170.1" cy="326.2" r="2.9" fill="#6f92d0"/>
<circle cx="170.1" cy="326.0" r="2.9" fill="#6f92d0"/>
<circle cx="170.2" cy="309.9" r="2.9" fill="#6f92d0"/>
<circle cx="170.7" cy="316.7" r="2.9" fill="#6f92d0"/>
<circle cx="170.7" cy="299.9" r="2.9" fill="#6f92d0"/>
<circle cx="170.9" cy="305.1" r="2.9" fill="#6f92d0"/>
<circle cx="171.1" cy="299.1" r="2.9" fill="#6f92d0"/>
<circle cx="171.2" cy="321.0" r="2.9" fill="#6f92d0"/>
<circle cx="171.7" cy="317.4" r="2.9" fill="#6f92d0"/>
<circle cx="171.9" cy="297.8" r="2.9" fill="#6f92d0"/>
<circle cx="171.9" cy="301.0" r="2.9" fill="#6f92d0"/>
<circle cx="172.2" cy="321.6" r="2.9" fill="#6f92d0"/>
<circle cx="172.3" cy="305.2" r="2.9" fill="#6f92d0"/>
<circle cx="172.4" cy="324.5" r="2.9" fill="#6f92d0"/>
<circle cx="172.7" cy="298.8" r="2.9" fill="#6f92d0"/>
<circle cx="172.7" cy="300.6" r="2.9" fill="#6f92d0"/>
<circle cx="173.0" cy="322.7" r="2.9" fill="#6f92d0"/>
<circle cx="173.2" cy="322.3" r="2.9" fill="#6f92d0"/>
<circle cx="173.4" cy="325.4" r="2.9" fill="#6f92d0"/>
<circle cx="173.8" cy="300.9" r="2.9" fill="#6f92d0"/>
<circle cx="173.9" cy="296.1" r="2.9" fill="#6f92d0"/>
<circle cx="174.0" cy="306.4" r="2.9" fill="#6f92d0"/>
<circle cx="174.4" cy="316.6" r="2.9" fill="#6f92d0"/>
<circle cx="174.4" cy="304.6" r="2.9" fill="#6f92d0"/>
<circle cx="174.6" cy="314.5" r="2.9" fill="#6f92d0"/>
<circle cx="174.7" cy="333.5" r="2.9" fill="#6f92d0"/>
<circle cx="174.9" cy="299.5" r="2.9" fill="#6f92d0"/>
<circle cx="175.1" cy="299.1" r="2.9" fill="#6f92d0"/>
<circle cx="175.4" cy="320.3" r="2.9" fill="#6f92d0"/>
<circle cx="175.5" cy="296.5" r="2.9" fill="#6f92d0"/>
<circle cx="175.5" cy="330.0" r="2.9" fill="#6f92d0"/>
<circle cx="175.6" cy="354.0" r="2.9" fill="#6f92d0"/>
<circle cx="175.7" cy="392.0" r="2.9" fill="#6f92d0"/>
<circle cx="175.8" cy="414.6" r="2.9" fill="#6f92d0"/>
<circle cx="176.1" cy="397.4" r="2.9" fill="#6f92d0"/>
<circle cx="176.2" cy="410.7" r="2.9" fill="#6f92d0"/>
<circle cx="176.9" cy="409.2" r="2.9" fill="#6f92d0"/>
<circle cx="177.2" cy="428.7" r="2.9" fill="#6f92d0"/>
<circle cx="177.4" cy="402.1" r="2.9" fill="#6f92d0"/>
<circle cx="177.9" cy="413.4" r="2.9" fill="#6f92d0"/>
<circle cx="178.0" cy="439.0" r="2.9" fill="#6f92d0"/>
<circle cx="178.5" cy="434.0" r="2.9" fill="#6f92d0"/>
<circle cx="178.5" cy="414.5" r="2.9" fill="#6f92d0"/>
<circle cx="178.8" cy="409.1" r="2.9" fill="#6f92d0"/>
<circle cx="179.2" cy="426.2" r="2.9" fill="#6f92d0"/>
<circle cx="179.4" cy="396.9" r="2.9" fill="#6f92d0"/>
<circle cx="179.8" cy="407.2" r="2.9" fill="#6f92d0"/>
<circle cx="180.5" cy="403.1" r="2.9" fill="#6f92d0"/>
<circle cx="180.7" cy="417.9" r="2.9" fill="#6f92d0"/>
<circle cx="181.3" cy="396.4" r="2.9" fill="#6f92d0"/>
<circle cx="181.6" cy="404.9" r="2.9" fill="#6f92d0"/>
<circle cx="181.6" cy="416.7" r="2.9" fill="#6f92d0"/>
<circle cx="182.4" cy="429.5" r="2.9" fill="#6f92d0"/>
<circle cx="182.4" cy="413.9" r="2.9" fill="#6f92d0"/>
<circle cx="182.9" cy="415.5" r="2.9" fill="#6f92d0"/>
<circle cx="183.5" cy="400.0" r="2.9" fill="#6f92d0"/>
<circle cx="183.7" cy="402.5" r="2.9" fill="#6f92d0"/>
<circle cx="183.9" cy="391.6" r="2.9" fill="#6f92d0"/>
<circle cx="184.5" cy="389.0" r="2.9" fill="#6f92d0"/>
<circle cx="184.6" cy="404.8" r="2.9" fill="#6f92d0"/>
<circle cx="185.0" cy="384.0" r="2.9" fill="#6f92d0"/>
<circle cx="185.1" cy="390.6" r="2.9" fill="#6f92d0"/>
<circle cx="185.2" cy="395.4" r="2.9" fill="#6f92d0"/>
<circle cx="185.9" cy="419.5" r="2.9" fill="#6f92d0"/>
<circle cx="186.3" cy="405.2" r="2.9" fill="#6f92d0"/>
<circle cx="186.3" cy="408.6" r="2.9" fill="#6f92d0"/>
<circle cx="186.7" cy="390.7" r="2.9" fill="#6f92d0"/>
<circle cx="187.3" cy="400.9" r="2.9" fill="#6f92d0"/>
<circle cx="187.4" cy="409.2" r="2.9" fill="#6f92d0"/>
<circle cx="188.0" cy="386.0" r="2.9" fill="#6f92d0"/>
<circle cx="188.2" cy="424.8" r="2.9" fill="#6f92d0"/>
<circle cx="188.4" cy="395.0" r="2.9" fill="#6f92d0"/>
<circle cx="188.9" cy="395.9" r="2.9" fill="#6f92d0"/>
<circle cx="189.2" cy="395.1" r="2.9" fill="#6f92d0"/>
<circle cx="189.8" cy="410.9" r="2.9" fill="#6f92d0"/>
<circle cx="189.9" cy="401.9" r="2.9" fill="#6f92d0"/>
<circle cx="190.4" cy="425.3" r="2.9" fill="#6f92d0"/>
<circle cx="190.7" cy="400.3" r="2.9" fill="#6f92d0"/>
<circle cx="191.0" cy="387.0" r="2.9" fill="#6f92d0"/>
<circle cx="191.1" cy="423.8" r="2.9" fill="#6f92d0"/>
<circle cx="191.4" cy="414.6" r="2.9" fill="#6f92d0"/>
<circle cx="192.1" cy="404.9" r="2.9" fill="#6f92d0"/>
<circle cx="192.4" cy="411.7" r="2.9" fill="#6f92d0"/>
<circle cx="192.5" cy="396.2" r="2.9" fill="#6f92d0"/>
<circle cx="193.3" cy="410.0" r="2.9" fill="#6f92d0"/>
<circle cx="193.4" cy="424.7" r="2.9" fill="#6f92d0"/>
<circle cx="193.9" cy="411.4" r="2.9" fill="#6f92d0"/>
<circle cx="194.1" cy="419.4" r="2.9" fill="#6f92d0"/>
<circle cx="194.5" cy="410.8" r="2.9" fill="#6f92d0"/>
<circle cx="195.1" cy="415.3" r="2.9" fill="#6f92d0"/>
<circle cx="195.2" cy="402.3" r="2.9" fill="#6f92d0"/>
<circle cx="195.9" cy="418.8" r="2.9" fill="#6f92d0"/>
<circle cx="196.0" cy="427.3" r="2.9" fill="#6f92d0"/>
<circle cx="196.4" cy="400.3" r="2.9" fill="#6f92d0"/>
<circle cx="196.7" cy="409.1" r="2.9" fill="#6f92d0"/>
<circle cx="197.4" cy="421.9" r="2.9" fill="#6f92d0"/>
<circle cx="197.5" cy="416.7" r="2.9" fill="#6f92d0"/>
<circle cx="197.9" cy="412.6" r="2.9" fill="#6f92d0"/>
<circle cx="198.0" cy="388.0" r="2.9" fill="#6f92d0"/>
<circle cx="198.4" cy="405.0" r="2.9" fill="#6f92d0"/>
<circle cx="198.6" cy="416.7" r="2.9" fill="#6f92d0"/>
<circle cx="199.1" cy="417.8" r="2.9" fill="#6f92d0"/>
<circle cx="199.6" cy="411.8" r="2.9" fill="#6f92d0"/>
<circle cx="200.1" cy="408.1" r="2.9" fill="#6f92d0"/>
<circle cx="200.6" cy="422.3" r="2.9" fill="#6f92d0"/>
<circle cx="200.7" cy="403.2" r="2.9" fill="#6f92d0"/>
<circle cx="201.4" cy="396.8" r="2.9" fill="#6f92d0"/>
<circle cx="201.5" cy="405.9" r="2.9" fill="#6f92d0"/>
<circle cx="202.2" cy="396.9" r="2.9" fill="#6f92d0"/>
<circle cx="202.4" cy="416.8" r="2.9" fill="#6f92d0"/>
<circle cx="202.9" cy="393.2" r="2.9" fill="#6f92d0"/>
<circle cx="203.4" cy="403.0" r="2.9" fill="#6f92d0"/>
<circle cx="203.7" cy="413.8" r="2.9" fill="#6f92d0"/>
<circle cx="203.9" cy="419.2" r="2.9" fill="#6f92d0"/>
<circle cx="204.4" cy="404.1" r="2.9" fill="#6f92d0"/>
<circle cx="204.8" cy="409.1" r="2.9" fill="#6f92d0"/>
<circle cx="205.2" cy="412.3" r="2.9" fill="#6f92d0"/>
<circle cx="205.6" cy="398.5" r="2.9" fill="#6f92d0"/>
<circle cx="205.8" cy="393.7" r="2.9" fill="#6f92d0"/>
<circle cx="206.4" cy="416.2" r="2.9" fill="#6f92d0"/>
<circle cx="206.8" cy="394.5" r="2.9" fill="#6f92d0"/>
<circle cx="207.0" cy="389.0" r="2.9" fill="#6f92d0"/>
<circle cx="207.0" cy="407.2" r="2.9" fill="#6f92d0"/>
<circle cx="207.2" cy="399.0" r="2.9" fill="#6f92d0"/>
<circle cx="208.0" cy="417.3" r="2.9" fill="#6f92d0"/>
<circle cx="208.0" cy="416.6" r="2.9" fill="#6f92d0"/>
<circle cx="208.6" cy="403.5" r="2.9" fill="#6f92d0"/>
<circle cx="209.0" cy="398.9" r="2.9" fill="#6f92d0"/>
<circle cx="209.2" cy="392.6" r="2.9" fill="#6f92d0"/>
<circle cx="209.8" cy="408.4" r="2.9" fill="#6f92d0"/>
<circle cx="210.2" cy="406.2" r="2.9" fill="#6f92d0"/>
<circle cx="210.5" cy="400.7" r="2.9" fill="#6f92d0"/>
<circle cx="211.0" cy="402.8" r="2.9" fill="#6f92d0"/>
<circle cx="211.3" cy="413.4" r="2.9" fill="#6f92d0"/>
<circle cx="211.6" cy="411.5" r="2.9" fill="#6f92d0"/>
<circle cx="211.8" cy="400.0" r="2.9" fill="#6f92d0"/>
<circle cx="212.0" cy="390.0" r="2.9" fill="#6f92d0"/>
<circle cx="212.6" cy="393.7" r="2.9" fill="#6f92d0"/>
<circle cx="212.6" cy="397.2" r="2.9" fill="#6f92d0"/>
<circle cx="213.3" cy="396.5" r="2.9" fill="#6f92d0"/>
<circle cx="213.6" cy="405.3" r="2.9" fill="#6f92d0"/>
<circle cx="214.1" cy="406.3" r="2.9" fill="#6f92d0"/>
<circle cx="214.4" cy="395.4" r="2.9" fill="#6f92d0"/>
<circle cx="214.9" cy="412.3" r="2.9" fill="#6f92d0"/>
<circle cx="215.0" cy="370.7" r="2.9" fill="#6f92d0"/>
<circle cx="215.1" cy="377.0" r="2.9" fill="#6f92d0"/>
<circle cx="215.2" cy="413.1" r="2.9" fill="#6f92d0"/>
<circle cx="215.3" cy="384.0" r="2.9" fill="#6f92d0"/>
<circle cx="215.5" cy="432.5" r="2.9" fill="#6f92d0"/>
<circle cx="215.6" cy="410.1" r="2.9" fill="#6f92d0"/>
<circle cx="216.1" cy="412.1" r="2.9" fill="#6f92d0"/>
<circle cx="216.1" cy="407.8" r="2.9" fill="#6f92d0"/>
<circle cx="216.9" cy="402.9" r="2.9" fill="#6f92d0"/>
<circle cx="216.9" cy="400.6" r="2.9" fill="#6f92d0"/>
<circle cx="217.3" cy="403.1" r="2.9" fill="#6f92d0"/>
<circle cx="217.7" cy="400.4" r="2.9" fill="#6f92d0"/>
<circle cx="218.0" cy="403.6" r="2.9" fill="#6f92d0"/>
<circle cx="218.5" cy="408.2" r="2.9" fill="#6f92d0"/>
<circle cx="219.0" cy="398.6" r="2.9" fill="#6f92d0"/>
<circle cx="219.6" cy="410.4" r="2.9" fill="#6f92d0"/>
<circle cx="219.9" cy="398.8" r="2.9" fill="#6f92d0"/>
<circle cx="220.1" cy="402.6" r="2.9" fill="#6f92d0"/>
<circle cx="220.5" cy="395.2" r="2.9" fill="#6f92d0"/>
<circle cx="220.9" cy="407.4" r="2.9" fill="#6f92d0"/>
<circle cx="221.4" cy="408.5" r="2.9" fill="#6f92d0"/>
<circle cx="221.8" cy="406.7" r="2.9" fill="#6f92d0"/>
<circle cx="222.3" cy="408.8" r="2.9" fill="#6f92d0"/>
<circle cx="222.7" cy="400.6" r="2.9" fill="#6f92d0"/>
<circle cx="223.0" cy="404.2" r="2.9" fill="#6f92d0"/>
<circle cx="223.5" cy="404.7" r="2.9" fill="#6f92d0"/>
<circle cx="223.6" cy="396.5" r="2.9" fill="#6f92d0"/>
<circle cx="224.0" cy="397.3" r="2.9" fill="#6f92d0"/>
<circle cx="224.5" cy="404.9" r="2.9" fill="#6f92d0"/>
<circle cx="224.7" cy="401.2" r="2.9" fill="#6f92d0"/>
<circle cx="225.4" cy="397.9" r="2.9" fill="#6f92d0"/>
<circle cx="225.4" cy="401.4" r="2.9" fill="#6f92d0"/>
<circle cx="225.9" cy="394.1" r="2.9" fill="#6f92d0"/>
<circle cx="226.5" cy="376.0" r="2.9" fill="#6f92d0"/>
<circle cx="226.8" cy="368.0" r="2.9" fill="#6f92d0"/>
<circle cx="228.0" cy="306.0" r="2.9" fill="#6f92d0"/>
<circle cx="228.3" cy="303.4" r="2.9" fill="#6f92d0"/>
<polyline points="460.8,318.9 466.4,307.5 472.3,300.3 477.7,315.7 483.5,325.9 489.2,351.4 494.8,377.8 500.4,373.0 506.0,378.4 511.7,378.9 517.5,380.2 523.3,380.6 529.0,402.7 534.6,405.5 540.2,408.7 545.8,403.8 551.5,404.2 557.1,398.1 562.7,402.7 568.3,403.5 574.0,405.7 579.8,398.6 585.4,402.5 591.1,393.2 596.7,405.1 602.5,379.5 608.4,399.4" fill="none" stroke="#6a8cc9" stroke-width="1.2" stroke-linejoin="round" />
<circle cx="460.8" cy="318.9" r="2.8" fill="#6f92d0"/>
<circle cx="466.4" cy="307.5" r="2.8" fill="#6f92d0"/>
<circle cx="472.3" cy="300.3" r="2.8" fill="#6f92d0"/>
<circle cx="477.7" cy="315.7" r="2.8" fill="#6f92d0"/>
<circle cx="483.5" cy="325.9" r="2.8" fill="#6f92d0"/>
<circle cx="489.2" cy="351.4" r="2.8" fill="#6f92d0"/>
<circle cx="494.8" cy="377.8" r="2.8" fill="#6f92d0"/>
<circle cx="500.4" cy="373.0" r="2.8" fill="#6f92d0"/>
<circle cx="506.0" cy="378.4" r="2.8" fill="#6f92d0"/>
<circle cx="511.7" cy="378.9" r="2.8" fill="#6f92d0"/>
<circle cx="517.5" cy="380.2" r="2.8" fill="#6f92d0"/>
<circle cx="523.3" cy="380.6" r="2.8" fill="#6f92d0"/>
<circle cx="529.0" cy="402.7" r="2.8" fill="#6f92d0"/>
<circle cx="534.6" cy="405.5" r="2.8" fill="#6f92d0"/>
<circle cx="540.2" cy="408.7" r="2.8" fill="#6f92d0"/>
<circle cx="545.8" cy="403.8" r="2.8" fill="#6f92d0"/>
<circle cx="551.5" cy="404.2" r="2.8" fill="#6f92d0"/>
<circle cx="557.1" cy="398.1" r="2.8" fill="#6f92d0"/>
<circle cx="562.7" cy="402.7" r="2.8" fill="#6f92d0"/>
<circle cx="568.3" cy="403.5" r="2.8" fill="#6f92d0"/>
<circle cx="574.0" cy="405.7" r="2.8" fill="#6f92d0"/>
<circle cx="579.8" cy="398.6" r="2.8" fill="#6f92d0"/>
<circle cx="585.4" cy="402.5" r="2.8" fill="#6f92d0"/>
<circle cx="591.1" cy="393.2" r="2.8" fill="#6f92d0"/>
<circle cx="596.7" cy="405.1" r="2.8" fill="#6f92d0"/>
<circle cx="602.5" cy="379.5" r="2.8" fill="#6f92d0"/>
<circle cx="608.4" cy="399.4" r="2.8" fill="#6f92d0"/>
<polyline points="734.1,400.8 739.1,393.7 744.1,404.1 749.1,396.6 754.1,400.3 759.1,392.4 764.1,377.1 769.1,390.0 774.1,387.9 779.2,383.7 784.2,388.7 789.2,391.2 794.5,387.0" fill="none" stroke="#6a8cc9" stroke-width="1.2" stroke-linejoin="round" />
<circle cx="734.1" cy="400.8" r="2.8" fill="#6f92d0"/>
<circle cx="739.1" cy="393.7" r="2.8" fill="#6f92d0"/>
<circle cx="744.1" cy="404.1" r="2.8" fill="#6f92d0"/>
<circle cx="749.1" cy="396.6" r="2.8" fill="#6f92d0"/>
<circle cx="754.1" cy="400.3" r="2.8" fill="#6f92d0"/>
<circle cx="759.1" cy="392.4" r="2.8" fill="#6f92d0"/>
<circle cx="764.1" cy="377.1" r="2.8" fill="#6f92d0"/>
<circle cx="769.1" cy="390.0" r="2.8" fill="#6f92d0"/>
<circle cx="774.1" cy="387.9" r="2.8" fill="#6f92d0"/>
<circle cx="779.2" cy="383.7" r="2.8" fill="#6f92d0"/>
<circle cx="784.2" cy="388.7" r="2.8" fill="#6f92d0"/>
<circle cx="789.2" cy="391.2" r="2.8" fill="#6f92d0"/>
<circle cx="794.5" cy="387.0" r="2.8" fill="#6f92d0"/>
<line x1="69.5" y1="428.5" x2="247" y2="428.5" stroke="#222" stroke-width="1.2" />
<line x1="69.5" y1="424.5" x2="69.5" y2="432.5" stroke="#222" stroke-width="1.2" />
<line x1="247" y1="424.5" x2="247" y2="432.5" stroke="#222" stroke-width="1.2" />
<line x1="119.2" y1="425" x2="119.2" y2="432" stroke="#222" stroke-width="1" />
<line x1="120.8" y1="425" x2="120.8" y2="432" stroke="#222" stroke-width="1" />
<line x1="148.9" y1="425" x2="148.9" y2="432" stroke="#222" stroke-width="1" />
<line x1="150.5" y1="425" x2="150.5" y2="432" stroke="#222" stroke-width="1" />
<rect x="84.0" y="424.8" width="7.5" height="7.5" fill="#111"/>
<rect x="97.7" y="424.8" width="7.5" height="7.5" fill="#111"/>
<rect x="133.4" y="424.8" width="7.5" height="7.5" fill="#111"/>
<rect x="163.2" y="424.8" width="7.5" height="7.5" fill="#111"/>
<rect x="173.3" y="424.8" width="7.5" height="7.5" fill="#111"/>
<rect x="179.2" y="424.8" width="7.5" height="7.5" fill="#111"/>
<rect x="194.6" y="424.8" width="7.5" height="7.5" fill="#111"/>
<rect x="218.4" y="424.8" width="7.5" height="7.5" fill="#111"/>
<rect x="221.3" y="424.8" width="7.5" height="7.5" fill="#111"/>
<line x1="493.8" y1="428.5" x2="525.7" y2="428.5" stroke="#222" stroke-width="1.2" />
<line x1="493.8" y1="424.5" x2="493.8" y2="432.5" stroke="#222" stroke-width="1.2" />
<line x1="525.7" y1="424.5" x2="525.7" y2="432.5" stroke="#222" stroke-width="1.2" />
<rect x="506.9" y="424.4" width="7.5" height="7.5" fill="#111"/>
<line x1="584.8" y1="428.5" x2="636.7" y2="428.5" stroke="#222" stroke-width="1.2" />
<line x1="584.8" y1="424.5" x2="584.8" y2="432.5" stroke="#222" stroke-width="1.2" />
<line x1="636.7" y1="424.5" x2="636.7" y2="432.5" stroke="#222" stroke-width="1.2" />
<rect x="607.9" y="424.4" width="7.5" height="7.5" fill="#111"/>
<line x1="711.7" y1="428.5" x2="765.5" y2="428.5" stroke="#222" stroke-width="1.2" />
<line x1="711.7" y1="424.5" x2="711.7" y2="432.5" stroke="#222" stroke-width="1.2" />
<line x1="765.5" y1="424.5" x2="765.5" y2="432.5" stroke="#222" stroke-width="1.2" />
<rect x="735.5" y="424.4" width="7.5" height="7.5" fill="#111"/>
<line x1="784.6" y1="428.5" x2="802.5" y2="428.5" stroke="#222" stroke-width="1.2" />
<line x1="784.6" y1="424.5" x2="784.6" y2="432.5" stroke="#222" stroke-width="1.2" />
<line x1="802.5" y1="424.5" x2="802.5" y2="432.5" stroke="#222" stroke-width="1.2" />
<rect x="798.1" y="424.4" width="7.5" height="7.5" fill="#111"/>
<text x="81.5" y="321" font-size="20" text-anchor="start" font-weight="normal" font-style="normal" fill="#111" >I</text>
<text x="106.5" y="318.5" font-size="20" text-anchor="start" font-weight="normal" font-style="normal" fill="#111" >II</text>
<text x="186.5" y="309.5" font-size="20" text-anchor="start" font-weight="normal" font-style="normal" fill="#111" >III</text>
<text x="233.5" y="299.3" font-size="20" text-anchor="start" font-weight="normal" font-style="normal" fill="#111" >IV</text>
<text x="293" y="111.2" font-size="18.3" text-anchor="start" font-weight="normal" font-style="italic" fill="#222" >Hiatus</text>
<text x="650.3" y="123" font-size="18.5" text-anchor="start" font-weight="normal" font-style="italic" fill="#222" >Hiatus</text>
<rect x="288" y="187.5" width="201" height="28" fill="none" stroke="#222" stroke-width="1.3"/>
<text x="325" y="208" font-size="18.6" text-anchor="start" font-weight="normal" font-style="italic" fill="#222" >Substage 6e</text>
<line x1="1228" y1="19.3" x2="1228" y2="165.7" stroke="#444" stroke-width="1.2" />
<line x1="1228" y1="19.3" x2="1232" y2="19.3" stroke="#444" stroke-width="1.2" />
<text x="1234" y="23.8" font-size="12.8" text-anchor="start" font-weight="normal" font-style="normal" fill="#222" >-12</text>
<line x1="1228" y1="55.9" x2="1232" y2="55.9" stroke="#444" stroke-width="1.2" />
<text x="1234" y="60.4" font-size="12.8" text-anchor="start" font-weight="normal" font-style="normal" fill="#222" >-11</text>
<line x1="1228" y1="92.5" x2="1232" y2="92.5" stroke="#444" stroke-width="1.2" />
<text x="1234" y="97.0" font-size="12.8" text-anchor="start" font-weight="normal" font-style="normal" fill="#222" >-10</text>
<line x1="1228" y1="129.1" x2="1232" y2="129.1" stroke="#444" stroke-width="1.2" />
<text x="1234" y="133.6" font-size="12.8" text-anchor="start" font-weight="normal" font-style="normal" fill="#222" >-9</text>
<line x1="1228" y1="165.7" x2="1232" y2="165.7" stroke="#444" stroke-width="1.2" />
<text x="1234" y="170.2" font-size="12.8" text-anchor="start" font-weight="normal" font-style="normal" fill="#222" >-8</text>
<text transform="translate(1279.2,93.75) rotate(-90)" font-size="14.5" text-anchor="middle" fill="#222" textLength="101.5" lengthAdjust="spacingAndGlyphs">δ<tspan font-size="9.5" dy="-5.5">13</tspan><tspan dy="5.5">O ‰ V-PDB</tspan></text>
<line x1="868.9" y1="153.2" x2="868.9" y2="286.4" stroke="#444" stroke-width="1.2" />
<line x1="865.5" y1="153.2" x2="868.9" y2="153.2" stroke="#444" stroke-width="1.2" />
<text x="861.5" y="158.29999999999998" font-size="14.3" text-anchor="end" font-weight="normal" font-style="normal" fill="#222" >-7</text>
<line x1="865.5" y1="186.5" x2="868.9" y2="186.5" stroke="#444" stroke-width="1.2" />
<text x="861.5" y="191.6" font-size="14.3" text-anchor="end" font-weight="normal" font-style="normal" fill="#222" >-6</text>
<line x1="865.5" y1="219.8" x2="868.9" y2="219.8" stroke="#444" stroke-width="1.2" />
<text x="861.5" y="224.9" font-size="14.3" text-anchor="end" font-weight="normal" font-style="normal" fill="#222" >-5</text>
<line x1="865.5" y1="253.1" x2="868.9" y2="253.1" stroke="#444" stroke-width="1.2" />
<text x="861.5" y="258.2" font-size="14.3" text-anchor="end" font-weight="normal" font-style="normal" fill="#222" >-4</text>
<line x1="865.5" y1="286.4" x2="868.9" y2="286.4" stroke="#444" stroke-width="1.2" />
<text x="861.5" y="291.5" font-size="14.3" text-anchor="end" font-weight="normal" font-style="normal" fill="#222" >-3</text>
<text transform="translate(838,219.9) rotate(-90)" font-size="14.5" text-anchor="middle" fill="#222" textLength="101" lengthAdjust="spacingAndGlyphs">δ<tspan font-size="9.5" dy="-5.5">18</tspan><tspan dy="5.5">O ‰ V-PDB</tspan></text>
<polyline points="887.0,84.6 887.8,79.7 888.0,67.5 888.5,81.3 888.6,80.1 889.3,77.6 889.3,77.5 889.9,76.3 890.1,69.3 890.5,68.2 890.8,65.8 891.1,69.3 891.6,65.5 891.8,77.2 892.4,74.1 892.4,79.9 893.0,76.0 893.1,72.1 893.7,73.0 893.9,65.8 894.3,75.6 894.7,57.2 894.9,62.8 895.4,58.8 895.6,58.2 896.2,75.3 896.2,72.7 896.8,60.6 897.0,75.1 897.4,57.1 897.7,74.2 898.1,73.5 898.5,72.8 898.7,55.5 899.3,52.5 899.3,55.8 900.0,55.9 900.0,51.8 900.6,58.3 900.8,57.4 901.2,55.4 901.6,56.1 901.8,54.4 902.3,55.6 902.5,78.0 903.1,74.3 903.1,78.3 903.7,79.3 903.9,56.0 904.4,48.8 904.6,51.2 905.0,74.6 905.4,51.2 905.6,74.3 906.1,51.0 906.2,57.3 906.9,50.4 906.9,69.0 907.5,50.0 907.7,66.9 908.1,69.3 908.4,67.3 908.8,49.8 909.2,64.2 909.4,76.4 910.0,67.1 910.0,53.3 910.7,50.3 910.7,63.6 911.3,69.6 911.5,60.5 911.9,50.4 912.3,69.8 912.5,57.2 913.0,62.2 913.2,76.4 913.8,73.7 913.8,58.0 914.4,71.6 914.6,60.7 915.1,71.2 915.3,63.2 915.7,74.1 916.1,63.4 916.3,75.5 916.9,59.6 916.9,55.4 917.6,69.5 917.6,58.5 918.2,71.3 918.4,56.0 918.8,50.4 919.2,54.8 919.5,47.2 919.9,75.5 920.1,51.9 920.7,75.9 920.7,65.6 921.3,62.5 921.5,52.9 922.0,64.2 922.2,51.3 922.6,45.7 923.0,70.7 923.2,78.5 923.8,70.9 923.9,74.2 924.0,45.0 924.5,73.1 924.5,67.5 925.0,39.0 925.1,77.4 925.3,71.9 925.8,82.0 926.1,68.3 926.4,84.3 926.8,57.4 927.0,54.4 927.6,56.6 927.6,78.3 928.3,55.5 928.4,57.6 928.9,76.0 929.1,55.6 929.5,73.4 929.9,56.3 930.2,77.1 930.7,54.2 930.8,65.5 931.4,85.8 931.4,66.4 932.0,64.9 932.2,90.3 932.7,82.5 933.0,91.0 933.3,72.8 933.7,76.0 933.9,90.3 934.5,66.4 934.6,66.7 935.2,71.1 935.3,79.8 935.8,75.4 936.0,81.8 936.4,77.1 936.8,88.4 937.1,95.9 937.6,70.0 937.7,78.5 938.0,101.0 938.3,69.6 938.3,77.8 939.0,84.6 939.0,95.0 939.1,87.5 939.6,89.8 939.9,89.7 940.2,85.3 940.6,74.7 940.9,84.2 941.4,71.8 941.5,68.7 942.1,70.6 942.1,81.2 942.7,83.0 942.9,79.8 943.4,77.9 943.7,78.1 944.0,67.4 944.4,77.1 945.2,63.5 946.0,62.9 946.7,64.5 947.5,60.3 948.3,63.2 949.0,66.5 949.8,77.2 950.6,73.4 951.3,81.0 952.1,75.8 952.9,74.3 953.6,68.5 954.4,65.7 955.2,62.6 955.9,66.1 956.7,65.9 957.5,64.8 958.2,73.8 959.0,77.3 959.8,73.6 960.5,61.3 961.3,64.0 962.1,71.5 962.8,73.7 963.6,71.1 964.4,71.0 965.1,70.8 965.9,66.9 966.7,67.5 967.4,70.5 968.2,71.4 969.0,54.1 969.7,52.3 970.5,51.7 971.3,72.9 972.0,68.1 972.8,73.0 973.6,56.5 974.3,53.6 975.1,54.3 975.9,68.4 976.6,68.9 977.4,69.7 978.1,75.2 978.9,71.3 979.7,70.2 980.4,54.4 981.2,69.5 982.0,76.9 982.7,69.6 983.5,69.8 984.3,75.3 985.0,60.5 985.8,67.4 986.6,66.8 987.3,55.6 988.1,49.4 988.9,69.4 989.6,55.9 990.4,56.1 991.2,67.0 991.9,72.3 992.7,67.5 993.5,52.8 994.2,51.4 995.0,50.0 995.8,65.3 996.5,70.0 997.3,57.9 998.1,54.9 998.8,59.4 999.6,64.6 1000.4,60.2 1001.1,49.2 1001.9,50.6 1002.7,49.4 1003.4,68.6 1004.2,55.3 1005.0,52.5 1005.7,55.3 1006.5,74.4 1007.3,73.5 1008.0,55.1 1008.8,55.3 1009.6,51.1 1010.3,56.0 1011.0,48.0 1011.1,48.6 1011.9,54.0 1012.6,55.6 1013.4,51.0 1014.1,54.5 1014.9,52.1 1015.7,55.4 1016.4,60.9 1017.2,64.3 1018.0,85.4 1018.7,92.1 1019.5,87.5 1020.3,79.6 1021.0,92.9 1021.8,76.6 1022.6,76.6 1023.0,100.0 1023.3,91.6 1024.1,94.2 1024.9,92.9 1025.6,79.1 1026.4,77.8 1027.2,79.2 1027.9,96.8 1028.7,97.8 1029.5,99.6 1030.2,94.2 1031.0,76.1 1031.8,78.9 1032.5,89.4 1033.3,86.7 1034.1,78.4 1034.8,74.7 1035.6,75.5 1036.0,40.0 1036.4,73.5 1037.1,69.4 1037.9,60.6 1038.7,60.5 1039.4,53.6 1040.2,59.5 1041.0,68.8 1041.7,50.1 1042.5,50.5 1043.3,67.1 1044.0,64.9 1044.8,66.0 1045.6,66.7 1046.3,56.5 1047.1,60.0 1047.9,77.2 1048.6,57.0 1049.4,56.8 1050.1,56.3 1050.9,59.0 1051.7,57.1 1052.4,60.4 1053.2,60.4 1054.0,76.6 1054.7,81.3 1055.5,65.3 1056.3,78.0 1057.0,80.4 1057.8,67.5 1058.6,80.5 1059.3,76.6 1060.1,63.8 1060.9,68.7 1061.6,83.1 1062.4,69.1 1063.2,77.7 1063.9,76.7 1064.0,40.0 1064.7,71.5 1065.5,68.5 1066.2,66.6 1067.0,80.0 1067.8,76.5 1068.5,51.8 1069.3,57.2 1070.1,54.2 1070.8,73.1 1071.6,70.3 1072.4,66.9 1073.1,59.3 1073.9,62.8 1074.7,66.0 1075.4,68.7 1076.2,59.7 1077.0,57.6 1077.7,55.2 1078.5,53.5 1079.3,67.0 1080.0,69.7 1080.0,59.2 1080.5,69.0 1080.8,51.6 1081.0,70.0 1081.5,51.8 1081.6,67.1 1082.0,50.2 1082.3,45.0 1082.5,64.9 1083.0,65.7 1083.1,46.3 1083.5,63.2 1083.9,46.2 1084.0,41.8 1084.5,35.4 1084.6,43.0 1085.0,63.5 1085.4,47.8 1085.6,68.4 1086.1,66.6 1086.1,44.0 1086.6,68.7 1086.9,70.4 1087.1,41.1 1087.6,43.4 1087.7,46.1 1088.1,60.6 1088.4,47.7 1088.6,41.0 1089.1,65.8 1089.2,40.3 1089.6,61.5 1090.0,40.8 1090.1,59.7 1090.6,64.6 1090.7,46.8 1091.1,39.1 1091.5,60.7 1091.6,52.4 1092.1,63.0 1092.3,49.4 1092.6,41.4 1093.0,49.6 1093.1,40.3 1093.6,39.8 1093.8,51.7 1094.1,46.4 1094.6,52.0 1094.6,39.0 1095.0,35.0 1095.1,48.5 1095.3,49.5 1095.6,67.7 1096.1,50.5 1096.1,47.2 1096.7,53.3 1096.9,52.6 1097.0,40.0 1097.2,44.4 1097.6,53.5 1097.7,70.2 1098.2,39.7 1098.4,63.4 1098.7,40.3 1099.2,57.8 1099.2,61.9 1099.7,47.0 1099.9,68.7 1100.2,47.8 1100.7,77.8 1100.7,79.7 1101.2,88.9 1101.3,125.0 1101.5,85.9 1101.5,140.0 1101.7,82.9 1101.8,155.0 1102.2,60.6 1102.2,94.7 1102.7,90.5 1103.0,95.4 1103.2,94.7 1103.7,96.8 1103.8,96.3 1104.0,128.0 1104.2,61.9 1104.5,81.5 1104.7,72.5 1105.2,94.9 1105.3,75.3 1105.7,98.8 1106.1,77.3 1106.2,107.3 1106.7,99.1 1106.8,85.2 1107.2,74.0 1107.6,108.9 1107.8,103.7 1108.0,125.0 1108.3,96.3 1108.4,104.7 1108.8,62.7 1109.1,98.3 1109.3,111.1 1109.8,104.7 1109.9,92.9 1110.3,111.0 1110.7,81.5 1110.8,75.5 1111.3,71.9 1111.4,93.6 1111.8,81.2 1112.2,74.3 1112.3,95.4 1112.8,93.1 1113.0,74.4 1113.3,61.6 1113.7,63.8 1113.8,88.8 1114.3,93.5 1114.5,60.0 1114.8,54.6 1115.3,59.1 1115.3,68.1 1115.8,63.9 1116.0,72.5 1116.3,69.5 1116.8,77.2 1116.8,68.5 1117.3,64.4 1117.6,75.8 1117.8,45.9 1118.3,59.4 1118.3,53.4 1118.9,51.9 1119.1,65.2 1119.4,66.9 1119.9,57.5 1119.9,49.9 1120.4,45.1 1120.6,65.7 1120.9,46.7 1121.4,51.9 1121.4,63.5 1121.9,49.8 1122.1,58.8 1122.4,54.5 1122.9,53.6 1122.9,67.3 1123.4,66.6 1123.7,67.4 1123.9,69.6 1124.4,68.1 1124.4,80.7 1124.9,68.8 1125.2,78.4 1125.4,60.4 1125.9,75.7 1126.0,78.7 1126.4,71.3 1126.7,85.0 1126.9,77.4 1127.4,74.0 1127.5,64.3 1127.9,54.0 1128.3,69.6 1128.4,82.0 1128.9,57.2 1129.0,91.8 1129.4,80.1 1129.8,88.9 1130.0,83.9 1130.5,64.3 1130.6,89.8 1131.0,82.5 1131.3,89.1 1131.5,72.6 1132.0,69.7 1132.1,87.5 1132.5,74.2 1132.9,66.3 1133.0,91.8 1133.5,63.3 1133.6,88.3 1134.0,88.9 1134.4,90.9 1134.5,70.5 1135.0,71.2 1135.2,77.3 1135.9,88.7 1136.7,80.2 1137.5,96.7 1138.2,95.0 1139.0,96.8 1140.0,75.3 1141.2,76.5 1142.4,94.6 1143.6,103.1 1145.3,111.5 1147.2,112.7 1149.2,105.5 1150.9,89.8 1152.1,79.0 1153.3,75.3 1154.5,104.3 1155.7,113.9 1156.9,101.9 1158.1,101.9 1159.3,92.2 1160.5,80.2 1161.7,100.7 1162.9,82.6 1164.1,94.6 1165.3,87.4 1166.5,75.3 1167.8,94.6 1169.0,88.6 1170.2,76.5 1171.4,76.5 1172.6,92.2 1173.8,80.2 1175.0,82.6 1176.2,87.4 1177.4,107.9 1178.6,106.7 1179.8,116.4 1181.0,121.2 1182.2,122.4 1183.4,118.8 1184.6,111.5 1185.8,117.6 1187.1,144.1 1188.3,24.7 1189.5,34.3 1190.7,30.7 1191.9,33.1 1193.1,30.7 1194.3,31.9 1195.5,29.5 1196.7,33.1 1197.9,31.9 1199.1,34.3 1200.3,30.7 1201.5,29.5 1202.7,31.9 1203.9,37.9 1205.2,46.4 1206.4,45.2 1207.6,42.8 1208.8,40.4 1210.0,41.5 1211.2,40.4 1212.4,42.8 1213.6,44.0 1214.8,45.2 1217.2,29.5" fill="none" stroke="#c57a78" stroke-width="0.9" stroke-linejoin="round" />
<circle cx="887.0" cy="84.6" r="1.15" fill="#a8403c"/>
<circle cx="887.8" cy="79.7" r="1.15" fill="#a8403c"/>
<circle cx="888.0" cy="67.5" r="1.15" fill="#a8403c"/>
<circle cx="888.5" cy="81.3" r="1.15" fill="#a8403c"/>
<circle cx="888.6" cy="80.1" r="1.15" fill="#a8403c"/>
<circle cx="889.3" cy="77.6" r="1.15" fill="#a8403c"/>
<circle cx="889.3" cy="77.5" r="1.15" fill="#a8403c"/>
<circle cx="889.9" cy="76.3" r="1.15" fill="#a8403c"/>
<circle cx="890.1" cy="69.3" r="1.15" fill="#a8403c"/>
<circle cx="890.5" cy="68.2" r="1.15" fill="#a8403c"/>
<circle cx="890.8" cy="65.8" r="1.15" fill="#a8403c"/>
<circle cx="891.1" cy="69.3" r="1.15" fill="#a8403c"/>
<circle cx="891.6" cy="65.5" r="1.15" fill="#a8403c"/>
<circle cx="891.8" cy="77.2" r="1.15" fill="#a8403c"/>
<circle cx="892.4" cy="74.1" r="1.15" fill="#a8403c"/>
<circle cx="892.4" cy="79.9" r="1.15" fill="#a8403c"/>
<circle cx="893.0" cy="76.0" r="1.15" fill="#a8403c"/>
<circle cx="893.1" cy="72.1" r="1.15" fill="#a8403c"/>
<circle cx="893.7" cy="73.0" r="1.15" fill="#a8403c"/>
<circle cx="893.9" cy="65.8" r="1.15" fill="#a8403c"/>
<circle cx="894.3" cy="75.6" r="1.15" fill="#a8403c"/>
<circle cx="894.7" cy="57.2" r="1.15" fill="#a8403c"/>
<circle cx="894.9" cy="62.8" r="1.15" fill="#a8403c"/>
<circle cx="895.4" cy="58.8" r="1.15" fill="#a8403c"/>
<circle cx="895.6" cy="58.2" r="1.15" fill="#a8403c"/>
<circle cx="896.2" cy="75.3" r="1.15" fill="#a8403c"/>
<circle cx="896.2" cy="72.7" r="1.15" fill="#a8403c"/>
<circle cx="896.8" cy="60.6" r="1.15" fill="#a8403c"/>
<circle cx="897.0" cy="75.1" r="1.15" fill="#a8403c"/>
<circle cx="897.4" cy="57.1" r="1.15" fill="#a8403c"/>
<circle cx="897.7" cy="74.2" r="1.15" fill="#a8403c"/>
<circle cx="898.1" cy="73.5" r="1.15" fill="#a8403c"/>
<circle cx="898.5" cy="72.8" r="1.15" fill="#a8403c"/>
<circle cx="898.7" cy="55.5" r="1.15" fill="#a8403c"/>
<circle cx="899.3" cy="52.5" r="1.15" fill="#a8403c"/>
<circle cx="899.3" cy="55.8" r="1.15" fill="#a8403c"/>
<circle cx="900.0" cy="55.9" r="1.15" fill="#a8403c"/>
<circle cx="900.0" cy="51.8" r="1.15" fill="#a8403c"/>
<circle cx="900.6" cy="58.3" r="1.15" fill="#a8403c"/>
<circle cx="900.8" cy="57.4" r="1.15" fill="#a8403c"/>
<circle cx="901.2" cy="55.4" r="1.15" fill="#a8403c"/>
<circle cx="901.6" cy="56.1" r="1.15" fill="#a8403c"/>
<circle cx="901.8" cy="54.4" r="1.15" fill="#a8403c"/>
<circle cx="902.3" cy="55.6" r="1.15" fill="#a8403c"/>
<circle cx="902.5" cy="78.0" r="1.15" fill="#a8403c"/>
<circle cx="903.1" cy="74.3" r="1.15" fill="#a8403c"/>
<circle cx="903.1" cy="78.3" r="1.15" fill="#a8403c"/>
<circle cx="903.7" cy="79.3" r="1.15" fill="#a8403c"/>
<circle cx="903.9" cy="56.0" r="1.15" fill="#a8403c"/>
<circle cx="904.4" cy="48.8" r="1.15" fill="#a8403c"/>
<circle cx="904.6" cy="51.2" r="1.15" fill="#a8403c"/>
<circle cx="905.0" cy="74.6" r="1.15" fill="#a8403c"/>
<circle cx="905.4" cy="51.2" r="1.15" fill="#a8403c"/>
<circle cx="905.6" cy="74.3" r="1.15" fill="#a8403c"/>
<circle cx="906.1" cy="51.0" r="1.15" fill="#a8403c"/>
<circle cx="906.2" cy="57.3" r="1.15" fill="#a8403c"/>
<circle cx="906.9" cy="50.4" r="1.15" fill="#a8403c"/>
<circle cx="906.9" cy="69.0" r="1.15" fill="#a8403c"/>
<circle cx="907.5" cy="50.0" r="1.15" fill="#a8403c"/>
<circle cx="907.7" cy="66.9" r="1.15" fill="#a8403c"/>
<circle cx="908.1" cy="69.3" r="1.15" fill="#a8403c"/>
<circle cx="908.4" cy="67.3" r="1.15" fill="#a8403c"/>
<circle cx="908.8" cy="49.8" r="1.15" fill="#a8403c"/>
<circle cx="909.2" cy="64.2" r="1.15" fill="#a8403c"/>
<circle cx="909.4" cy="76.4" r="1.15" fill="#a8403c"/>
<circle cx="910.0" cy="67.1" r="1.15" fill="#a8403c"/>
<circle cx="910.0" cy="53.3" r="1.15" fill="#a8403c"/>
<circle cx="910.7" cy="50.3" r="1.15" fill="#a8403c"/>
<circle cx="910.7" cy="63.6" r="1.15" fill="#a8403c"/>
<circle cx="911.3" cy="69.6" r="1.15" fill="#a8403c"/>
<circle cx="911.5" cy="60.5" r="1.15" fill="#a8403c"/>
<circle cx="911.9" cy="50.4" r="1.15" fill="#a8403c"/>
<circle cx="912.3" cy="69.8" r="1.15" fill="#a8403c"/>
<circle cx="912.5" cy="57.2" r="1.15" fill="#a8403c"/>
<circle cx="913.0" cy="62.2" r="1.15" fill="#a8403c"/>
<circle cx="913.2" cy="76.4" r="1.15" fill="#a8403c"/>
<circle cx="913.8" cy="73.7" r="1.15" fill="#a8403c"/>
<circle cx="913.8" cy="58.0" r="1.15" fill="#a8403c"/>
<circle cx="914.4" cy="71.6" r="1.15" fill="#a8403c"/>
<circle cx="914.6" cy="60.7" r="1.15" fill="#a8403c"/>
<circle cx="915.1" cy="71.2" r="1.15" fill="#a8403c"/>
<circle cx="915.3" cy="63.2" r="1.15" fill="#a8403c"/>
<circle cx="915.7" cy="74.1" r="1.15" fill="#a8403c"/>
<circle cx="916.1" cy="63.4" r="1.15" fill="#a8403c"/>
<circle cx="916.3" cy="75.5" r="1.15" fill="#a8403c"/>
<circle cx="916.9" cy="59.6" r="1.15" fill="#a8403c"/>
<circle cx="916.9" cy="55.4" r="1.15" fill="#a8403c"/>
<circle cx="917.6" cy="69.5" r="1.15" fill="#a8403c"/>
<circle cx="917.6" cy="58.5" r="1.15" fill="#a8403c"/>
<circle cx="918.2" cy="71.3" r="1.15" fill="#a8403c"/>
<circle cx="918.4" cy="56.0" r="1.15" fill="#a8403c"/>
<circle cx="918.8" cy="50.4" r="1.15" fill="#a8403c"/>
<circle cx="919.2" cy="54.8" r="1.15" fill="#a8403c"/>
<circle cx="919.5" cy="47.2" r="1.15" fill="#a8403c"/>
<circle cx="919.9" cy="75.5" r="1.15" fill="#a8403c"/>
<circle cx="920.1" cy="51.9" r="1.15" fill="#a8403c"/>
<circle cx="920.7" cy="75.9" r="1.15" fill="#a8403c"/>
<circle cx="920.7" cy="65.6" r="1.15" fill="#a8403c"/>
<circle cx="921.3" cy="62.5" r="1.15" fill="#a8403c"/>
<circle cx="921.5" cy="52.9" r="1.15" fill="#a8403c"/>
<circle cx="922.0" cy="64.2" r="1.15" fill="#a8403c"/>
<circle cx="922.2" cy="51.3" r="1.15" fill="#a8403c"/>
<circle cx="922.6" cy="45.7" r="1.15" fill="#a8403c"/>
<circle cx="923.0" cy="70.7" r="1.15" fill="#a8403c"/>
<circle cx="923.2" cy="78.5" r="1.15" fill="#a8403c"/>
<circle cx="923.8" cy="70.9" r="1.15" fill="#a8403c"/>
<circle cx="923.9" cy="74.2" r="1.15" fill="#a8403c"/>
<circle cx="924.0" cy="45.0" r="1.15" fill="#a8403c"/>
<circle cx="924.5" cy="73.1" r="1.15" fill="#a8403c"/>
<circle cx="924.5" cy="67.5" r="1.15" fill="#a8403c"/>
<circle cx="925.0" cy="39.0" r="1.15" fill="#a8403c"/>
<circle cx="925.1" cy="77.4" r="1.15" fill="#a8403c"/>
<circle cx="925.3" cy="71.9" r="1.15" fill="#a8403c"/>
<circle cx="925.8" cy="82.0" r="1.15" fill="#a8403c"/>
<circle cx="926.1" cy="68.3" r="1.15" fill="#a8403c"/>
<circle cx="926.4" cy="84.3" r="1.15" fill="#a8403c"/>
<circle cx="926.8" cy="57.4" r="1.15" fill="#a8403c"/>
<circle cx="927.0" cy="54.4" r="1.15" fill="#a8403c"/>
<circle cx="927.6" cy="56.6" r="1.15" fill="#a8403c"/>
<circle cx="927.6" cy="78.3" r="1.15" fill="#a8403c"/>
<circle cx="928.3" cy="55.5" r="1.15" fill="#a8403c"/>
<circle cx="928.4" cy="57.6" r="1.15" fill="#a8403c"/>
<circle cx="928.9" cy="76.0" r="1.15" fill="#a8403c"/>
<circle cx="929.1" cy="55.6" r="1.15" fill="#a8403c"/>
<circle cx="929.5" cy="73.4" r="1.15" fill="#a8403c"/>
<circle cx="929.9" cy="56.3" r="1.15" fill="#a8403c"/>
<circle cx="930.2" cy="77.1" r="1.15" fill="#a8403c"/>
<circle cx="930.7" cy="54.2" r="1.15" fill="#a8403c"/>
<circle cx="930.8" cy="65.5" r="1.15" fill="#a8403c"/>
<circle cx="931.4" cy="85.8" r="1.15" fill="#a8403c"/>
<circle cx="931.4" cy="66.4" r="1.15" fill="#a8403c"/>
<circle cx="932.0" cy="64.9" r="1.15" fill="#a8403c"/>
<circle cx="932.2" cy="90.3" r="1.15" fill="#a8403c"/>
<circle cx="932.7" cy="82.5" r="1.15" fill="#a8403c"/>
<circle cx="933.0" cy="91.0" r="1.15" fill="#a8403c"/>
<circle cx="933.3" cy="72.8" r="1.15" fill="#a8403c"/>
<circle cx="933.7" cy="76.0" r="1.15" fill="#a8403c"/>
<circle cx="933.9" cy="90.3" r="1.15" fill="#a8403c"/>
<circle cx="934.5" cy="66.4" r="1.15" fill="#a8403c"/>
<circle cx="934.6" cy="66.7" r="1.15" fill="#a8403c"/>
<circle cx="935.2" cy="71.1" r="1.15" fill="#a8403c"/>
<circle cx="935.3" cy="79.8" r="1.15" fill="#a8403c"/>
<circle cx="935.8" cy="75.4" r="1.15" fill="#a8403c"/>
<circle cx="936.0" cy="81.8" r="1.15" fill="#a8403c"/>
<circle cx="936.4" cy="77.1" r="1.15" fill="#a8403c"/>
<circle cx="936.8" cy="88.4" r="1.15" fill="#a8403c"/>
<circle cx="937.1" cy="95.9" r="1.15" fill="#a8403c"/>
<circle cx="937.6" cy="70.0" r="1.15" fill="#a8403c"/>
<circle cx="937.7" cy="78.5" r="1.15" fill="#a8403c"/>
<circle cx="938.0" cy="101.0" r="1.15" fill="#a8403c"/>
<circle cx="938.3" cy="69.6" r="1.15" fill="#a8403c"/>
<circle cx="938.3" cy="77.8" r="1.15" fill="#a8403c"/>
<circle cx="939.0" cy="84.6" r="1.15" fill="#a8403c"/>
<circle cx="939.0" cy="95.0" r="1.15" fill="#a8403c"/>
<circle cx="939.1" cy="87.5" r="1.15" fill="#a8403c"/>
<circle cx="939.6" cy="89.8" r="1.15" fill="#a8403c"/>
<circle cx="939.9" cy="89.7" r="1.15" fill="#a8403c"/>
<circle cx="940.2" cy="85.3" r="1.15" fill="#a8403c"/>
<circle cx="940.6" cy="74.7" r="1.15" fill="#a8403c"/>
<circle cx="940.9" cy="84.2" r="1.15" fill="#a8403c"/>
<circle cx="941.4" cy="71.8" r="1.15" fill="#a8403c"/>
<circle cx="941.5" cy="68.7" r="1.15" fill="#a8403c"/>
<circle cx="942.1" cy="70.6" r="1.15" fill="#a8403c"/>
<circle cx="942.1" cy="81.2" r="1.15" fill="#a8403c"/>
<circle cx="942.7" cy="83.0" r="1.15" fill="#a8403c"/>
<circle cx="942.9" cy="79.8" r="1.15" fill="#a8403c"/>
<circle cx="943.4" cy="77.9" r="1.15" fill="#a8403c"/>
<circle cx="943.7" cy="78.1" r="1.15" fill="#a8403c"/>
<circle cx="944.0" cy="67.4" r="1.15" fill="#a8403c"/>
<circle cx="944.4" cy="77.1" r="1.15" fill="#a8403c"/>
<circle cx="945.2" cy="63.5" r="1.15" fill="#a8403c"/>
<circle cx="946.0" cy="62.9" r="1.15" fill="#a8403c"/>
<circle cx="946.7" cy="64.5" r="1.15" fill="#a8403c"/>
<circle cx="947.5" cy="60.3" r="1.15" fill="#a8403c"/>
<circle cx="948.3" cy="63.2" r="1.15" fill="#a8403c"/>
<circle cx="949.0" cy="66.5" r="1.15" fill="#a8403c"/>
<circle cx="949.8" cy="77.2" r="1.15" fill="#a8403c"/>
<circle cx="950.6" cy="73.4" r="1.15" fill="#a8403c"/>
<circle cx="951.3" cy="81.0" r="1.15" fill="#a8403c"/>
<circle cx="952.1" cy="75.8" r="1.15" fill="#a8403c"/>
<circle cx="952.9" cy="74.3" r="1.15" fill="#a8403c"/>
<circle cx="953.6" cy="68.5" r="1.15" fill="#a8403c"/>
<circle cx="954.4" cy="65.7" r="1.15" fill="#a8403c"/>
<circle cx="955.2" cy="62.6" r="1.15" fill="#a8403c"/>
<circle cx="955.9" cy="66.1" r="1.15" fill="#a8403c"/>
<circle cx="956.7" cy="65.9" r="1.15" fill="#a8403c"/>
<circle cx="957.5" cy="64.8" r="1.15" fill="#a8403c"/>
<circle cx="958.2" cy="73.8" r="1.15" fill="#a8403c"/>
<circle cx="959.0" cy="77.3" r="1.15" fill="#a8403c"/>
<circle cx="959.8" cy="73.6" r="1.15" fill="#a8403c"/>
<circle cx="960.5" cy="61.3" r="1.15" fill="#a8403c"/>
<circle cx="961.3" cy="64.0" r="1.15" fill="#a8403c"/>
<circle cx="962.1" cy="71.5" r="1.15" fill="#a8403c"/>
<circle cx="962.8" cy="73.7" r="1.15" fill="#a8403c"/>
<circle cx="963.6" cy="71.1" r="1.15" fill="#a8403c"/>
<circle cx="964.4" cy="71.0" r="1.15" fill="#a8403c"/>
<circle cx="965.1" cy="70.8" r="1.15" fill="#a8403c"/>
<circle cx="965.9" cy="66.9" r="1.15" fill="#a8403c"/>
<circle cx="966.7" cy="67.5" r="1.15" fill="#a8403c"/>
<circle cx="967.4" cy="70.5" r="1.15" fill="#a8403c"/>
<circle cx="968.2" cy="71.4" r="1.15" fill="#a8403c"/>
<circle cx="969.0" cy="54.1" r="1.15" fill="#a8403c"/>
<circle cx="969.7" cy="52.3" r="1.15" fill="#a8403c"/>
<circle cx="970.5" cy="51.7" r="1.15" fill="#a8403c"/>
<circle cx="971.3" cy="72.9" r="1.15" fill="#a8403c"/>
<circle cx="972.0" cy="68.1" r="1.15" fill="#a8403c"/>
<circle cx="972.8" cy="73.0" r="1.15" fill="#a8403c"/>
<circle cx="973.6" cy="56.5" r="1.15" fill="#a8403c"/>
<circle cx="974.3" cy="53.6" r="1.15" fill="#a8403c"/>
<circle cx="975.1" cy="54.3" r="1.15" fill="#a8403c"/>
<circle cx="975.9" cy="68.4" r="1.15" fill="#a8403c"/>
<circle cx="976.6" cy="68.9" r="1.15" fill="#a8403c"/>
<circle cx="977.4" cy="69.7" r="1.15" fill="#a8403c"/>
<circle cx="978.1" cy="75.2" r="1.15" fill="#a8403c"/>
<circle cx="978.9" cy="71.3" r="1.15" fill="#a8403c"/>
<circle cx="979.7" cy="70.2" r="1.15" fill="#a8403c"/>
<circle cx="980.4" cy="54.4" r="1.15" fill="#a8403c"/>
<circle cx="981.2" cy="69.5" r="1.15" fill="#a8403c"/>
<circle cx="982.0" cy="76.9" r="1.15" fill="#a8403c"/>
<circle cx="982.7" cy="69.6" r="1.15" fill="#a8403c"/>
<circle cx="983.5" cy="69.8" r="1.15" fill="#a8403c"/>
<circle cx="984.3" cy="75.3" r="1.15" fill="#a8403c"/>
<circle cx="985.0" cy="60.5" r="1.15" fill="#a8403c"/>
<circle cx="985.8" cy="67.4" r="1.15" fill="#a8403c"/>
<circle cx="986.6" cy="66.8" r="1.15" fill="#a8403c"/>
<circle cx="987.3" cy="55.6" r="1.15" fill="#a8403c"/>
<circle cx="988.1" cy="49.4" r="1.15" fill="#a8403c"/>
<circle cx="988.9" cy="69.4" r="1.15" fill="#a8403c"/>
<circle cx="989.6" cy="55.9" r="1.15" fill="#a8403c"/>
<circle cx="990.4" cy="56.1" r="1.15" fill="#a8403c"/>
<circle cx="991.2" cy="67.0" r="1.15" fill="#a8403c"/>
<circle cx="991.9" cy="72.3" r="1.15" fill="#a8403c"/>
<circle cx="992.7" cy="67.5" r="1.15" fill="#a8403c"/>
<circle cx="993.5" cy="52.8" r="1.15" fill="#a8403c"/>
<circle cx="994.2" cy="51.4" r="1.15" fill="#a8403c"/>
<circle cx="995.0" cy="50.0" r="1.15" fill="#a8403c"/>
<circle cx="995.8" cy="65.3" r="1.15" fill="#a8403c"/>
<circle cx="996.5" cy="70.0" r="1.15" fill="#a8403c"/>
<circle cx="997.3" cy="57.9" r="1.15" fill="#a8403c"/>
<circle cx="998.1" cy="54.9" r="1.15" fill="#a8403c"/>
<circle cx="998.8" cy="59.4" r="1.15" fill="#a8403c"/>
<circle cx="999.6" cy="64.6" r="1.15" fill="#a8403c"/>
<circle cx="1000.4" cy="60.2" r="1.15" fill="#a8403c"/>
<circle cx="1001.1" cy="49.2" r="1.15" fill="#a8403c"/>
<circle cx="1001.9" cy="50.6" r="1.15" fill="#a8403c"/>
<circle cx="1002.7" cy="49.4" r="1.15" fill="#a8403c"/>
<circle cx="1003.4" cy="68.6" r="1.15" fill="#a8403c"/>
<circle cx="1004.2" cy="55.3" r="1.15" fill="#a8403c"/>
<circle cx="1005.0" cy="52.5" r="1.15" fill="#a8403c"/>
<circle cx="1005.7" cy="55.3" r="1.15" fill="#a8403c"/>
<circle cx="1006.5" cy="74.4" r="1.15" fill="#a8403c"/>
<circle cx="1007.3" cy="73.5" r="1.15" fill="#a8403c"/>
<circle cx="1008.0" cy="55.1" r="1.15" fill="#a8403c"/>
<circle cx="1008.8" cy="55.3" r="1.15" fill="#a8403c"/>
<circle cx="1009.6" cy="51.1" r="1.15" fill="#a8403c"/>
<circle cx="1010.3" cy="56.0" r="1.15" fill="#a8403c"/>
<circle cx="1011.0" cy="48.0" r="1.15" fill="#a8403c"/>
<circle cx="1011.1" cy="48.6" r="1.15" fill="#a8403c"/>
<circle cx="1011.9" cy="54.0" r="1.15" fill="#a8403c"/>
<circle cx="1012.6" cy="55.6" r="1.15" fill="#a8403c"/>
<circle cx="1013.4" cy="51.0" r="1.15" fill="#a8403c"/>
<circle cx="1014.1" cy="54.5" r="1.15" fill="#a8403c"/>
<circle cx="1014.9" cy="52.1" r="1.15" fill="#a8403c"/>
<circle cx="1015.7" cy="55.4" r="1.15" fill="#a8403c"/>
<circle cx="1016.4" cy="60.9" r="1.15" fill="#a8403c"/>
<circle cx="1017.2" cy="64.3" r="1.15" fill="#a8403c"/>
<circle cx="1018.0" cy="85.4" r="1.15" fill="#a8403c"/>
<circle cx="1018.7" cy="92.1" r="1.15" fill="#a8403c"/>
<circle cx="1019.5" cy="87.5" r="1.15" fill="#a8403c"/>
<circle cx="1020.3" cy="79.6" r="1.15" fill="#a8403c"/>
<circle cx="1021.0" cy="92.9" r="1.15" fill="#a8403c"/>
<circle cx="1021.8" cy="76.6" r="1.15" fill="#a8403c"/>
<circle cx="1022.6" cy="76.6" r="1.15" fill="#a8403c"/>
<circle cx="1023.0" cy="100.0" r="1.15" fill="#a8403c"/>
<circle cx="1023.3" cy="91.6" r="1.15" fill="#a8403c"/>
<circle cx="1024.1" cy="94.2" r="1.15" fill="#a8403c"/>
<circle cx="1024.9" cy="92.9" r="1.15" fill="#a8403c"/>
<circle cx="1025.6" cy="79.1" r="1.15" fill="#a8403c"/>
<circle cx="1026.4" cy="77.8" r="1.15" fill="#a8403c"/>
<circle cx="1027.2" cy="79.2" r="1.15" fill="#a8403c"/>
<circle cx="1027.9" cy="96.8" r="1.15" fill="#a8403c"/>
<circle cx="1028.7" cy="97.8" r="1.15" fill="#a8403c"/>
<circle cx="1029.5" cy="99.6" r="1.15" fill="#a8403c"/>
<circle cx="1030.2" cy="94.2" r="1.15" fill="#a8403c"/>
<circle cx="1031.0" cy="76.1" r="1.15" fill="#a8403c"/>
<circle cx="1031.8" cy="78.9" r="1.15" fill="#a8403c"/>
<circle cx="1032.5" cy="89.4" r="1.15" fill="#a8403c"/>
<circle cx="1033.3" cy="86.7" r="1.15" fill="#a8403c"/>
<circle cx="1034.1" cy="78.4" r="1.15" fill="#a8403c"/>
<circle cx="1034.8" cy="74.7" r="1.15" fill="#a8403c"/>
<circle cx="1035.6" cy="75.5" r="1.15" fill="#a8403c"/>
<circle cx="1036.0" cy="40.0" r="1.15" fill="#a8403c"/>
<circle cx="1036.4" cy="73.5" r="1.15" fill="#a8403c"/>
<circle cx="1037.1" cy="69.4" r="1.15" fill="#a8403c"/>
<circle cx="1037.9" cy="60.6" r="1.15" fill="#a8403c"/>
<circle cx="1038.7" cy="60.5" r="1.15" fill="#a8403c"/>
<circle cx="1039.4" cy="53.6" r="1.15" fill="#a8403c"/>
<circle cx="1040.2" cy="59.5" r="1.15" fill="#a8403c"/>
<circle cx="1041.0" cy="68.8" r="1.15" fill="#a8403c"/>
<circle cx="1041.7" cy="50.1" r="1.15" fill="#a8403c"/>
<circle cx="1042.5" cy="50.5" r="1.15" fill="#a8403c"/>
<circle cx="1043.3" cy="67.1" r="1.15" fill="#a8403c"/>
<circle cx="1044.0" cy="64.9" r="1.15" fill="#a8403c"/>
<circle cx="1044.8" cy="66.0" r="1.15" fill="#a8403c"/>
<circle cx="1045.6" cy="66.7" r="1.15" fill="#a8403c"/>
<circle cx="1046.3" cy="56.5" r="1.15" fill="#a8403c"/>
<circle cx="1047.1" cy="60.0" r="1.15" fill="#a8403c"/>
<circle cx="1047.9" cy="77.2" r="1.15" fill="#a8403c"/>
<circle cx="1048.6" cy="57.0" r="1.15" fill="#a8403c"/>
<circle cx="1049.4" cy="56.8" r="1.15" fill="#a8403c"/>
<circle cx="1050.1" cy="56.3" r="1.15" fill="#a8403c"/>
<circle cx="1050.9" cy="59.0" r="1.15" fill="#a8403c"/>
<circle cx="1051.7" cy="57.1" r="1.15" fill="#a8403c"/>
<circle cx="1052.4" cy="60.4" r="1.15" fill="#a8403c"/>
<circle cx="1053.2" cy="60.4" r="1.15" fill="#a8403c"/>
<circle cx="1054.0" cy="76.6" r="1.15" fill="#a8403c"/>
<circle cx="1054.7" cy="81.3" r="1.15" fill="#a8403c"/>
<circle cx="1055.5" cy="65.3" r="1.15" fill="#a8403c"/>
<circle cx="1056.3" cy="78.0" r="1.15" fill="#a8403c"/>
<circle cx="1057.0" cy="80.4" r="1.15" fill="#a8403c"/>
<circle cx="1057.8" cy="67.5" r="1.15" fill="#a8403c"/>
<circle cx="1058.6" cy="80.5" r="1.15" fill="#a8403c"/>
<circle cx="1059.3" cy="76.6" r="1.15" fill="#a8403c"/>
<circle cx="1060.1" cy="63.8" r="1.15" fill="#a8403c"/>
<circle cx="1060.9" cy="68.7" r="1.15" fill="#a8403c"/>
<circle cx="1061.6" cy="83.1" r="1.15" fill="#a8403c"/>
<circle cx="1062.4" cy="69.1" r="1.15" fill="#a8403c"/>
<circle cx="1063.2" cy="77.7" r="1.15" fill="#a8403c"/>
<circle cx="1063.9" cy="76.7" r="1.15" fill="#a8403c"/>
<circle cx="1064.0" cy="40.0" r="1.15" fill="#a8403c"/>
<circle cx="1064.7" cy="71.5" r="1.15" fill="#a8403c"/>
<circle cx="1065.5" cy="68.5" r="1.15" fill="#a8403c"/>
<circle cx="1066.2" cy="66.6" r="1.15" fill="#a8403c"/>
<circle cx="1067.0" cy="80.0" r="1.15" fill="#a8403c"/>
<circle cx="1067.8" cy="76.5" r="1.15" fill="#a8403c"/>
<circle cx="1068.5" cy="51.8" r="1.15" fill="#a8403c"/>
<circle cx="1069.3" cy="57.2" r="1.15" fill="#a8403c"/>
<circle cx="1070.1" cy="54.2" r="1.15" fill="#a8403c"/>
<circle cx="1070.8" cy="73.1" r="1.15" fill="#a8403c"/>
<circle cx="1071.6" cy="70.3" r="1.15" fill="#a8403c"/>
<circle cx="1072.4" cy="66.9" r="1.15" fill="#a8403c"/>
<circle cx="1073.1" cy="59.3" r="1.15" fill="#a8403c"/>
<circle cx="1073.9" cy="62.8" r="1.15" fill="#a8403c"/>
<circle cx="1074.7" cy="66.0" r="1.15" fill="#a8403c"/>
<circle cx="1075.4" cy="68.7" r="1.15" fill="#a8403c"/>
<circle cx="1076.2" cy="59.7" r="1.15" fill="#a8403c"/>
<circle cx="1077.0" cy="57.6" r="1.15" fill="#a8403c"/>
<circle cx="1077.7" cy="55.2" r="1.15" fill="#a8403c"/>
<circle cx="1078.5" cy="53.5" r="1.15" fill="#a8403c"/>
<circle cx="1079.3" cy="67.0" r="1.15" fill="#a8403c"/>
<circle cx="1080.0" cy="69.7" r="1.15" fill="#a8403c"/>
<circle cx="1080.0" cy="59.2" r="1.15" fill="#a8403c"/>
<circle cx="1080.5" cy="69.0" r="1.15" fill="#a8403c"/>
<circle cx="1080.8" cy="51.6" r="1.15" fill="#a8403c"/>
<circle cx="1081.0" cy="70.0" r="1.15" fill="#a8403c"/>
<circle cx="1081.5" cy="51.8" r="1.15" fill="#a8403c"/>
<circle cx="1081.6" cy="67.1" r="1.15" fill="#a8403c"/>
<circle cx="1082.0" cy="50.2" r="1.15" fill="#a8403c"/>
<circle cx="1082.3" cy="45.0" r="1.15" fill="#a8403c"/>
<circle cx="1082.5" cy="64.9" r="1.15" fill="#a8403c"/>
<circle cx="1083.0" cy="65.7" r="1.15" fill="#a8403c"/>
<circle cx="1083.1" cy="46.3" r="1.15" fill="#a8403c"/>
<circle cx="1083.5" cy="63.2" r="1.15" fill="#a8403c"/>
<circle cx="1083.9" cy="46.2" r="1.15" fill="#a8403c"/>
<circle cx="1084.0" cy="41.8" r="1.15" fill="#a8403c"/>
<circle cx="1084.5" cy="35.4" r="1.15" fill="#a8403c"/>
<circle cx="1084.6" cy="43.0" r="1.15" fill="#a8403c"/>
<circle cx="1085.0" cy="63.5" r="1.15" fill="#a8403c"/>
<circle cx="1085.4" cy="47.8" r="1.15" fill="#a8403c"/>
<circle cx="1085.6" cy="68.4" r="1.15" fill="#a8403c"/>
<circle cx="1086.1" cy="66.6" r="1.15" fill="#a8403c"/>
<circle cx="1086.1" cy="44.0" r="1.15" fill="#a8403c"/>
<circle cx="1086.6" cy="68.7" r="1.15" fill="#a8403c"/>
<circle cx="1086.9" cy="70.4" r="1.15" fill="#a8403c"/>
<circle cx="1087.1" cy="41.1" r="1.15" fill="#a8403c"/>
<circle cx="1087.6" cy="43.4" r="1.15" fill="#a8403c"/>
<circle cx="1087.7" cy="46.1" r="1.15" fill="#a8403c"/>
<circle cx="1088.1" cy="60.6" r="1.15" fill="#a8403c"/>
<circle cx="1088.4" cy="47.7" r="1.15" fill="#a8403c"/>
<circle cx="1088.6" cy="41.0" r="1.15" fill="#a8403c"/>
<circle cx="1089.1" cy="65.8" r="1.15" fill="#a8403c"/>
<circle cx="1089.2" cy="40.3" r="1.15" fill="#a8403c"/>
<circle cx="1089.6" cy="61.5" r="1.15" fill="#a8403c"/>
<circle cx="1090.0" cy="40.8" r="1.15" fill="#a8403c"/>
<circle cx="1090.1" cy="59.7" r="1.15" fill="#a8403c"/>
<circle cx="1090.6" cy="64.6" r="1.15" fill="#a8403c"/>
<circle cx="1090.7" cy="46.8" r="1.15" fill="#a8403c"/>
<circle cx="1091.1" cy="39.1" r="1.15" fill="#a8403c"/>
<circle cx="1091.5" cy="60.7" r="1.15" fill="#a8403c"/>
<circle cx="1091.6" cy="52.4" r="1.15" fill="#a8403c"/>
<circle cx="1092.1" cy="63.0" r="1.15" fill="#a8403c"/>
<circle cx="1092.3" cy="49.4" r="1.15" fill="#a8403c"/>
<circle cx="1092.6" cy="41.4" r="1.15" fill="#a8403c"/>
<circle cx="1093.0" cy="49.6" r="1.15" fill="#a8403c"/>
<circle cx="1093.1" cy="40.3" r="1.15" fill="#a8403c"/>
<circle cx="1093.6" cy="39.8" r="1.15" fill="#a8403c"/>
<circle cx="1093.8" cy="51.7" r="1.15" fill="#a8403c"/>
<circle cx="1094.1" cy="46.4" r="1.15" fill="#a8403c"/>
<circle cx="1094.6" cy="52.0" r="1.15" fill="#a8403c"/>
<circle cx="1094.6" cy="39.0" r="1.15" fill="#a8403c"/>
<circle cx="1095.0" cy="35.0" r="1.15" fill="#a8403c"/>
<circle cx="1095.1" cy="48.5" r="1.15" fill="#a8403c"/>
<circle cx="1095.3" cy="49.5" r="1.15" fill="#a8403c"/>
<circle cx="1095.6" cy="67.7" r="1.15" fill="#a8403c"/>
<circle cx="1096.1" cy="50.5" r="1.15" fill="#a8403c"/>
<circle cx="1096.1" cy="47.2" r="1.15" fill="#a8403c"/>
<circle cx="1096.7" cy="53.3" r="1.15" fill="#a8403c"/>
<circle cx="1096.9" cy="52.6" r="1.15" fill="#a8403c"/>
<circle cx="1097.0" cy="40.0" r="1.15" fill="#a8403c"/>
<circle cx="1097.2" cy="44.4" r="1.15" fill="#a8403c"/>
<circle cx="1097.6" cy="53.5" r="1.15" fill="#a8403c"/>
<circle cx="1097.7" cy="70.2" r="1.15" fill="#a8403c"/>
<circle cx="1098.2" cy="39.7" r="1.15" fill="#a8403c"/>
<circle cx="1098.4" cy="63.4" r="1.15" fill="#a8403c"/>
<circle cx="1098.7" cy="40.3" r="1.15" fill="#a8403c"/>
<circle cx="1099.2" cy="57.8" r="1.15" fill="#a8403c"/>
<circle cx="1099.2" cy="61.9" r="1.15" fill="#a8403c"/>
<circle cx="1099.7" cy="47.0" r="1.15" fill="#a8403c"/>
<circle cx="1099.9" cy="68.7" r="1.15" fill="#a8403c"/>
<circle cx="1100.2" cy="47.8" r="1.15" fill="#a8403c"/>
<circle cx="1100.7" cy="77.8" r="1.15" fill="#a8403c"/>
<circle cx="1100.7" cy="79.7" r="1.15" fill="#a8403c"/>
<circle cx="1101.2" cy="88.9" r="1.15" fill="#a8403c"/>
<circle cx="1101.3" cy="125.0" r="1.15" fill="#a8403c"/>
<circle cx="1101.5" cy="85.9" r="1.15" fill="#a8403c"/>
<circle cx="1101.5" cy="140.0" r="1.15" fill="#a8403c"/>
<circle cx="1101.7" cy="82.9" r="1.15" fill="#a8403c"/>
<circle cx="1101.8" cy="155.0" r="1.15" fill="#a8403c"/>
<circle cx="1102.2" cy="60.6" r="1.15" fill="#a8403c"/>
<circle cx="1102.2" cy="94.7" r="1.15" fill="#a8403c"/>
<circle cx="1102.7" cy="90.5" r="1.15" fill="#a8403c"/>
<circle cx="1103.0" cy="95.4" r="1.15" fill="#a8403c"/>
<circle cx="1103.2" cy="94.7" r="1.15" fill="#a8403c"/>
<circle cx="1103.7" cy="96.8" r="1.15" fill="#a8403c"/>
<circle cx="1103.8" cy="96.3" r="1.15" fill="#a8403c"/>
<circle cx="1104.0" cy="128.0" r="1.15" fill="#a8403c"/>
<circle cx="1104.2" cy="61.9" r="1.15" fill="#a8403c"/>
<circle cx="1104.5" cy="81.5" r="1.15" fill="#a8403c"/>
<circle cx="1104.7" cy="72.5" r="1.15" fill="#a8403c"/>
<circle cx="1105.2" cy="94.9" r="1.15" fill="#a8403c"/>
<circle cx="1105.3" cy="75.3" r="1.15" fill="#a8403c"/>
<circle cx="1105.7" cy="98.8" r="1.15" fill="#a8403c"/>
<circle cx="1106.1" cy="77.3" r="1.15" fill="#a8403c"/>
<circle cx="1106.2" cy="107.3" r="1.15" fill="#a8403c"/>
<circle cx="1106.7" cy="99.1" r="1.15" fill="#a8403c"/>
<circle cx="1106.8" cy="85.2" r="1.15" fill="#a8403c"/>
<circle cx="1107.2" cy="74.0" r="1.15" fill="#a8403c"/>
<circle cx="1107.6" cy="108.9" r="1.15" fill="#a8403c"/>
<circle cx="1107.8" cy="103.7" r="1.15" fill="#a8403c"/>
<circle cx="1108.0" cy="125.0" r="1.15" fill="#a8403c"/>
<circle cx="1108.3" cy="96.3" r="1.15" fill="#a8403c"/>
<circle cx="1108.4" cy="104.7" r="1.15" fill="#a8403c"/>
<circle cx="1108.8" cy="62.7" r="1.15" fill="#a8403c"/>
<circle cx="1109.1" cy="98.3" r="1.15" fill="#a8403c"/>
<circle cx="1109.3" cy="111.1" r="1.15" fill="#a8403c"/>
<circle cx="1109.8" cy="104.7" r="1.15" fill="#a8403c"/>
<circle cx="1109.9" cy="92.9" r="1.15" fill="#a8403c"/>
<circle cx="1110.3" cy="111.0" r="1.15" fill="#a8403c"/>
<circle cx="1110.7" cy="81.5" r="1.15" fill="#a8403c"/>
<circle cx="1110.8" cy="75.5" r="1.15" fill="#a8403c"/>
<circle cx="1111.3" cy="71.9" r="1.15" fill="#a8403c"/>
<circle cx="1111.4" cy="93.6" r="1.15" fill="#a8403c"/>
<circle cx="1111.8" cy="81.2" r="1.15" fill="#a8403c"/>
<circle cx="1112.2" cy="74.3" r="1.15" fill="#a8403c"/>
<circle cx="1112.3" cy="95.4" r="1.15" fill="#a8403c"/>
<circle cx="1112.8" cy="93.1" r="1.15" fill="#a8403c"/>
<circle cx="1113.0" cy="74.4" r="1.15" fill="#a8403c"/>
<circle cx="1113.3" cy="61.6" r="1.15" fill="#a8403c"/>
<circle cx="1113.7" cy="63.8" r="1.15" fill="#a8403c"/>
<circle cx="1113.8" cy="88.8" r="1.15" fill="#a8403c"/>
<circle cx="1114.3" cy="93.5" r="1.15" fill="#a8403c"/>
<circle cx="1114.5" cy="60.0" r="1.15" fill="#a8403c"/>
<circle cx="1114.8" cy="54.6" r="1.15" fill="#a8403c"/>
<circle cx="1115.3" cy="59.1" r="1.15" fill="#a8403c"/>
<circle cx="1115.3" cy="68.1" r="1.15" fill="#a8403c"/>
<circle cx="1115.8" cy="63.9" r="1.15" fill="#a8403c"/>
<circle cx="1116.0" cy="72.5" r="1.15" fill="#a8403c"/>
<circle cx="1116.3" cy="69.5" r="1.15" fill="#a8403c"/>
<circle cx="1116.8" cy="77.2" r="1.15" fill="#a8403c"/>
<circle cx="1116.8" cy="68.5" r="1.15" fill="#a8403c"/>
<circle cx="1117.3" cy="64.4" r="1.15" fill="#a8403c"/>
<circle cx="1117.6" cy="75.8" r="1.15" fill="#a8403c"/>
<circle cx="1117.8" cy="45.9" r="1.15" fill="#a8403c"/>
<circle cx="1118.3" cy="59.4" r="1.15" fill="#a8403c"/>
<circle cx="1118.3" cy="53.4" r="1.15" fill="#a8403c"/>
<circle cx="1118.9" cy="51.9" r="1.15" fill="#a8403c"/>
<circle cx="1119.1" cy="65.2" r="1.15" fill="#a8403c"/>
<circle cx="1119.4" cy="66.9" r="1.15" fill="#a8403c"/>
<circle cx="1119.9" cy="57.5" r="1.15" fill="#a8403c"/>
<circle cx="1119.9" cy="49.9" r="1.15" fill="#a8403c"/>
<circle cx="1120.4" cy="45.1" r="1.15" fill="#a8403c"/>
<circle cx="1120.6" cy="65.7" r="1.15" fill="#a8403c"/>
<circle cx="1120.9" cy="46.7" r="1.15" fill="#a8403c"/>
<circle cx="1121.4" cy="51.9" r="1.15" fill="#a8403c"/>
<circle cx="1121.4" cy="63.5" r="1.15" fill="#a8403c"/>
<circle cx="1121.9" cy="49.8" r="1.15" fill="#a8403c"/>
<circle cx="1122.1" cy="58.8" r="1.15" fill="#a8403c"/>
<circle cx="1122.4" cy="54.5" r="1.15" fill="#a8403c"/>
<circle cx="1122.9" cy="53.6" r="1.15" fill="#a8403c"/>
<circle cx="1122.9" cy="67.3" r="1.15" fill="#a8403c"/>
<circle cx="1123.4" cy="66.6" r="1.15" fill="#a8403c"/>
<circle cx="1123.7" cy="67.4" r="1.15" fill="#a8403c"/>
<circle cx="1123.9" cy="69.6" r="1.15" fill="#a8403c"/>
<circle cx="1124.4" cy="68.1" r="1.15" fill="#a8403c"/>
<circle cx="1124.4" cy="80.7" r="1.15" fill="#a8403c"/>
<circle cx="1124.9" cy="68.8" r="1.15" fill="#a8403c"/>
<circle cx="1125.2" cy="78.4" r="1.15" fill="#a8403c"/>
<circle cx="1125.4" cy="60.4" r="1.15" fill="#a8403c"/>
<circle cx="1125.9" cy="75.7" r="1.15" fill="#a8403c"/>
<circle cx="1126.0" cy="78.7" r="1.15" fill="#a8403c"/>
<circle cx="1126.4" cy="71.3" r="1.15" fill="#a8403c"/>
<circle cx="1126.7" cy="85.0" r="1.15" fill="#a8403c"/>
<circle cx="1126.9" cy="77.4" r="1.15" fill="#a8403c"/>
<circle cx="1127.4" cy="74.0" r="1.15" fill="#a8403c"/>
<circle cx="1127.5" cy="64.3" r="1.15" fill="#a8403c"/>
<circle cx="1127.9" cy="54.0" r="1.15" fill="#a8403c"/>
<circle cx="1128.3" cy="69.6" r="1.15" fill="#a8403c"/>
<circle cx="1128.4" cy="82.0" r="1.15" fill="#a8403c"/>
<circle cx="1128.9" cy="57.2" r="1.15" fill="#a8403c"/>
<circle cx="1129.0" cy="91.8" r="1.15" fill="#a8403c"/>
<circle cx="1129.4" cy="80.1" r="1.15" fill="#a8403c"/>
<circle cx="1129.8" cy="88.9" r="1.15" fill="#a8403c"/>
<circle cx="1130.0" cy="83.9" r="1.15" fill="#a8403c"/>
<circle cx="1130.5" cy="64.3" r="1.15" fill="#a8403c"/>
<circle cx="1130.6" cy="89.8" r="1.15" fill="#a8403c"/>
<circle cx="1131.0" cy="82.5" r="1.15" fill="#a8403c"/>
<circle cx="1131.3" cy="89.1" r="1.15" fill="#a8403c"/>
<circle cx="1131.5" cy="72.6" r="1.15" fill="#a8403c"/>
<circle cx="1132.0" cy="69.7" r="1.15" fill="#a8403c"/>
<circle cx="1132.1" cy="87.5" r="1.15" fill="#a8403c"/>
<circle cx="1132.5" cy="74.2" r="1.15" fill="#a8403c"/>
<circle cx="1132.9" cy="66.3" r="1.15" fill="#a8403c"/>
<circle cx="1133.0" cy="91.8" r="1.15" fill="#a8403c"/>
<circle cx="1133.5" cy="63.3" r="1.15" fill="#a8403c"/>
<circle cx="1133.6" cy="88.3" r="1.15" fill="#a8403c"/>
<circle cx="1134.0" cy="88.9" r="1.15" fill="#a8403c"/>
<circle cx="1134.4" cy="90.9" r="1.15" fill="#a8403c"/>
<circle cx="1134.5" cy="70.5" r="1.15" fill="#a8403c"/>
<circle cx="1135.0" cy="71.2" r="1.15" fill="#a8403c"/>
<circle cx="1135.2" cy="77.3" r="1.15" fill="#a8403c"/>
<circle cx="1135.9" cy="88.7" r="1.15" fill="#a8403c"/>
<circle cx="1136.7" cy="80.2" r="1.15" fill="#a8403c"/>
<circle cx="1137.5" cy="96.7" r="1.15" fill="#a8403c"/>
<circle cx="1138.2" cy="95.0" r="1.15" fill="#a8403c"/>
<circle cx="1139.0" cy="96.8" r="1.15" fill="#a8403c"/>
<circle cx="1140.0" cy="75.3" r="1.15" fill="#a8403c"/>
<circle cx="1141.2" cy="76.5" r="1.15" fill="#a8403c"/>
<circle cx="1142.4" cy="94.6" r="1.15" fill="#a8403c"/>
<circle cx="1143.6" cy="103.1" r="1.15" fill="#a8403c"/>
<circle cx="1145.3" cy="111.5" r="1.15" fill="#a8403c"/>
<circle cx="1147.2" cy="112.7" r="1.15" fill="#a8403c"/>
<circle cx="1149.2" cy="105.5" r="1.15" fill="#a8403c"/>
<circle cx="1150.9" cy="89.8" r="1.15" fill="#a8403c"/>
<circle cx="1152.1" cy="79.0" r="1.15" fill="#a8403c"/>
<circle cx="1153.3" cy="75.3" r="1.15" fill="#a8403c"/>
<circle cx="1154.5" cy="104.3" r="1.15" fill="#a8403c"/>
<circle cx="1155.7" cy="113.9" r="1.15" fill="#a8403c"/>
<circle cx="1156.9" cy="101.9" r="1.15" fill="#a8403c"/>
<circle cx="1158.1" cy="101.9" r="1.15" fill="#a8403c"/>
<circle cx="1159.3" cy="92.2" r="1.15" fill="#a8403c"/>
<circle cx="1160.5" cy="80.2" r="1.15" fill="#a8403c"/>
<circle cx="1161.7" cy="100.7" r="1.15" fill="#a8403c"/>
<circle cx="1162.9" cy="82.6" r="1.15" fill="#a8403c"/>
<circle cx="1164.1" cy="94.6" r="1.15" fill="#a8403c"/>
<circle cx="1165.3" cy="87.4" r="1.15" fill="#a8403c"/>
<circle cx="1166.5" cy="75.3" r="1.15" fill="#a8403c"/>
<circle cx="1167.8" cy="94.6" r="1.15" fill="#a8403c"/>
<circle cx="1169.0" cy="88.6" r="1.15" fill="#a8403c"/>
<circle cx="1170.2" cy="76.5" r="1.15" fill="#a8403c"/>
<circle cx="1171.4" cy="76.5" r="1.15" fill="#a8403c"/>
<circle cx="1172.6" cy="92.2" r="1.15" fill="#a8403c"/>
<circle cx="1173.8" cy="80.2" r="1.15" fill="#a8403c"/>
<circle cx="1175.0" cy="82.6" r="1.15" fill="#a8403c"/>
<circle cx="1176.2" cy="87.4" r="1.15" fill="#a8403c"/>
<circle cx="1177.4" cy="107.9" r="1.15" fill="#a8403c"/>
<circle cx="1178.6" cy="106.7" r="1.15" fill="#a8403c"/>
<circle cx="1179.8" cy="116.4" r="1.15" fill="#a8403c"/>
<circle cx="1181.0" cy="121.2" r="1.15" fill="#a8403c"/>
<circle cx="1182.2" cy="122.4" r="1.15" fill="#a8403c"/>
<circle cx="1183.4" cy="118.8" r="1.15" fill="#a8403c"/>
<circle cx="1184.6" cy="111.5" r="1.15" fill="#a8403c"/>
<circle cx="1185.8" cy="117.6" r="1.15" fill="#a8403c"/>
<circle cx="1187.1" cy="144.1" r="1.15" fill="#a8403c"/>
<circle cx="1188.3" cy="24.7" r="1.15" fill="#a8403c"/>
<circle cx="1189.5" cy="34.3" r="1.15" fill="#a8403c"/>
<circle cx="1190.7" cy="30.7" r="1.15" fill="#a8403c"/>
<circle cx="1191.9" cy="33.1" r="1.15" fill="#a8403c"/>
<circle cx="1193.1" cy="30.7" r="1.15" fill="#a8403c"/>
<circle cx="1194.3" cy="31.9" r="1.15" fill="#a8403c"/>
<circle cx="1195.5" cy="29.5" r="1.15" fill="#a8403c"/>
<circle cx="1196.7" cy="33.1" r="1.15" fill="#a8403c"/>
<circle cx="1197.9" cy="31.9" r="1.15" fill="#a8403c"/>
<circle cx="1199.1" cy="34.3" r="1.15" fill="#a8403c"/>
<circle cx="1200.3" cy="30.7" r="1.15" fill="#a8403c"/>
<circle cx="1201.5" cy="29.5" r="1.15" fill="#a8403c"/>
<circle cx="1202.7" cy="31.9" r="1.15" fill="#a8403c"/>
<circle cx="1203.9" cy="37.9" r="1.15" fill="#a8403c"/>
<circle cx="1205.2" cy="46.4" r="1.15" fill="#a8403c"/>
<circle cx="1206.4" cy="45.2" r="1.15" fill="#a8403c"/>
<circle cx="1207.6" cy="42.8" r="1.15" fill="#a8403c"/>
<circle cx="1208.8" cy="40.4" r="1.15" fill="#a8403c"/>
<circle cx="1210.0" cy="41.5" r="1.15" fill="#a8403c"/>
<circle cx="1211.2" cy="40.4" r="1.15" fill="#a8403c"/>
<circle cx="1212.4" cy="42.8" r="1.15" fill="#a8403c"/>
<circle cx="1213.6" cy="44.0" r="1.15" fill="#a8403c"/>
<circle cx="1214.8" cy="45.2" r="1.15" fill="#a8403c"/>
<circle cx="1217.2" cy="29.5" r="1.15" fill="#a8403c"/>
<rect x="904.5" y="156.0" width="4.8" height="4.8" fill="#111"/>
<rect x="927.2" y="156.0" width="4.8" height="4.8" fill="#111"/>
<rect x="930.0" y="156.0" width="4.8" height="4.8" fill="#111"/>
<rect x="1004.0" y="156.0" width="4.8" height="4.8" fill="#111"/>
<rect x="1071.1" y="156.0" width="4.8" height="4.8" fill="#111"/>
<rect x="1088.4" y="156.0" width="4.8" height="4.8" fill="#111"/>
<rect x="1091.2" y="156.0" width="4.8" height="4.8" fill="#111"/>
<rect x="1094.0" y="156.0" width="4.8" height="4.8" fill="#111"/>
<rect x="1106.2" y="156.0" width="4.8" height="4.8" fill="#111"/>
<rect x="1175.8" y="156.0" width="4.8" height="4.8" fill="#111"/>
<rect x="1182.4" y="156.0" width="4.8" height="4.8" fill="#111"/>
<polyline points="887.0,237.7 887.4,230.0 887.9,227.1 888.3,229.6 888.8,231.7 889.2,229.7 889.7,231.0 890.1,237.8 890.6,232.6 891.0,233.6 891.5,232.6 891.9,231.0 892.4,242.3 892.8,233.5 893.0,208.6 893.3,239.7 893.5,220.0 893.7,237.3 894.2,240.3 894.6,239.4 895.1,238.1 895.5,239.5 896.0,237.1 896.4,242.8 896.9,242.2 897.3,238.1 897.8,242.2 898.2,234.2 898.7,234.0 899.1,236.3 899.6,248.2 900.0,239.0 900.5,244.0 900.9,243.1 901.4,243.2 901.8,238.2 902.3,233.5 902.7,245.3 903.2,239.9 903.6,237.7 904.1,239.8 904.5,240.0 905.0,239.7 905.4,239.9 905.9,238.4 906.3,239.9 906.7,239.8 907.2,241.9 907.6,243.9 908.1,242.5 908.5,249.9 909.0,251.5 909.4,247.3 909.9,249.8 910.3,252.2 910.8,241.9 911.2,246.1 911.7,247.7 912.0,248.6 912.1,249.3 912.6,248.6 913.0,246.0 913.5,240.9 913.9,235.8 914.4,237.6 914.8,234.9 915.3,224.2 915.7,226.5 916.2,214.5 916.6,211.5 917.1,213.4 917.5,205.4 918.0,212.7 918.4,212.2 918.9,194.0 919.3,205.5 919.8,197.2 920.2,194.4 920.7,195.1 921.1,182.1 921.6,178.9 922.0,174.5 922.5,172.8 922.9,184.9 923.4,182.7 923.8,185.4 924.3,180.5 924.7,170.8 924.7,183.6 925.0,172.0 925.2,182.5 925.6,182.8 926.1,190.3 926.5,193.1 926.9,210.3 927.4,206.5 927.8,213.7 928.3,212.2 928.7,223.2 929.2,222.5 929.6,234.6 930.1,232.9 930.5,231.9 931.0,234.3 931.4,225.5 931.9,230.8 932.3,231.3 932.8,236.6 933.2,236.1 933.7,227.6 934.0,244.3 934.1,240.2 934.6,236.8 935.0,228.5 935.5,228.1 935.9,230.7 936.4,231.9 936.8,236.9 937.3,230.7 937.7,225.1 938.2,225.2 938.6,226.9 939.1,227.6 939.5,226.9 940.0,230.7 940.4,226.3 940.9,222.9 941.3,221.4 941.8,222.7 942.2,238.3 942.7,227.6 943.1,230.2 943.5,169.7 943.6,220.7 944.0,175.0 944.0,244.0 944.0,218.7 944.3,185.0 944.5,221.7 944.6,200.0 944.9,236.0 945.0,215.0 945.4,232.0 945.8,218.8 946.2,227.5 946.7,229.8 947.1,217.9 947.6,230.2 948.0,217.8 948.5,217.0 948.9,216.5 949.4,218.9 949.8,218.7 950.3,217.4 950.7,218.2 951.2,218.4 951.6,219.0 952.1,218.8 952.5,217.1 953.0,217.1 953.4,218.7 953.9,218.7 954.3,217.3 954.8,224.6 955.2,219.8 955.7,218.0 956.1,221.7 956.6,220.7 957.0,220.0 957.5,218.5 957.9,218.3 958.4,222.2 958.8,218.2 959.3,217.7 959.7,224.5 960.2,224.9 960.6,225.1 961.1,224.5 961.5,217.8 962.0,223.6 962.4,218.8 962.9,222.8 963.3,220.0 963.8,220.6 964.2,223.1 964.7,221.5 965.1,221.9 965.5,220.0 966.0,219.8 966.4,218.8 966.9,220.3 967.3,220.6 967.8,219.0 968.2,223.2 968.7,218.8 969.1,224.1 969.6,220.0 970.0,223.7 970.5,221.2 970.9,221.9 971.4,221.8 971.8,221.3 972.3,224.9 972.7,224.3 973.2,224.9 973.6,223.0 974.1,225.5 974.5,222.6 975.0,222.1 975.4,221.9 975.9,225.5 976.3,224.1 976.8,223.3 977.2,226.1 977.7,226.2 978.1,222.6 978.6,227.5 979.0,221.3 979.5,228.8 979.9,221.2 980.4,218.9 980.8,221.1 981.3,219.9 981.7,222.7 982.2,221.1 982.6,228.7 983.1,230.7 983.5,223.6 984.0,225.3 984.4,226.9 984.8,225.0 985.3,232.5 985.7,232.8 986.2,234.2 986.6,227.7 987.1,227.0 987.5,228.9 988.0,230.2 988.0,208.6 988.4,236.2 988.5,241.0 988.9,228.9 989.3,227.1 989.8,227.1 990.2,229.7 990.7,224.2 991.1,222.8 991.6,231.0 992.0,227.6 992.5,221.5 992.9,225.5 993.4,223.6 993.8,228.6 994.3,229.9 994.7,227.2 995.2,229.2 995.6,224.9 996.1,224.9 996.5,224.9 997.0,230.3 997.4,223.1 997.9,221.2 998.3,222.6 998.8,222.3 999.2,221.3 999.7,220.5 1000.1,222.8 1000.6,221.0 1001.0,226.6 1001.5,226.1 1001.9,226.1 1002.4,224.0 1002.8,227.3 1003.3,225.2 1003.7,225.4 1004.2,225.5 1004.6,226.0 1005.0,227.3 1005.5,225.8 1005.9,222.4 1006.4,221.0 1006.8,226.8 1007.3,221.7 1007.7,222.2 1008.2,220.5 1008.6,221.4 1009.1,227.7 1009.5,227.0 1010.0,228.4 1010.4,229.5 1010.9,220.0 1011.3,220.3 1011.8,222.2 1012.2,221.9 1012.7,226.8 1013.1,229.1 1013.6,228.7 1014.0,229.4 1014.5,221.1 1014.9,225.8 1015.4,221.3 1015.8,218.5 1016.3,221.3 1016.3,186.0 1016.5,200.0 1016.7,215.0 1016.7,221.2 1017.2,220.3 1017.6,218.9 1018.1,218.9 1018.5,224.2 1019.0,220.9 1019.4,224.4 1019.9,223.1 1020.3,224.7 1020.8,220.3 1021.2,227.2 1021.7,226.3 1022.1,224.7 1022.6,226.1 1023.0,220.8 1023.5,225.4 1023.9,227.1 1024.3,224.3 1024.8,220.6 1025.2,218.3 1025.7,218.0 1026.1,217.2 1026.6,217.0 1027.0,221.3 1027.5,214.9 1027.9,214.0 1028.4,212.6 1028.8,218.7 1029.3,218.3 1029.7,216.5 1030.2,217.4 1030.6,209.7 1031.1,211.4 1031.5,210.0 1032.0,217.7 1032.4,217.9 1032.9,216.0 1033.3,218.5 1033.8,219.2 1034.2,214.3 1034.7,214.9 1035.1,212.9 1035.6,213.5 1036.0,216.3 1036.5,214.5 1036.9,216.2 1037.4,223.3 1037.8,224.1 1038.3,226.1 1038.7,225.4 1039.2,226.3 1039.6,221.4 1040.1,230.0 1040.5,223.8 1041.0,228.7 1041.4,223.4 1041.9,224.6 1042.3,224.7 1042.8,228.6 1043.2,229.6 1043.6,226.6 1044.1,223.9 1044.5,226.1 1045.0,233.4 1045.4,232.8 1045.9,232.6 1046.3,233.2 1046.8,225.7 1047.2,226.5 1047.7,231.9 1048.1,231.6 1048.6,231.9 1049.0,229.9 1049.5,228.2 1049.9,234.1 1050.4,229.7 1050.8,230.7 1051.3,235.7 1051.7,233.5 1052.2,233.6 1052.6,234.2 1053.1,234.3 1053.5,231.0 1054.0,235.5 1054.4,231.8 1054.9,234.0 1055.3,232.5 1055.8,233.4 1056.2,235.5 1056.7,233.7 1057.1,234.7 1057.6,234.8 1058.0,233.6 1058.5,235.6 1058.9,233.0 1059.4,234.2 1059.8,228.7 1060.3,231.8 1060.7,231.8 1061.2,233.4 1061.6,233.5 1062.1,224.9 1062.5,226.5 1062.9,225.9 1063.4,222.1 1063.8,231.2 1064.3,228.6 1064.7,228.0 1065.2,230.8 1065.6,218.5 1066.1,232.3 1066.5,221.8 1067.0,228.7 1067.4,231.9 1067.9,229.8 1068.3,222.1 1068.8,227.8 1069.2,228.0 1069.7,227.6 1070.1,228.5 1070.6,212.8 1071.0,222.4 1071.5,224.1 1071.9,221.1 1072.4,214.3 1072.8,215.8 1073.0,200.0 1073.3,223.7 1073.7,222.6 1074.2,209.1 1074.6,221.2 1075.1,225.9 1075.5,220.0 1076.0,206.6 1076.4,208.9 1076.9,208.4 1077.3,208.8 1077.8,204.3 1078.2,219.7 1078.7,217.2 1079.0,203.0 1079.1,218.9 1079.6,215.4 1080.0,208.8 1080.5,209.1 1080.9,221.5 1081.4,218.4 1081.8,199.9 1082.3,202.0 1082.7,212.2 1083.1,193.6 1083.6,195.2 1084.0,189.6 1084.5,185.8 1084.9,196.8 1085.4,188.4 1085.8,191.5 1086.3,190.5 1086.7,175.5 1087.2,186.0 1087.6,186.2 1088.1,185.0 1088.5,188.6 1089.0,186.0 1089.0,164.5 1089.4,185.7 1089.9,183.6 1090.3,173.0 1090.8,182.1 1091.2,179.9 1091.7,183.9 1092.0,166.0 1092.1,184.5 1092.6,171.1 1093.0,185.8 1093.5,180.2 1093.9,184.0 1094.4,170.3 1094.8,175.2 1095.3,180.2 1095.7,180.1 1096.2,179.7 1096.6,183.7 1097.1,182.0 1097.5,179.6 1098.0,180.0 1098.0,167.0 1098.4,169.6 1098.9,169.2 1099.3,173.2 1099.8,181.8 1100.2,181.4 1100.7,165.8 1101.1,182.2 1101.6,171.5 1102.0,168.8 1102.4,166.9 1102.4,200.0 1102.5,240.0 1102.6,270.6 1103.0,284.6 1103.5,279.0 1104.0,278.5 1104.5,266.5 1105.0,276.1 1105.0,282.0 1105.5,278.4 1106.0,278.9 1106.5,267.9 1107.0,268.7 1107.5,282.8 1108.0,272.3 1108.5,268.6 1109.0,270.8 1109.5,281.2 1110.0,276.6 1110.0,289.0 1110.5,273.2 1111.0,267.6 1111.5,271.6 1112.0,277.7 1112.5,267.1 1113.0,277.0 1113.0,290.0 1113.5,275.0 1113.9,276.0 1114.4,275.5 1114.9,274.6 1115.4,257.2 1115.9,257.5 1116.4,266.0 1116.9,267.0 1117.4,268.6 1117.9,266.8 1118.4,258.8 1118.9,267.2 1119.4,262.3 1119.9,255.7 1120.4,268.0 1120.9,267.1 1121.4,267.3 1121.9,265.6 1122.4,266.0 1122.9,262.5 1123.4,265.4 1123.9,263.2 1124.4,253.1 1124.9,252.3 1125.4,251.6 1125.9,251.0 1126.4,258.8 1126.9,257.7 1127.4,248.6 1127.9,262.0 1128.4,245.7 1128.9,256.6 1129.4,254.9 1129.9,252.7 1130.4,251.5 1130.9,251.1 1131.4,244.2 1131.9,245.0 1132.4,246.3 1132.9,254.8 1133.4,254.3 1133.9,252.1 1134.4,248.5 1134.9,246.0 1135.4,257.1 1135.8,254.8 1136.3,257.5 1136.8,255.2 1137.3,257.7 1137.8,254.3 1138.3,255.4 1138.8,248.0 1139.3,251.4 1139.8,259.0 1140.3,254.4 1140.8,258.9 1141.3,258.3 1141.8,262.8 1142.3,259.5 1142.8,264.7 1143.3,264.8 1143.8,265.4 1144.3,264.2 1144.8,260.4 1145.3,259.6 1145.8,268.9 1146.3,265.9 1146.8,269.1 1147.3,261.6 1147.8,263.2 1148.3,268.1 1148.8,260.5 1149.3,261.0 1149.8,270.2 1150.3,267.7 1150.8,261.8 1151.3,266.8 1151.8,266.2 1152.3,266.8 1152.8,259.2 1153.3,269.2 1153.8,269.7 1154.3,269.5 1154.8,262.4 1155.3,268.2 1155.8,262.5 1156.3,264.6 1156.8,262.6 1157.3,264.7 1157.7,266.7 1158.2,267.0 1158.7,266.2 1159.2,266.3 1159.7,266.7 1160.2,261.9 1160.7,262.7 1161.2,267.7 1161.7,258.8 1162.2,267.4 1162.7,262.2 1163.2,262.1 1163.7,263.0 1164.2,264.3 1164.7,260.9 1165.2,263.2 1165.7,263.6 1166.2,261.4 1166.7,262.8 1167.2,263.1 1167.7,262.8 1168.2,265.7 1168.7,264.7 1169.2,264.7 1169.7,261.0 1170.2,265.8 1170.7,258.7 1171.2,259.4 1171.7,267.3 1172.2,264.7 1172.7,266.6 1173.2,265.2 1173.7,260.1 1174.2,262.8 1174.7,260.1 1175.2,268.5 1175.7,261.1 1176.2,262.2 1176.7,266.7 1177.2,266.4 1177.7,266.3 1178.2,260.9 1178.7,265.7 1179.2,267.1 1179.6,267.6 1180.1,265.4 1180.6,262.3 1181.1,267.7 1181.6,263.7 1182.1,262.8 1182.6,269.8 1183.1,269.9 1183.6,268.5 1184.1,263.5 1184.6,264.5 1185.1,265.2 1185.6,263.5 1186.1,267.1 1186.6,263.5 1187.1,268.7 1187.6,270.5 1188.1,263.6 1188.6,265.7 1189.1,262.9 1189.5,228.4 1189.6,262.2 1189.7,240.0 1190.0,285.0 1190.1,263.0 1190.6,260.6 1191.1,258.8 1191.6,257.2 1192.1,257.8 1192.6,260.4 1193.1,260.1 1193.6,258.8 1194.1,258.1 1194.6,253.9 1195.1,252.4 1195.6,260.8 1196.1,262.6 1196.6,261.6 1197.1,262.5 1197.6,256.5 1198.1,254.8 1198.6,255.5 1199.1,260.6 1199.6,258.7 1200.1,258.5 1200.6,255.6 1201.1,254.8 1201.5,256.3 1202.0,260.4 1202.5,261.7 1203.0,261.5 1203.5,261.4 1204.0,256.9 1204.5,262.7 1205.0,254.8 1205.5,254.8 1206.0,256.1 1206.5,255.3 1207.0,255.4 1207.5,262.1 1208.0,262.0 1208.5,260.3 1209.0,260.6 1209.5,256.3 1210.0,259.7 1210.5,258.4 1211.0,260.3 1211.5,257.6 1212.0,258.1 1213.0,250.0 1215.0,234.4 1216.5,210.0 1217.5,185.0 1218.5,170.5 1219.4,169.3 1219.6,172.0" fill="none" stroke="#4f8ad4" stroke-width="1.3" stroke-linejoin="round" />
<circle cx="887.0" cy="237.7" r="1.15" fill="#5ea3e6"/>
<circle cx="887.4" cy="230.0" r="1.15" fill="#5ea3e6"/>
<circle cx="887.9" cy="227.1" r="1.15" fill="#5ea3e6"/>
<circle cx="888.3" cy="229.6" r="1.15" fill="#5ea3e6"/>
<circle cx="888.8" cy="231.7" r="1.15" fill="#5ea3e6"/>
<circle cx="889.2" cy="229.7" r="1.15" fill="#5ea3e6"/>
<circle cx="889.7" cy="231.0" r="1.15" fill="#5ea3e6"/>
<circle cx="890.1" cy="237.8" r="1.15" fill="#5ea3e6"/>
<circle cx="890.6" cy="232.6" r="1.15" fill="#5ea3e6"/>
<circle cx="891.0" cy="233.6" r="1.15" fill="#5ea3e6"/>
<circle cx="891.5" cy="232.6" r="1.15" fill="#5ea3e6"/>
<circle cx="891.9" cy="231.0" r="1.15" fill="#5ea3e6"/>
<circle cx="892.4" cy="242.3" r="1.15" fill="#5ea3e6"/>
<circle cx="892.8" cy="233.5" r="1.15" fill="#5ea3e6"/>
<circle cx="893.0" cy="208.6" r="1.15" fill="#5ea3e6"/>
<circle cx="893.3" cy="239.7" r="1.15" fill="#5ea3e6"/>
<circle cx="893.5" cy="220.0" r="1.15" fill="#5ea3e6"/>
<circle cx="893.7" cy="237.3" r="1.15" fill="#5ea3e6"/>
<circle cx="894.2" cy="240.3" r="1.15" fill="#5ea3e6"/>
<circle cx="894.6" cy="239.4" r="1.15" fill="#5ea3e6"/>
<circle cx="895.1" cy="238.1" r="1.15" fill="#5ea3e6"/>
<circle cx="895.5" cy="239.5" r="1.15" fill="#5ea3e6"/>
<circle cx="896.0" cy="237.1" r="1.15" fill="#5ea3e6"/>
<circle cx="896.4" cy="242.8" r="1.15" fill="#5ea3e6"/>
<circle cx="896.9" cy="242.2" r="1.15" fill="#5ea3e6"/>
<circle cx="897.3" cy="238.1" r="1.15" fill="#5ea3e6"/>
<circle cx="897.8" cy="242.2" r="1.15" fill="#5ea3e6"/>
<circle cx="898.2" cy="234.2" r="1.15" fill="#5ea3e6"/>
<circle cx="898.7" cy="234.0" r="1.15" fill="#5ea3e6"/>
<circle cx="899.1" cy="236.3" r="1.15" fill="#5ea3e6"/>
<circle cx="899.6" cy="248.2" r="1.15" fill="#5ea3e6"/>
<circle cx="900.0" cy="239.0" r="1.15" fill="#5ea3e6"/>
<circle cx="900.5" cy="244.0" r="1.15" fill="#5ea3e6"/>
<circle cx="900.9" cy="243.1" r="1.15" fill="#5ea3e6"/>
<circle cx="901.4" cy="243.2" r="1.15" fill="#5ea3e6"/>
<circle cx="901.8" cy="238.2" r="1.15" fill="#5ea3e6"/>
<circle cx="902.3" cy="233.5" r="1.15" fill="#5ea3e6"/>
<circle cx="902.7" cy="245.3" r="1.15" fill="#5ea3e6"/>
<circle cx="903.2" cy="239.9" r="1.15" fill="#5ea3e6"/>
<circle cx="903.6" cy="237.7" r="1.15" fill="#5ea3e6"/>
<circle cx="904.1" cy="239.8" r="1.15" fill="#5ea3e6"/>
<circle cx="904.5" cy="240.0" r="1.15" fill="#5ea3e6"/>
<circle cx="905.0" cy="239.7" r="1.15" fill="#5ea3e6"/>
<circle cx="905.4" cy="239.9" r="1.15" fill="#5ea3e6"/>
<circle cx="905.9" cy="238.4" r="1.15" fill="#5ea3e6"/>
<circle cx="906.3" cy="239.9" r="1.15" fill="#5ea3e6"/>
<circle cx="906.7" cy="239.8" r="1.15" fill="#5ea3e6"/>
<circle cx="907.2" cy="241.9" r="1.15" fill="#5ea3e6"/>
<circle cx="907.6" cy="243.9" r="1.15" fill="#5ea3e6"/>
<circle cx="908.1" cy="242.5" r="1.15" fill="#5ea3e6"/>
<circle cx="908.5" cy="249.9" r="1.15" fill="#5ea3e6"/>
<circle cx="909.0" cy="251.5" r="1.15" fill="#5ea3e6"/>
<circle cx="909.4" cy="247.3" r="1.15" fill="#5ea3e6"/>
<circle cx="909.9" cy="249.8" r="1.15" fill="#5ea3e6"/>
<circle cx="910.3" cy="252.2" r="1.15" fill="#5ea3e6"/>
<circle cx="910.8" cy="241.9" r="1.15" fill="#5ea3e6"/>
<circle cx="911.2" cy="246.1" r="1.15" fill="#5ea3e6"/>
<circle cx="911.7" cy="247.7" r="1.15" fill="#5ea3e6"/>
<circle cx="912.0" cy="248.6" r="1.15" fill="#5ea3e6"/>
<circle cx="912.1" cy="249.3" r="1.15" fill="#5ea3e6"/>
<circle cx="912.6" cy="248.6" r="1.15" fill="#5ea3e6"/>
<circle cx="913.0" cy="246.0" r="1.15" fill="#5ea3e6"/>
<circle cx="913.5" cy="240.9" r="1.15" fill="#5ea3e6"/>
<circle cx="913.9" cy="235.8" r="1.15" fill="#5ea3e6"/>
<circle cx="914.4" cy="237.6" r="1.15" fill="#5ea3e6"/>
<circle cx="914.8" cy="234.9" r="1.15" fill="#5ea3e6"/>
<circle cx="915.3" cy="224.2" r="1.15" fill="#5ea3e6"/>
<circle cx="915.7" cy="226.5" r="1.15" fill="#5ea3e6"/>
<circle cx="916.2" cy="214.5" r="1.15" fill="#5ea3e6"/>
<circle cx="916.6" cy="211.5" r="1.15" fill="#5ea3e6"/>
<circle cx="917.1" cy="213.4" r="1.15" fill="#5ea3e6"/>
<circle cx="917.5" cy="205.4" r="1.15" fill="#5ea3e6"/>
<circle cx="918.0" cy="212.7" r="1.15" fill="#5ea3e6"/>
<circle cx="918.4" cy="212.2" r="1.15" fill="#5ea3e6"/>
<circle cx="918.9" cy="194.0" r="1.15" fill="#5ea3e6"/>
<circle cx="919.3" cy="205.5" r="1.15" fill="#5ea3e6"/>
<circle cx="919.8" cy="197.2" r="1.15" fill="#5ea3e6"/>
<circle cx="920.2" cy="194.4" r="1.15" fill="#5ea3e6"/>
<circle cx="920.7" cy="195.1" r="1.15" fill="#5ea3e6"/>
<circle cx="921.1" cy="182.1" r="1.15" fill="#5ea3e6"/>
<circle cx="921.6" cy="178.9" r="1.15" fill="#5ea3e6"/>
<circle cx="922.0" cy="174.5" r="1.15" fill="#5ea3e6"/>
<circle cx="922.5" cy="172.8" r="1.15" fill="#5ea3e6"/>
<circle cx="922.9" cy="184.9" r="1.15" fill="#5ea3e6"/>
<circle cx="923.4" cy="182.7" r="1.15" fill="#5ea3e6"/>
<circle cx="923.8" cy="185.4" r="1.15" fill="#5ea3e6"/>
<circle cx="924.3" cy="180.5" r="1.15" fill="#5ea3e6"/>
<circle cx="924.7" cy="170.8" r="1.15" fill="#5ea3e6"/>
<circle cx="924.7" cy="183.6" r="1.15" fill="#5ea3e6"/>
<circle cx="925.0" cy="172.0" r="1.15" fill="#5ea3e6"/>
<circle cx="925.2" cy="182.5" r="1.15" fill="#5ea3e6"/>
<circle cx="925.6" cy="182.8" r="1.15" fill="#5ea3e6"/>
<circle cx="926.1" cy="190.3" r="1.15" fill="#5ea3e6"/>
<circle cx="926.5" cy="193.1" r="1.15" fill="#5ea3e6"/>
<circle cx="926.9" cy="210.3" r="1.15" fill="#5ea3e6"/>
<circle cx="927.4" cy="206.5" r="1.15" fill="#5ea3e6"/>
<circle cx="927.8" cy="213.7" r="1.15" fill="#5ea3e6"/>
<circle cx="928.3" cy="212.2" r="1.15" fill="#5ea3e6"/>
<circle cx="928.7" cy="223.2" r="1.15" fill="#5ea3e6"/>
<circle cx="929.2" cy="222.5" r="1.15" fill="#5ea3e6"/>
<circle cx="929.6" cy="234.6" r="1.15" fill="#5ea3e6"/>
<circle cx="930.1" cy="232.9" r="1.15" fill="#5ea3e6"/>
<circle cx="930.5" cy="231.9" r="1.15" fill="#5ea3e6"/>
<circle cx="931.0" cy="234.3" r="1.15" fill="#5ea3e6"/>
<circle cx="931.4" cy="225.5" r="1.15" fill="#5ea3e6"/>
<circle cx="931.9" cy="230.8" r="1.15" fill="#5ea3e6"/>
<circle cx="932.3" cy="231.3" r="1.15" fill="#5ea3e6"/>
<circle cx="932.8" cy="236.6" r="1.15" fill="#5ea3e6"/>
<circle cx="933.2" cy="236.1" r="1.15" fill="#5ea3e6"/>
<circle cx="933.7" cy="227.6" r="1.15" fill="#5ea3e6"/>
<circle cx="934.0" cy="244.3" r="1.15" fill="#5ea3e6"/>
<circle cx="934.1" cy="240.2" r="1.15" fill="#5ea3e6"/>
<circle cx="934.6" cy="236.8" r="1.15" fill="#5ea3e6"/>
<circle cx="935.0" cy="228.5" r="1.15" fill="#5ea3e6"/>
<circle cx="935.5" cy="228.1" r="1.15" fill="#5ea3e6"/>
<circle cx="935.9" cy="230.7" r="1.15" fill="#5ea3e6"/>
<circle cx="936.4" cy="231.9" r="1.15" fill="#5ea3e6"/>
<circle cx="936.8" cy="236.9" r="1.15" fill="#5ea3e6"/>
<circle cx="937.3" cy="230.7" r="1.15" fill="#5ea3e6"/>
<circle cx="937.7" cy="225.1" r="1.15" fill="#5ea3e6"/>
<circle cx="938.2" cy="225.2" r="1.15" fill="#5ea3e6"/>
<circle cx="938.6" cy="226.9" r="1.15" fill="#5ea3e6"/>
<circle cx="939.1" cy="227.6" r="1.15" fill="#5ea3e6"/>
<circle cx="939.5" cy="226.9" r="1.15" fill="#5ea3e6"/>
<circle cx="940.0" cy="230.7" r="1.15" fill="#5ea3e6"/>
<circle cx="940.4" cy="226.3" r="1.15" fill="#5ea3e6"/>
<circle cx="940.9" cy="222.9" r="1.15" fill="#5ea3e6"/>
<circle cx="941.3" cy="221.4" r="1.15" fill="#5ea3e6"/>
<circle cx="941.8" cy="222.7" r="1.15" fill="#5ea3e6"/>
<circle cx="942.2" cy="238.3" r="1.15" fill="#5ea3e6"/>
<circle cx="942.7" cy="227.6" r="1.15" fill="#5ea3e6"/>
<circle cx="943.1" cy="230.2" r="1.15" fill="#5ea3e6"/>
<circle cx="943.5" cy="169.7" r="1.15" fill="#5ea3e6"/>
<circle cx="943.6" cy="220.7" r="1.15" fill="#5ea3e6"/>
<circle cx="944.0" cy="175.0" r="1.15" fill="#5ea3e6"/>
<circle cx="944.0" cy="244.0" r="1.15" fill="#5ea3e6"/>
<circle cx="944.0" cy="218.7" r="1.15" fill="#5ea3e6"/>
<circle cx="944.3" cy="185.0" r="1.15" fill="#5ea3e6"/>
<circle cx="944.5" cy="221.7" r="1.15" fill="#5ea3e6"/>
<circle cx="944.6" cy="200.0" r="1.15" fill="#5ea3e6"/>
<circle cx="944.9" cy="236.0" r="1.15" fill="#5ea3e6"/>
<circle cx="945.0" cy="215.0" r="1.15" fill="#5ea3e6"/>
<circle cx="945.4" cy="232.0" r="1.15" fill="#5ea3e6"/>
<circle cx="945.8" cy="218.8" r="1.15" fill="#5ea3e6"/>
<circle cx="946.2" cy="227.5" r="1.15" fill="#5ea3e6"/>
<circle cx="946.7" cy="229.8" r="1.15" fill="#5ea3e6"/>
<circle cx="947.1" cy="217.9" r="1.15" fill="#5ea3e6"/>
<circle cx="947.6" cy="230.2" r="1.15" fill="#5ea3e6"/>
<circle cx="948.0" cy="217.8" r="1.15" fill="#5ea3e6"/>
<circle cx="948.5" cy="217.0" r="1.15" fill="#5ea3e6"/>
<circle cx="948.9" cy="216.5" r="1.15" fill="#5ea3e6"/>
<circle cx="949.4" cy="218.9" r="1.15" fill="#5ea3e6"/>
<circle cx="949.8" cy="218.7" r="1.15" fill="#5ea3e6"/>
<circle cx="950.3" cy="217.4" r="1.15" fill="#5ea3e6"/>
<circle cx="950.7" cy="218.2" r="1.15" fill="#5ea3e6"/>
<circle cx="951.2" cy="218.4" r="1.15" fill="#5ea3e6"/>
<circle cx="951.6" cy="219.0" r="1.15" fill="#5ea3e6"/>
<circle cx="952.1" cy="218.8" r="1.15" fill="#5ea3e6"/>
<circle cx="952.5" cy="217.1" r="1.15" fill="#5ea3e6"/>
<circle cx="953.0" cy="217.1" r="1.15" fill="#5ea3e6"/>
<circle cx="953.4" cy="218.7" r="1.15" fill="#5ea3e6"/>
<circle cx="953.9" cy="218.7" r="1.15" fill="#5ea3e6"/>
<circle cx="954.3" cy="217.3" r="1.15" fill="#5ea3e6"/>
<circle cx="954.8" cy="224.6" r="1.15" fill="#5ea3e6"/>
<circle cx="955.2" cy="219.8" r="1.15" fill="#5ea3e6"/>
<circle cx="955.7" cy="218.0" r="1.15" fill="#5ea3e6"/>
<circle cx="956.1" cy="221.7" r="1.15" fill="#5ea3e6"/>
<circle cx="956.6" cy="220.7" r="1.15" fill="#5ea3e6"/>
<circle cx="957.0" cy="220.0" r="1.15" fill="#5ea3e6"/>
<circle cx="957.5" cy="218.5" r="1.15" fill="#5ea3e6"/>
<circle cx="957.9" cy="218.3" r="1.15" fill="#5ea3e6"/>
<circle cx="958.4" cy="222.2" r="1.15" fill="#5ea3e6"/>
<circle cx="958.8" cy="218.2" r="1.15" fill="#5ea3e6"/>
<circle cx="959.3" cy="217.7" r="1.15" fill="#5ea3e6"/>
<circle cx="959.7" cy="224.5" r="1.15" fill="#5ea3e6"/>
<circle cx="960.2" cy="224.9" r="1.15" fill="#5ea3e6"/>
<circle cx="960.6" cy="225.1" r="1.15" fill="#5ea3e6"/>
<circle cx="961.1" cy="224.5" r="1.15" fill="#5ea3e6"/>
<circle cx="961.5" cy="217.8" r="1.15" fill="#5ea3e6"/>
<circle cx="962.0" cy="223.6" r="1.15" fill="#5ea3e6"/>
<circle cx="962.4" cy="218.8" r="1.15" fill="#5ea3e6"/>
<circle cx="962.9" cy="222.8" r="1.15" fill="#5ea3e6"/>
<circle cx="963.3" cy="220.0" r="1.15" fill="#5ea3e6"/>
<circle cx="963.8" cy="220.6" r="1.15" fill="#5ea3e6"/>
<circle cx="964.2" cy="223.1" r="1.15" fill="#5ea3e6"/>
<circle cx="964.7" cy="221.5" r="1.15" fill="#5ea3e6"/>
<circle cx="965.1" cy="221.9" r="1.15" fill="#5ea3e6"/>
<circle cx="965.5" cy="220.0" r="1.15" fill="#5ea3e6"/>
<circle cx="966.0" cy="219.8" r="1.15" fill="#5ea3e6"/>
<circle cx="966.4" cy="218.8" r="1.15" fill="#5ea3e6"/>
<circle cx="966.9" cy="220.3" r="1.15" fill="#5ea3e6"/>
<circle cx="967.3" cy="220.6" r="1.15" fill="#5ea3e6"/>
<circle cx="967.8" cy="219.0" r="1.15" fill="#5ea3e6"/>
<circle cx="968.2" cy="223.2" r="1.15" fill="#5ea3e6"/>
<circle cx="968.7" cy="218.8" r="1.15" fill="#5ea3e6"/>
<circle cx="969.1" cy="224.1" r="1.15" fill="#5ea3e6"/>
<circle cx="969.6" cy="220.0" r="1.15" fill="#5ea3e6"/>
<circle cx="970.0" cy="223.7" r="1.15" fill="#5ea3e6"/>
<circle cx="970.5" cy="221.2" r="1.15" fill="#5ea3e6"/>
<circle cx="970.9" cy="221.9" r="1.15" fill="#5ea3e6"/>
<circle cx="971.4" cy="221.8" r="1.15" fill="#5ea3e6"/>
<circle cx="971.8" cy="221.3" r="1.15" fill="#5ea3e6"/>
<circle cx="972.3" cy="224.9" r="1.15" fill="#5ea3e6"/>
<circle cx="972.7" cy="224.3" r="1.15" fill="#5ea3e6"/>
<circle cx="973.2" cy="224.9" r="1.15" fill="#5ea3e6"/>
<circle cx="973.6" cy="223.0" r="1.15" fill="#5ea3e6"/>
<circle cx="974.1" cy="225.5" r="1.15" fill="#5ea3e6"/>
<circle cx="974.5" cy="222.6" r="1.15" fill="#5ea3e6"/>
<circle cx="975.0" cy="222.1" r="1.15" fill="#5ea3e6"/>
<circle cx="975.4" cy="221.9" r="1.15" fill="#5ea3e6"/>
<circle cx="975.9" cy="225.5" r="1.15" fill="#5ea3e6"/>
<circle cx="976.3" cy="224.1" r="1.15" fill="#5ea3e6"/>
<circle cx="976.8" cy="223.3" r="1.15" fill="#5ea3e6"/>
<circle cx="977.2" cy="226.1" r="1.15" fill="#5ea3e6"/>
<circle cx="977.7" cy="226.2" r="1.15" fill="#5ea3e6"/>
<circle cx="978.1" cy="222.6" r="1.15" fill="#5ea3e6"/>
<circle cx="978.6" cy="227.5" r="1.15" fill="#5ea3e6"/>
<circle cx="979.0" cy="221.3" r="1.15" fill="#5ea3e6"/>
<circle cx="979.5" cy="228.8" r="1.15" fill="#5ea3e6"/>
<circle cx="979.9" cy="221.2" r="1.15" fill="#5ea3e6"/>
<circle cx="980.4" cy="218.9" r="1.15" fill="#5ea3e6"/>
<circle cx="980.8" cy="221.1" r="1.15" fill="#5ea3e6"/>
<circle cx="981.3" cy="219.9" r="1.15" fill="#5ea3e6"/>
<circle cx="981.7" cy="222.7" r="1.15" fill="#5ea3e6"/>
<circle cx="982.2" cy="221.1" r="1.15" fill="#5ea3e6"/>
<circle cx="982.6" cy="228.7" r="1.15" fill="#5ea3e6"/>
<circle cx="983.1" cy="230.7" r="1.15" fill="#5ea3e6"/>
<circle cx="983.5" cy="223.6" r="1.15" fill="#5ea3e6"/>
<circle cx="984.0" cy="225.3" r="1.15" fill="#5ea3e6"/>
<circle cx="984.4" cy="226.9" r="1.15" fill="#5ea3e6"/>
<circle cx="984.8" cy="225.0" r="1.15" fill="#5ea3e6"/>
<circle cx="985.3" cy="232.5" r="1.15" fill="#5ea3e6"/>
<circle cx="985.7" cy="232.8" r="1.15" fill="#5ea3e6"/>
<circle cx="986.2" cy="234.2" r="1.15" fill="#5ea3e6"/>
<circle cx="986.6" cy="227.7" r="1.15" fill="#5ea3e6"/>
<circle cx="987.1" cy="227.0" r="1.15" fill="#5ea3e6"/>
<circle cx="987.5" cy="228.9" r="1.15" fill="#5ea3e6"/>
<circle cx="988.0" cy="230.2" r="1.15" fill="#5ea3e6"/>
<circle cx="988.0" cy="208.6" r="1.15" fill="#5ea3e6"/>
<circle cx="988.4" cy="236.2" r="1.15" fill="#5ea3e6"/>
<circle cx="988.5" cy="241.0" r="1.15" fill="#5ea3e6"/>
<circle cx="988.9" cy="228.9" r="1.15" fill="#5ea3e6"/>
<circle cx="989.3" cy="227.1" r="1.15" fill="#5ea3e6"/>
<circle cx="989.8" cy="227.1" r="1.15" fill="#5ea3e6"/>
<circle cx="990.2" cy="229.7" r="1.15" fill="#5ea3e6"/>
<circle cx="990.7" cy="224.2" r="1.15" fill="#5ea3e6"/>
<circle cx="991.1" cy="222.8" r="1.15" fill="#5ea3e6"/>
<circle cx="991.6" cy="231.0" r="1.15" fill="#5ea3e6"/>
<circle cx="992.0" cy="227.6" r="1.15" fill="#5ea3e6"/>
<circle cx="992.5" cy="221.5" r="1.15" fill="#5ea3e6"/>
<circle cx="992.9" cy="225.5" r="1.15" fill="#5ea3e6"/>
<circle cx="993.4" cy="223.6" r="1.15" fill="#5ea3e6"/>
<circle cx="993.8" cy="228.6" r="1.15" fill="#5ea3e6"/>
<circle cx="994.3" cy="229.9" r="1.15" fill="#5ea3e6"/>
<circle cx="994.7" cy="227.2" r="1.15" fill="#5ea3e6"/>
<circle cx="995.2" cy="229.2" r="1.15" fill="#5ea3e6"/>
<circle cx="995.6" cy="224.9" r="1.15" fill="#5ea3e6"/>
<circle cx="996.1" cy="224.9" r="1.15" fill="#5ea3e6"/>
<circle cx="996.5" cy="224.9" r="1.15" fill="#5ea3e6"/>
<circle cx="997.0" cy="230.3" r="1.15" fill="#5ea3e6"/>
<circle cx="997.4" cy="223.1" r="1.15" fill="#5ea3e6"/>
<circle cx="997.9" cy="221.2" r="1.15" fill="#5ea3e6"/>
<circle cx="998.3" cy="222.6" r="1.15" fill="#5ea3e6"/>
<circle cx="998.8" cy="222.3" r="1.15" fill="#5ea3e6"/>
<circle cx="999.2" cy="221.3" r="1.15" fill="#5ea3e6"/>
<circle cx="999.7" cy="220.5" r="1.15" fill="#5ea3e6"/>
<circle cx="1000.1" cy="222.8" r="1.15" fill="#5ea3e6"/>
<circle cx="1000.6" cy="221.0" r="1.15" fill="#5ea3e6"/>
<circle cx="1001.0" cy="226.6" r="1.15" fill="#5ea3e6"/>
<circle cx="1001.5" cy="226.1" r="1.15" fill="#5ea3e6"/>
<circle cx="1001.9" cy="226.1" r="1.15" fill="#5ea3e6"/>
<circle cx="1002.4" cy="224.0" r="1.15" fill="#5ea3e6"/>
<circle cx="1002.8" cy="227.3" r="1.15" fill="#5ea3e6"/>
<circle cx="1003.3" cy="225.2" r="1.15" fill="#5ea3e6"/>
<circle cx="1003.7" cy="225.4" r="1.15" fill="#5ea3e6"/>
<circle cx="1004.2" cy="225.5" r="1.15" fill="#5ea3e6"/>
<circle cx="1004.6" cy="226.0" r="1.15" fill="#5ea3e6"/>
<circle cx="1005.0" cy="227.3" r="1.15" fill="#5ea3e6"/>
<circle cx="1005.5" cy="225.8" r="1.15" fill="#5ea3e6"/>
<circle cx="1005.9" cy="222.4" r="1.15" fill="#5ea3e6"/>
<circle cx="1006.4" cy="221.0" r="1.15" fill="#5ea3e6"/>
<circle cx="1006.8" cy="226.8" r="1.15" fill="#5ea3e6"/>
<circle cx="1007.3" cy="221.7" r="1.15" fill="#5ea3e6"/>
<circle cx="1007.7" cy="222.2" r="1.15" fill="#5ea3e6"/>
<circle cx="1008.2" cy="220.5" r="1.15" fill="#5ea3e6"/>
<circle cx="1008.6" cy="221.4" r="1.15" fill="#5ea3e6"/>
<circle cx="1009.1" cy="227.7" r="1.15" fill="#5ea3e6"/>
<circle cx="1009.5" cy="227.0" r="1.15" fill="#5ea3e6"/>
<circle cx="1010.0" cy="228.4" r="1.15" fill="#5ea3e6"/>
<circle cx="1010.4" cy="229.5" r="1.15" fill="#5ea3e6"/>
<circle cx="1010.9" cy="220.0" r="1.15" fill="#5ea3e6"/>
<circle cx="1011.3" cy="220.3" r="1.15" fill="#5ea3e6"/>
<circle cx="1011.8" cy="222.2" r="1.15" fill="#5ea3e6"/>
<circle cx="1012.2" cy="221.9" r="1.15" fill="#5ea3e6"/>
<circle cx="1012.7" cy="226.8" r="1.15" fill="#5ea3e6"/>
<circle cx="1013.1" cy="229.1" r="1.15" fill="#5ea3e6"/>
<circle cx="1013.6" cy="228.7" r="1.15" fill="#5ea3e6"/>
<circle cx="1014.0" cy="229.4" r="1.15" fill="#5ea3e6"/>
<circle cx="1014.5" cy="221.1" r="1.15" fill="#5ea3e6"/>
<circle cx="1014.9" cy="225.8" r="1.15" fill="#5ea3e6"/>
<circle cx="1015.4" cy="221.3" r="1.15" fill="#5ea3e6"/>
<circle cx="1015.8" cy="218.5" r="1.15" fill="#5ea3e6"/>
<circle cx="1016.3" cy="221.3" r="1.15" fill="#5ea3e6"/>
<circle cx="1016.3" cy="186.0" r="1.15" fill="#5ea3e6"/>
<circle cx="1016.5" cy="200.0" r="1.15" fill="#5ea3e6"/>
<circle cx="1016.7" cy="215.0" r="1.15" fill="#5ea3e6"/>
<circle cx="1016.7" cy="221.2" r="1.15" fill="#5ea3e6"/>
<circle cx="1017.2" cy="220.3" r="1.15" fill="#5ea3e6"/>
<circle cx="1017.6" cy="218.9" r="1.15" fill="#5ea3e6"/>
<circle cx="1018.1" cy="218.9" r="1.15" fill="#5ea3e6"/>
<circle cx="1018.5" cy="224.2" r="1.15" fill="#5ea3e6"/>
<circle cx="1019.0" cy="220.9" r="1.15" fill="#5ea3e6"/>
<circle cx="1019.4" cy="224.4" r="1.15" fill="#5ea3e6"/>
<circle cx="1019.9" cy="223.1" r="1.15" fill="#5ea3e6"/>
<circle cx="1020.3" cy="224.7" r="1.15" fill="#5ea3e6"/>
<circle cx="1020.8" cy="220.3" r="1.15" fill="#5ea3e6"/>
<circle cx="1021.2" cy="227.2" r="1.15" fill="#5ea3e6"/>
<circle cx="1021.7" cy="226.3" r="1.15" fill="#5ea3e6"/>
<circle cx="1022.1" cy="224.7" r="1.15" fill="#5ea3e6"/>
<circle cx="1022.6" cy="226.1" r="1.15" fill="#5ea3e6"/>
<circle cx="1023.0" cy="220.8" r="1.15" fill="#5ea3e6"/>
<circle cx="1023.5" cy="225.4" r="1.15" fill="#5ea3e6"/>
<circle cx="1023.9" cy="227.1" r="1.15" fill="#5ea3e6"/>
<circle cx="1024.3" cy="224.3" r="1.15" fill="#5ea3e6"/>
<circle cx="1024.8" cy="220.6" r="1.15" fill="#5ea3e6"/>
<circle cx="1025.2" cy="218.3" r="1.15" fill="#5ea3e6"/>
<circle cx="1025.7" cy="218.0" r="1.15" fill="#5ea3e6"/>
<circle cx="1026.1" cy="217.2" r="1.15" fill="#5ea3e6"/>
<circle cx="1026.6" cy="217.0" r="1.15" fill="#5ea3e6"/>
<circle cx="1027.0" cy="221.3" r="1.15" fill="#5ea3e6"/>
<circle cx="1027.5" cy="214.9" r="1.15" fill="#5ea3e6"/>
<circle cx="1027.9" cy="214.0" r="1.15" fill="#5ea3e6"/>
<circle cx="1028.4" cy="212.6" r="1.15" fill="#5ea3e6"/>
<circle cx="1028.8" cy="218.7" r="1.15" fill="#5ea3e6"/>
<circle cx="1029.3" cy="218.3" r="1.15" fill="#5ea3e6"/>
<circle cx="1029.7" cy="216.5" r="1.15" fill="#5ea3e6"/>
<circle cx="1030.2" cy="217.4" r="1.15" fill="#5ea3e6"/>
<circle cx="1030.6" cy="209.7" r="1.15" fill="#5ea3e6"/>
<circle cx="1031.1" cy="211.4" r="1.15" fill="#5ea3e6"/>
<circle cx="1031.5" cy="210.0" r="1.15" fill="#5ea3e6"/>
<circle cx="1032.0" cy="217.7" r="1.15" fill="#5ea3e6"/>
<circle cx="1032.4" cy="217.9" r="1.15" fill="#5ea3e6"/>
<circle cx="1032.9" cy="216.0" r="1.15" fill="#5ea3e6"/>
<circle cx="1033.3" cy="218.5" r="1.15" fill="#5ea3e6"/>
<circle cx="1033.8" cy="219.2" r="1.15" fill="#5ea3e6"/>
<circle cx="1034.2" cy="214.3" r="1.15" fill="#5ea3e6"/>
<circle cx="1034.7" cy="214.9" r="1.15" fill="#5ea3e6"/>
<circle cx="1035.1" cy="212.9" r="1.15" fill="#5ea3e6"/>
<circle cx="1035.6" cy="213.5" r="1.15" fill="#5ea3e6"/>
<circle cx="1036.0" cy="216.3" r="1.15" fill="#5ea3e6"/>
<circle cx="1036.5" cy="214.5" r="1.15" fill="#5ea3e6"/>
<circle cx="1036.9" cy="216.2" r="1.15" fill="#5ea3e6"/>
<circle cx="1037.4" cy="223.3" r="1.15" fill="#5ea3e6"/>
<circle cx="1037.8" cy="224.1" r="1.15" fill="#5ea3e6"/>
<circle cx="1038.3" cy="226.1" r="1.15" fill="#5ea3e6"/>
<circle cx="1038.7" cy="225.4" r="1.15" fill="#5ea3e6"/>
<circle cx="1039.2" cy="226.3" r="1.15" fill="#5ea3e6"/>
<circle cx="1039.6" cy="221.4" r="1.15" fill="#5ea3e6"/>
<circle cx="1040.1" cy="230.0" r="1.15" fill="#5ea3e6"/>
<circle cx="1040.5" cy="223.8" r="1.15" fill="#5ea3e6"/>
<circle cx="1041.0" cy="228.7" r="1.15" fill="#5ea3e6"/>
<circle cx="1041.4" cy="223.4" r="1.15" fill="#5ea3e6"/>
<circle cx="1041.9" cy="224.6" r="1.15" fill="#5ea3e6"/>
<circle cx="1042.3" cy="224.7" r="1.15" fill="#5ea3e6"/>
<circle cx="1042.8" cy="228.6" r="1.15" fill="#5ea3e6"/>
<circle cx="1043.2" cy="229.6" r="1.15" fill="#5ea3e6"/>
<circle cx="1043.6" cy="226.6" r="1.15" fill="#5ea3e6"/>
<circle cx="1044.1" cy="223.9" r="1.15" fill="#5ea3e6"/>
<circle cx="1044.5" cy="226.1" r="1.15" fill="#5ea3e6"/>
<circle cx="1045.0" cy="233.4" r="1.15" fill="#5ea3e6"/>
<circle cx="1045.4" cy="232.8" r="1.15" fill="#5ea3e6"/>
<circle cx="1045.9" cy="232.6" r="1.15" fill="#5ea3e6"/>
<circle cx="1046.3" cy="233.2" r="1.15" fill="#5ea3e6"/>
<circle cx="1046.8" cy="225.7" r="1.15" fill="#5ea3e6"/>
<circle cx="1047.2" cy="226.5" r="1.15" fill="#5ea3e6"/>
<circle cx="1047.7" cy="231.9" r="1.15" fill="#5ea3e6"/>
<circle cx="1048.1" cy="231.6" r="1.15" fill="#5ea3e6"/>
<circle cx="1048.6" cy="231.9" r="1.15" fill="#5ea3e6"/>
<circle cx="1049.0" cy="229.9" r="1.15" fill="#5ea3e6"/>
<circle cx="1049.5" cy="228.2" r="1.15" fill="#5ea3e6"/>
<circle cx="1049.9" cy="234.1" r="1.15" fill="#5ea3e6"/>
<circle cx="1050.4" cy="229.7" r="1.15" fill="#5ea3e6"/>
<circle cx="1050.8" cy="230.7" r="1.15" fill="#5ea3e6"/>
<circle cx="1051.3" cy="235.7" r="1.15" fill="#5ea3e6"/>
<circle cx="1051.7" cy="233.5" r="1.15" fill="#5ea3e6"/>
<circle cx="1052.2" cy="233.6" r="1.15" fill="#5ea3e6"/>
<circle cx="1052.6" cy="234.2" r="1.15" fill="#5ea3e6"/>
<circle cx="1053.1" cy="234.3" r="1.15" fill="#5ea3e6"/>
<circle cx="1053.5" cy="231.0" r="1.15" fill="#5ea3e6"/>
<circle cx="1054.0" cy="235.5" r="1.15" fill="#5ea3e6"/>
<circle cx="1054.4" cy="231.8" r="1.15" fill="#5ea3e6"/>
<circle cx="1054.9" cy="234.0" r="1.15" fill="#5ea3e6"/>
<circle cx="1055.3" cy="232.5" r="1.15" fill="#5ea3e6"/>
<circle cx="1055.8" cy="233.4" r="1.15" fill="#5ea3e6"/>
<circle cx="1056.2" cy="235.5" r="1.15" fill="#5ea3e6"/>
<circle cx="1056.7" cy="233.7" r="1.15" fill="#5ea3e6"/>
<circle cx="1057.1" cy="234.7" r="1.15" fill="#5ea3e6"/>
<circle cx="1057.6" cy="234.8" r="1.15" fill="#5ea3e6"/>
<circle cx="1058.0" cy="233.6" r="1.15" fill="#5ea3e6"/>
<circle cx="1058.5" cy="235.6" r="1.15" fill="#5ea3e6"/>
<circle cx="1058.9" cy="233.0" r="1.15" fill="#5ea3e6"/>
<circle cx="1059.4" cy="234.2" r="1.15" fill="#5ea3e6"/>
<circle cx="1059.8" cy="228.7" r="1.15" fill="#5ea3e6"/>
<circle cx="1060.3" cy="231.8" r="1.15" fill="#5ea3e6"/>
<circle cx="1060.7" cy="231.8" r="1.15" fill="#5ea3e6"/>
<circle cx="1061.2" cy="233.4" r="1.15" fill="#5ea3e6"/>
<circle cx="1061.6" cy="233.5" r="1.15" fill="#5ea3e6"/>
<circle cx="1062.1" cy="224.9" r="1.15" fill="#5ea3e6"/>
<circle cx="1062.5" cy="226.5" r="1.15" fill="#5ea3e6"/>
<circle cx="1062.9" cy="225.9" r="1.15" fill="#5ea3e6"/>
<circle cx="1063.4" cy="222.1" r="1.15" fill="#5ea3e6"/>
<circle cx="1063.8" cy="231.2" r="1.15" fill="#5ea3e6"/>
<circle cx="1064.3" cy="228.6" r="1.15" fill="#5ea3e6"/>
<circle cx="1064.7" cy="228.0" r="1.15" fill="#5ea3e6"/>
<circle cx="1065.2" cy="230.8" r="1.15" fill="#5ea3e6"/>
<circle cx="1065.6" cy="218.5" r="1.15" fill="#5ea3e6"/>
<circle cx="1066.1" cy="232.3" r="1.15" fill="#5ea3e6"/>
<circle cx="1066.5" cy="221.8" r="1.15" fill="#5ea3e6"/>
<circle cx="1067.0" cy="228.7" r="1.15" fill="#5ea3e6"/>
<circle cx="1067.4" cy="231.9" r="1.15" fill="#5ea3e6"/>
<circle cx="1067.9" cy="229.8" r="1.15" fill="#5ea3e6"/>
<circle cx="1068.3" cy="222.1" r="1.15" fill="#5ea3e6"/>
<circle cx="1068.8" cy="227.8" r="1.15" fill="#5ea3e6"/>
<circle cx="1069.2" cy="228.0" r="1.15" fill="#5ea3e6"/>
<circle cx="1069.7" cy="227.6" r="1.15" fill="#5ea3e6"/>
<circle cx="1070.1" cy="228.5" r="1.15" fill="#5ea3e6"/>
<circle cx="1070.6" cy="212.8" r="1.15" fill="#5ea3e6"/>
<circle cx="1071.0" cy="222.4" r="1.15" fill="#5ea3e6"/>
<circle cx="1071.5" cy="224.1" r="1.15" fill="#5ea3e6"/>
<circle cx="1071.9" cy="221.1" r="1.15" fill="#5ea3e6"/>
<circle cx="1072.4" cy="214.3" r="1.15" fill="#5ea3e6"/>
<circle cx="1072.8" cy="215.8" r="1.15" fill="#5ea3e6"/>
<circle cx="1073.0" cy="200.0" r="1.15" fill="#5ea3e6"/>
<circle cx="1073.3" cy="223.7" r="1.15" fill="#5ea3e6"/>
<circle cx="1073.7" cy="222.6" r="1.15" fill="#5ea3e6"/>
<circle cx="1074.2" cy="209.1" r="1.15" fill="#5ea3e6"/>
<circle cx="1074.6" cy="221.2" r="1.15" fill="#5ea3e6"/>
<circle cx="1075.1" cy="225.9" r="1.15" fill="#5ea3e6"/>
<circle cx="1075.5" cy="220.0" r="1.15" fill="#5ea3e6"/>
<circle cx="1076.0" cy="206.6" r="1.15" fill="#5ea3e6"/>
<circle cx="1076.4" cy="208.9" r="1.15" fill="#5ea3e6"/>
<circle cx="1076.9" cy="208.4" r="1.15" fill="#5ea3e6"/>
<circle cx="1077.3" cy="208.8" r="1.15" fill="#5ea3e6"/>
<circle cx="1077.8" cy="204.3" r="1.15" fill="#5ea3e6"/>
<circle cx="1078.2" cy="219.7" r="1.15" fill="#5ea3e6"/>
<circle cx="1078.7" cy="217.2" r="1.15" fill="#5ea3e6"/>
<circle cx="1079.0" cy="203.0" r="1.15" fill="#5ea3e6"/>
<circle cx="1079.1" cy="218.9" r="1.15" fill="#5ea3e6"/>
<circle cx="1079.6" cy="215.4" r="1.15" fill="#5ea3e6"/>
<circle cx="1080.0" cy="208.8" r="1.15" fill="#5ea3e6"/>
<circle cx="1080.5" cy="209.1" r="1.15" fill="#5ea3e6"/>
<circle cx="1080.9" cy="221.5" r="1.15" fill="#5ea3e6"/>
<circle cx="1081.4" cy="218.4" r="1.15" fill="#5ea3e6"/>
<circle cx="1081.8" cy="199.9" r="1.15" fill="#5ea3e6"/>
<circle cx="1082.3" cy="202.0" r="1.15" fill="#5ea3e6"/>
<circle cx="1082.7" cy="212.2" r="1.15" fill="#5ea3e6"/>
<circle cx="1083.1" cy="193.6" r="1.15" fill="#5ea3e6"/>
<circle cx="1083.6" cy="195.2" r="1.15" fill="#5ea3e6"/>
<circle cx="1084.0" cy="189.6" r="1.15" fill="#5ea3e6"/>
<circle cx="1084.5" cy="185.8" r="1.15" fill="#5ea3e6"/>
<circle cx="1084.9" cy="196.8" r="1.15" fill="#5ea3e6"/>
<circle cx="1085.4" cy="188.4" r="1.15" fill="#5ea3e6"/>
<circle cx="1085.8" cy="191.5" r="1.15" fill="#5ea3e6"/>
<circle cx="1086.3" cy="190.5" r="1.15" fill="#5ea3e6"/>
<circle cx="1086.7" cy="175.5" r="1.15" fill="#5ea3e6"/>
<circle cx="1087.2" cy="186.0" r="1.15" fill="#5ea3e6"/>
<circle cx="1087.6" cy="186.2" r="1.15" fill="#5ea3e6"/>
<circle cx="1088.1" cy="185.0" r="1.15" fill="#5ea3e6"/>
<circle cx="1088.5" cy="188.6" r="1.15" fill="#5ea3e6"/>
<circle cx="1089.0" cy="186.0" r="1.15" fill="#5ea3e6"/>
<circle cx="1089.0" cy="164.5" r="1.15" fill="#5ea3e6"/>
<circle cx="1089.4" cy="185.7" r="1.15" fill="#5ea3e6"/>
<circle cx="1089.9" cy="183.6" r="1.15" fill="#5ea3e6"/>
<circle cx="1090.3" cy="173.0" r="1.15" fill="#5ea3e6"/>
<circle cx="1090.8" cy="182.1" r="1.15" fill="#5ea3e6"/>
<circle cx="1091.2" cy="179.9" r="1.15" fill="#5ea3e6"/>
<circle cx="1091.7" cy="183.9" r="1.15" fill="#5ea3e6"/>
<circle cx="1092.0" cy="166.0" r="1.15" fill="#5ea3e6"/>
<circle cx="1092.1" cy="184.5" r="1.15" fill="#5ea3e6"/>
<circle cx="1092.6" cy="171.1" r="1.15" fill="#5ea3e6"/>
<circle cx="1093.0" cy="185.8" r="1.15" fill="#5ea3e6"/>
<circle cx="1093.5" cy="180.2" r="1.15" fill="#5ea3e6"/>
<circle cx="1093.9" cy="184.0" r="1.15" fill="#5ea3e6"/>
<circle cx="1094.4" cy="170.3" r="1.15" fill="#5ea3e6"/>
<circle cx="1094.8" cy="175.2" r="1.15" fill="#5ea3e6"/>
<circle cx="1095.3" cy="180.2" r="1.15" fill="#5ea3e6"/>
<circle cx="1095.7" cy="180.1" r="1.15" fill="#5ea3e6"/>
<circle cx="1096.2" cy="179.7" r="1.15" fill="#5ea3e6"/>
<circle cx="1096.6" cy="183.7" r="1.15" fill="#5ea3e6"/>
<circle cx="1097.1" cy="182.0" r="1.15" fill="#5ea3e6"/>
<circle cx="1097.5" cy="179.6" r="1.15" fill="#5ea3e6"/>
<circle cx="1098.0" cy="180.0" r="1.15" fill="#5ea3e6"/>
<circle cx="1098.0" cy="167.0" r="1.15" fill="#5ea3e6"/>
<circle cx="1098.4" cy="169.6" r="1.15" fill="#5ea3e6"/>
<circle cx="1098.9" cy="169.2" r="1.15" fill="#5ea3e6"/>
<circle cx="1099.3" cy="173.2" r="1.15" fill="#5ea3e6"/>
<circle cx="1099.8" cy="181.8" r="1.15" fill="#5ea3e6"/>
<circle cx="1100.2" cy="181.4" r="1.15" fill="#5ea3e6"/>
<circle cx="1100.7" cy="165.8" r="1.15" fill="#5ea3e6"/>
<circle cx="1101.1" cy="182.2" r="1.15" fill="#5ea3e6"/>
<circle cx="1101.6" cy="171.5" r="1.15" fill="#5ea3e6"/>
<circle cx="1102.0" cy="168.8" r="1.15" fill="#5ea3e6"/>
<circle cx="1102.4" cy="166.9" r="1.15" fill="#5ea3e6"/>
<circle cx="1102.4" cy="200.0" r="1.15" fill="#5ea3e6"/>
<circle cx="1102.5" cy="240.0" r="1.15" fill="#5ea3e6"/>
<circle cx="1102.6" cy="270.6" r="1.15" fill="#5ea3e6"/>
<circle cx="1103.0" cy="284.6" r="1.15" fill="#5ea3e6"/>
<circle cx="1103.5" cy="279.0" r="1.15" fill="#5ea3e6"/>
<circle cx="1104.0" cy="278.5" r="1.15" fill="#5ea3e6"/>
<circle cx="1104.5" cy="266.5" r="1.15" fill="#5ea3e6"/>
<circle cx="1105.0" cy="276.1" r="1.15" fill="#5ea3e6"/>
<circle cx="1105.0" cy="282.0" r="1.15" fill="#5ea3e6"/>
<circle cx="1105.5" cy="278.4" r="1.15" fill="#5ea3e6"/>
<circle cx="1106.0" cy="278.9" r="1.15" fill="#5ea3e6"/>
<circle cx="1106.5" cy="267.9" r="1.15" fill="#5ea3e6"/>
<circle cx="1107.0" cy="268.7" r="1.15" fill="#5ea3e6"/>
<circle cx="1107.5" cy="282.8" r="1.15" fill="#5ea3e6"/>
<circle cx="1108.0" cy="272.3" r="1.15" fill="#5ea3e6"/>
<circle cx="1108.5" cy="268.6" r="1.15" fill="#5ea3e6"/>
<circle cx="1109.0" cy="270.8" r="1.15" fill="#5ea3e6"/>
<circle cx="1109.5" cy="281.2" r="1.15" fill="#5ea3e6"/>
<circle cx="1110.0" cy="276.6" r="1.15" fill="#5ea3e6"/>
<circle cx="1110.0" cy="289.0" r="1.15" fill="#5ea3e6"/>
<circle cx="1110.5" cy="273.2" r="1.15" fill="#5ea3e6"/>
<circle cx="1111.0" cy="267.6" r="1.15" fill="#5ea3e6"/>
<circle cx="1111.5" cy="271.6" r="1.15" fill="#5ea3e6"/>
<circle cx="1112.0" cy="277.7" r="1.15" fill="#5ea3e6"/>
<circle cx="1112.5" cy="267.1" r="1.15" fill="#5ea3e6"/>
<circle cx="1113.0" cy="277.0" r="1.15" fill="#5ea3e6"/>
<circle cx="1113.0" cy="290.0" r="1.15" fill="#5ea3e6"/>
<circle cx="1113.5" cy="275.0" r="1.15" fill="#5ea3e6"/>
<circle cx="1113.9" cy="276.0" r="1.15" fill="#5ea3e6"/>
<circle cx="1114.4" cy="275.5" r="1.15" fill="#5ea3e6"/>
<circle cx="1114.9" cy="274.6" r="1.15" fill="#5ea3e6"/>
<circle cx="1115.4" cy="257.2" r="1.15" fill="#5ea3e6"/>
<circle cx="1115.9" cy="257.5" r="1.15" fill="#5ea3e6"/>
<circle cx="1116.4" cy="266.0" r="1.15" fill="#5ea3e6"/>
<circle cx="1116.9" cy="267.0" r="1.15" fill="#5ea3e6"/>
<circle cx="1117.4" cy="268.6" r="1.15" fill="#5ea3e6"/>
<circle cx="1117.9" cy="266.8" r="1.15" fill="#5ea3e6"/>
<circle cx="1118.4" cy="258.8" r="1.15" fill="#5ea3e6"/>
<circle cx="1118.9" cy="267.2" r="1.15" fill="#5ea3e6"/>
<circle cx="1119.4" cy="262.3" r="1.15" fill="#5ea3e6"/>
<circle cx="1119.9" cy="255.7" r="1.15" fill="#5ea3e6"/>
<circle cx="1120.4" cy="268.0" r="1.15" fill="#5ea3e6"/>
<circle cx="1120.9" cy="267.1" r="1.15" fill="#5ea3e6"/>
<circle cx="1121.4" cy="267.3" r="1.15" fill="#5ea3e6"/>
<circle cx="1121.9" cy="265.6" r="1.15" fill="#5ea3e6"/>
<circle cx="1122.4" cy="266.0" r="1.15" fill="#5ea3e6"/>
<circle cx="1122.9" cy="262.5" r="1.15" fill="#5ea3e6"/>
<circle cx="1123.4" cy="265.4" r="1.15" fill="#5ea3e6"/>
<circle cx="1123.9" cy="263.2" r="1.15" fill="#5ea3e6"/>
<circle cx="1124.4" cy="253.1" r="1.15" fill="#5ea3e6"/>
<circle cx="1124.9" cy="252.3" r="1.15" fill="#5ea3e6"/>
<circle cx="1125.4" cy="251.6" r="1.15" fill="#5ea3e6"/>
<circle cx="1125.9" cy="251.0" r="1.15" fill="#5ea3e6"/>
<circle cx="1126.4" cy="258.8" r="1.15" fill="#5ea3e6"/>
<circle cx="1126.9" cy="257.7" r="1.15" fill="#5ea3e6"/>
<circle cx="1127.4" cy="248.6" r="1.15" fill="#5ea3e6"/>
<circle cx="1127.9" cy="262.0" r="1.15" fill="#5ea3e6"/>
<circle cx="1128.4" cy="245.7" r="1.15" fill="#5ea3e6"/>
<circle cx="1128.9" cy="256.6" r="1.15" fill="#5ea3e6"/>
<circle cx="1129.4" cy="254.9" r="1.15" fill="#5ea3e6"/>
<circle cx="1129.9" cy="252.7" r="1.15" fill="#5ea3e6"/>
<circle cx="1130.4" cy="251.5" r="1.15" fill="#5ea3e6"/>
<circle cx="1130.9" cy="251.1" r="1.15" fill="#5ea3e6"/>
<circle cx="1131.4" cy="244.2" r="1.15" fill="#5ea3e6"/>
<circle cx="1131.9" cy="245.0" r="1.15" fill="#5ea3e6"/>
<circle cx="1132.4" cy="246.3" r="1.15" fill="#5ea3e6"/>
<circle cx="1132.9" cy="254.8" r="1.15" fill="#5ea3e6"/>
<circle cx="1133.4" cy="254.3" r="1.15" fill="#5ea3e6"/>
<circle cx="1133.9" cy="252.1" r="1.15" fill="#5ea3e6"/>
<circle cx="1134.4" cy="248.5" r="1.15" fill="#5ea3e6"/>
<circle cx="1134.9" cy="246.0" r="1.15" fill="#5ea3e6"/>
<circle cx="1135.4" cy="257.1" r="1.15" fill="#5ea3e6"/>
<circle cx="1135.8" cy="254.8" r="1.15" fill="#5ea3e6"/>
<circle cx="1136.3" cy="257.5" r="1.15" fill="#5ea3e6"/>
<circle cx="1136.8" cy="255.2" r="1.15" fill="#5ea3e6"/>
<circle cx="1137.3" cy="257.7" r="1.15" fill="#5ea3e6"/>
<circle cx="1137.8" cy="254.3" r="1.15" fill="#5ea3e6"/>
<circle cx="1138.3" cy="255.4" r="1.15" fill="#5ea3e6"/>
<circle cx="1138.8" cy="248.0" r="1.15" fill="#5ea3e6"/>
<circle cx="1139.3" cy="251.4" r="1.15" fill="#5ea3e6"/>
<circle cx="1139.8" cy="259.0" r="1.15" fill="#5ea3e6"/>
<circle cx="1140.3" cy="254.4" r="1.15" fill="#5ea3e6"/>
<circle cx="1140.8" cy="258.9" r="1.15" fill="#5ea3e6"/>
<circle cx="1141.3" cy="258.3" r="1.15" fill="#5ea3e6"/>
<circle cx="1141.8" cy="262.8" r="1.15" fill="#5ea3e6"/>
<circle cx="1142.3" cy="259.5" r="1.15" fill="#5ea3e6"/>
<circle cx="1142.8" cy="264.7" r="1.15" fill="#5ea3e6"/>
<circle cx="1143.3" cy="264.8" r="1.15" fill="#5ea3e6"/>
<circle cx="1143.8" cy="265.4" r="1.15" fill="#5ea3e6"/>
<circle cx="1144.3" cy="264.2" r="1.15" fill="#5ea3e6"/>
<circle cx="1144.8" cy="260.4" r="1.15" fill="#5ea3e6"/>
<circle cx="1145.3" cy="259.6" r="1.15" fill="#5ea3e6"/>
<circle cx="1145.8" cy="268.9" r="1.15" fill="#5ea3e6"/>
<circle cx="1146.3" cy="265.9" r="1.15" fill="#5ea3e6"/>
<circle cx="1146.8" cy="269.1" r="1.15" fill="#5ea3e6"/>
<circle cx="1147.3" cy="261.6" r="1.15" fill="#5ea3e6"/>
<circle cx="1147.8" cy="263.2" r="1.15" fill="#5ea3e6"/>
<circle cx="1148.3" cy="268.1" r="1.15" fill="#5ea3e6"/>
<circle cx="1148.8" cy="260.5" r="1.15" fill="#5ea3e6"/>
<circle cx="1149.3" cy="261.0" r="1.15" fill="#5ea3e6"/>
<circle cx="1149.8" cy="270.2" r="1.15" fill="#5ea3e6"/>
<circle cx="1150.3" cy="267.7" r="1.15" fill="#5ea3e6"/>
<circle cx="1150.8" cy="261.8" r="1.15" fill="#5ea3e6"/>
<circle cx="1151.3" cy="266.8" r="1.15" fill="#5ea3e6"/>
<circle cx="1151.8" cy="266.2" r="1.15" fill="#5ea3e6"/>
<circle cx="1152.3" cy="266.8" r="1.15" fill="#5ea3e6"/>
<circle cx="1152.8" cy="259.2" r="1.15" fill="#5ea3e6"/>
<circle cx="1153.3" cy="269.2" r="1.15" fill="#5ea3e6"/>
<circle cx="1153.8" cy="269.7" r="1.15" fill="#5ea3e6"/>
<circle cx="1154.3" cy="269.5" r="1.15" fill="#5ea3e6"/>
<circle cx="1154.8" cy="262.4" r="1.15" fill="#5ea3e6"/>
<circle cx="1155.3" cy="268.2" r="1.15" fill="#5ea3e6"/>
<circle cx="1155.8" cy="262.5" r="1.15" fill="#5ea3e6"/>
<circle cx="1156.3" cy="264.6" r="1.15" fill="#5ea3e6"/>
<circle cx="1156.8" cy="262.6" r="1.15" fill="#5ea3e6"/>
<circle cx="1157.3" cy="264.7" r="1.15" fill="#5ea3e6"/>
<circle cx="1157.7" cy="266.7" r="1.15" fill="#5ea3e6"/>
<circle cx="1158.2" cy="267.0" r="1.15" fill="#5ea3e6"/>
<circle cx="1158.7" cy="266.2" r="1.15" fill="#5ea3e6"/>
<circle cx="1159.2" cy="266.3" r="1.15" fill="#5ea3e6"/>
<circle cx="1159.7" cy="266.7" r="1.15" fill="#5ea3e6"/>
<circle cx="1160.2" cy="261.9" r="1.15" fill="#5ea3e6"/>
<circle cx="1160.7" cy="262.7" r="1.15" fill="#5ea3e6"/>
<circle cx="1161.2" cy="267.7" r="1.15" fill="#5ea3e6"/>
<circle cx="1161.7" cy="258.8" r="1.15" fill="#5ea3e6"/>
<circle cx="1162.2" cy="267.4" r="1.15" fill="#5ea3e6"/>
<circle cx="1162.7" cy="262.2" r="1.15" fill="#5ea3e6"/>
<circle cx="1163.2" cy="262.1" r="1.15" fill="#5ea3e6"/>
<circle cx="1163.7" cy="263.0" r="1.15" fill="#5ea3e6"/>
<circle cx="1164.2" cy="264.3" r="1.15" fill="#5ea3e6"/>
<circle cx="1164.7" cy="260.9" r="1.15" fill="#5ea3e6"/>
<circle cx="1165.2" cy="263.2" r="1.15" fill="#5ea3e6"/>
<circle cx="1165.7" cy="263.6" r="1.15" fill="#5ea3e6"/>
<circle cx="1166.2" cy="261.4" r="1.15" fill="#5ea3e6"/>
<circle cx="1166.7" cy="262.8" r="1.15" fill="#5ea3e6"/>
<circle cx="1167.2" cy="263.1" r="1.15" fill="#5ea3e6"/>
<circle cx="1167.7" cy="262.8" r="1.15" fill="#5ea3e6"/>
<circle cx="1168.2" cy="265.7" r="1.15" fill="#5ea3e6"/>
<circle cx="1168.7" cy="264.7" r="1.15" fill="#5ea3e6"/>
<circle cx="1169.2" cy="264.7" r="1.15" fill="#5ea3e6"/>
<circle cx="1169.7" cy="261.0" r="1.15" fill="#5ea3e6"/>
<circle cx="1170.2" cy="265.8" r="1.15" fill="#5ea3e6"/>
<circle cx="1170.7" cy="258.7" r="1.15" fill="#5ea3e6"/>
<circle cx="1171.2" cy="259.4" r="1.15" fill="#5ea3e6"/>
<circle cx="1171.7" cy="267.3" r="1.15" fill="#5ea3e6"/>
<circle cx="1172.2" cy="264.7" r="1.15" fill="#5ea3e6"/>
<circle cx="1172.7" cy="266.6" r="1.15" fill="#5ea3e6"/>
<circle cx="1173.2" cy="265.2" r="1.15" fill="#5ea3e6"/>
<circle cx="1173.7" cy="260.1" r="1.15" fill="#5ea3e6"/>
<circle cx="1174.2" cy="262.8" r="1.15" fill="#5ea3e6"/>
<circle cx="1174.7" cy="260.1" r="1.15" fill="#5ea3e6"/>
<circle cx="1175.2" cy="268.5" r="1.15" fill="#5ea3e6"/>
<circle cx="1175.7" cy="261.1" r="1.15" fill="#5ea3e6"/>
<circle cx="1176.2" cy="262.2" r="1.15" fill="#5ea3e6"/>
<circle cx="1176.7" cy="266.7" r="1.15" fill="#5ea3e6"/>
<circle cx="1177.2" cy="266.4" r="1.15" fill="#5ea3e6"/>
<circle cx="1177.7" cy="266.3" r="1.15" fill="#5ea3e6"/>
<circle cx="1178.2" cy="260.9" r="1.15" fill="#5ea3e6"/>
<circle cx="1178.7" cy="265.7" r="1.15" fill="#5ea3e6"/>
<circle cx="1179.2" cy="267.1" r="1.15" fill="#5ea3e6"/>
<circle cx="1179.6" cy="267.6" r="1.15" fill="#5ea3e6"/>
<circle cx="1180.1" cy="265.4" r="1.15" fill="#5ea3e6"/>
<circle cx="1180.6" cy="262.3" r="1.15" fill="#5ea3e6"/>
<circle cx="1181.1" cy="267.7" r="1.15" fill="#5ea3e6"/>
<circle cx="1181.6" cy="263.7" r="1.15" fill="#5ea3e6"/>
<circle cx="1182.1" cy="262.8" r="1.15" fill="#5ea3e6"/>
<circle cx="1182.6" cy="269.8" r="1.15" fill="#5ea3e6"/>
<circle cx="1183.1" cy="269.9" r="1.15" fill="#5ea3e6"/>
<circle cx="1183.6" cy="268.5" r="1.15" fill="#5ea3e6"/>
<circle cx="1184.1" cy="263.5" r="1.15" fill="#5ea3e6"/>
<circle cx="1184.6" cy="264.5" r="1.15" fill="#5ea3e6"/>
<circle cx="1185.1" cy="265.2" r="1.15" fill="#5ea3e6"/>
<circle cx="1185.6" cy="263.5" r="1.15" fill="#5ea3e6"/>
<circle cx="1186.1" cy="267.1" r="1.15" fill="#5ea3e6"/>
<circle cx="1186.6" cy="263.5" r="1.15" fill="#5ea3e6"/>
<circle cx="1187.1" cy="268.7" r="1.15" fill="#5ea3e6"/>
<circle cx="1187.6" cy="270.5" r="1.15" fill="#5ea3e6"/>
<circle cx="1188.1" cy="263.6" r="1.15" fill="#5ea3e6"/>
<circle cx="1188.6" cy="265.7" r="1.15" fill="#5ea3e6"/>
<circle cx="1189.1" cy="262.9" r="1.15" fill="#5ea3e6"/>
<circle cx="1189.5" cy="228.4" r="1.15" fill="#5ea3e6"/>
<circle cx="1189.6" cy="262.2" r="1.15" fill="#5ea3e6"/>
<circle cx="1189.7" cy="240.0" r="1.15" fill="#5ea3e6"/>
<circle cx="1190.0" cy="285.0" r="1.15" fill="#5ea3e6"/>
<circle cx="1190.1" cy="263.0" r="1.15" fill="#5ea3e6"/>
<circle cx="1190.6" cy="260.6" r="1.15" fill="#5ea3e6"/>
<circle cx="1191.1" cy="258.8" r="1.15" fill="#5ea3e6"/>
<circle cx="1191.6" cy="257.2" r="1.15" fill="#5ea3e6"/>
<circle cx="1192.1" cy="257.8" r="1.15" fill="#5ea3e6"/>
<circle cx="1192.6" cy="260.4" r="1.15" fill="#5ea3e6"/>
<circle cx="1193.1" cy="260.1" r="1.15" fill="#5ea3e6"/>
<circle cx="1193.6" cy="258.8" r="1.15" fill="#5ea3e6"/>
<circle cx="1194.1" cy="258.1" r="1.15" fill="#5ea3e6"/>
<circle cx="1194.6" cy="253.9" r="1.15" fill="#5ea3e6"/>
<circle cx="1195.1" cy="252.4" r="1.15" fill="#5ea3e6"/>
<circle cx="1195.6" cy="260.8" r="1.15" fill="#5ea3e6"/>
<circle cx="1196.1" cy="262.6" r="1.15" fill="#5ea3e6"/>
<circle cx="1196.6" cy="261.6" r="1.15" fill="#5ea3e6"/>
<circle cx="1197.1" cy="262.5" r="1.15" fill="#5ea3e6"/>
<circle cx="1197.6" cy="256.5" r="1.15" fill="#5ea3e6"/>
<circle cx="1198.1" cy="254.8" r="1.15" fill="#5ea3e6"/>
<circle cx="1198.6" cy="255.5" r="1.15" fill="#5ea3e6"/>
<circle cx="1199.1" cy="260.6" r="1.15" fill="#5ea3e6"/>
<circle cx="1199.6" cy="258.7" r="1.15" fill="#5ea3e6"/>
<circle cx="1200.1" cy="258.5" r="1.15" fill="#5ea3e6"/>
<circle cx="1200.6" cy="255.6" r="1.15" fill="#5ea3e6"/>
<circle cx="1201.1" cy="254.8" r="1.15" fill="#5ea3e6"/>
<circle cx="1201.5" cy="256.3" r="1.15" fill="#5ea3e6"/>
<circle cx="1202.0" cy="260.4" r="1.15" fill="#5ea3e6"/>
<circle cx="1202.5" cy="261.7" r="1.15" fill="#5ea3e6"/>
<circle cx="1203.0" cy="261.5" r="1.15" fill="#5ea3e6"/>
<circle cx="1203.5" cy="261.4" r="1.15" fill="#5ea3e6"/>
<circle cx="1204.0" cy="256.9" r="1.15" fill="#5ea3e6"/>
<circle cx="1204.5" cy="262.7" r="1.15" fill="#5ea3e6"/>
<circle cx="1205.0" cy="254.8" r="1.15" fill="#5ea3e6"/>
<circle cx="1205.5" cy="254.8" r="1.15" fill="#5ea3e6"/>
<circle cx="1206.0" cy="256.1" r="1.15" fill="#5ea3e6"/>
<circle cx="1206.5" cy="255.3" r="1.15" fill="#5ea3e6"/>
<circle cx="1207.0" cy="255.4" r="1.15" fill="#5ea3e6"/>
<circle cx="1207.5" cy="262.1" r="1.15" fill="#5ea3e6"/>
<circle cx="1208.0" cy="262.0" r="1.15" fill="#5ea3e6"/>
<circle cx="1208.5" cy="260.3" r="1.15" fill="#5ea3e6"/>
<circle cx="1209.0" cy="260.6" r="1.15" fill="#5ea3e6"/>
<circle cx="1209.5" cy="256.3" r="1.15" fill="#5ea3e6"/>
<circle cx="1210.0" cy="259.7" r="1.15" fill="#5ea3e6"/>
<circle cx="1210.5" cy="258.4" r="1.15" fill="#5ea3e6"/>
<circle cx="1211.0" cy="260.3" r="1.15" fill="#5ea3e6"/>
<circle cx="1211.5" cy="257.6" r="1.15" fill="#5ea3e6"/>
<circle cx="1212.0" cy="258.1" r="1.15" fill="#5ea3e6"/>
<circle cx="1213.0" cy="250.0" r="1.15" fill="#5ea3e6"/>
<circle cx="1215.0" cy="234.4" r="1.15" fill="#5ea3e6"/>
<circle cx="1216.5" cy="210.0" r="1.15" fill="#5ea3e6"/>
<circle cx="1217.5" cy="185.0" r="1.15" fill="#5ea3e6"/>
<circle cx="1218.5" cy="170.5" r="1.15" fill="#5ea3e6"/>
<circle cx="1219.4" cy="169.3" r="1.15" fill="#5ea3e6"/>
<circle cx="1219.6" cy="172.0" r="1.15" fill="#5ea3e6"/>
<text x="911.5" y="183.6" font-size="12" text-anchor="start" font-weight="normal" font-style="normal" fill="#222" >I</text>
<text x="933.5" y="181.8" font-size="12" text-anchor="start" font-weight="normal" font-style="normal" fill="#222" >II</text>
<text x="1072.3" y="177.2" font-size="12" text-anchor="start" font-weight="normal" font-style="normal" fill="#222" >III</text>
<text x="1203.2" y="182.5" font-size="12" text-anchor="start" font-weight="normal" font-style="normal" fill="#222" >IV</text>
<line x1="1228" y1="293.5" x2="1228" y2="444.6" stroke="#444" stroke-width="1.2" />
<line x1="1228" y1="444.6" x2="1232.5" y2="444.6" stroke="#444" stroke-width="1.2" />
<text x="1237" y="449.6" font-size="14" text-anchor="start" font-weight="normal" font-style="normal" fill="#222" >0</text>
<line x1="1228" y1="429.49" x2="1231" y2="429.49" stroke="#444" stroke-width="1.2" />
<line x1="1228" y1="414.38" x2="1232.5" y2="414.38" stroke="#444" stroke-width="1.2" />
<text x="1237" y="419.38" font-size="14" text-anchor="start" font-weight="normal" font-style="normal" fill="#222" >20</text>
<line x1="1228" y1="399.27000000000004" x2="1231" y2="399.27000000000004" stroke="#444" stroke-width="1.2" />
<line x1="1228" y1="384.16" x2="1232.5" y2="384.16" stroke="#444" stroke-width="1.2" />
<text x="1237" y="389.16" font-size="14" text-anchor="start" font-weight="normal" font-style="normal" fill="#222" >40</text>
<line x1="1228" y1="369.05" x2="1231" y2="369.05" stroke="#444" stroke-width="1.2" />
<line x1="1228" y1="353.94000000000005" x2="1232.5" y2="353.94000000000005" stroke="#444" stroke-width="1.2" />
<text x="1237" y="358.94000000000005" font-size="14" text-anchor="start" font-weight="normal" font-style="normal" fill="#222" >60</text>
<line x1="1228" y1="338.83000000000004" x2="1231" y2="338.83000000000004" stroke="#444" stroke-width="1.2" />
<line x1="1228" y1="323.72" x2="1232.5" y2="323.72" stroke="#444" stroke-width="1.2" />
<text x="1237" y="328.72" font-size="14" text-anchor="start" font-weight="normal" font-style="normal" fill="#222" >80</text>
<line x1="1228" y1="308.61" x2="1231" y2="308.61" stroke="#444" stroke-width="1.2" />
<line x1="1228" y1="293.5" x2="1232.5" y2="293.5" stroke="#444" stroke-width="1.2" />
<text x="1237" y="298.5" font-size="14" text-anchor="start" font-weight="normal" font-style="normal" fill="#222" >100</text>
<text transform="translate(1281,363.1) rotate(-90)" font-size="14.5" text-anchor="middle" fill="#222" textLength="131.2" lengthAdjust="spacingAndGlyphs">Growth rate (µm/yr)</text>
<path d="M887,404.1 C890.2,403.3 900.4,401.6 906.2,399.4 C912.0,397.2 918.0,393.8 921.9,390.7 C925.8,387.6 927.5,384.3 929.5,381.0 C931.5,377.7 932.8,374.1 933.8,371.0 C934.8,367.9 935.1,364.2 935.6,362.5 C936.1,360.8 936.2,360.6 936.5,360.6 C936.8,360.6 937.4,362.2 937.6,362.5 L937.6,362.5 C937.9,363.7 938.7,366.3 939.4,369.7 C940.1,373.1 941.3,378.8 942.0,383.0 C942.7,387.2 943.3,390.5 943.8,395.0 C944.3,399.5 944.5,405.8 945.0,410.0 C945.5,414.2 945.4,416.8 946.5,420.0 C947.6,423.2 949.6,427.0 951.7,429.1 C953.8,431.2 956.4,431.7 959.0,432.6 C961.6,433.5 964.2,434.0 967.4,434.4 C970.6,434.8 974.5,435.0 978.0,435.0 C981.5,435.0 985.2,434.8 988.4,434.4 C991.6,434.0 994.6,433.5 997.0,432.8 C999.4,432.1 1001.3,431.1 1003.0,430.3 C1004.7,429.5 1005.8,428.6 1007.0,427.8 C1008.2,427.0 1009.7,426.0 1010.2,425.6 L1010.2,425.6 C1013.3,425.6 1022.3,425.6 1028.6,425.3 C1034.9,425.0 1042.7,424.5 1047.8,423.6 C1052.9,422.8 1056.1,421.3 1059.0,420.2 C1061.9,419.1 1063.5,418.2 1065.0,417.2 C1066.5,416.2 1067.6,414.8 1068.3,414.2 C1069.0,413.6 1069.0,413.5 1069.2,413.4 L1069.2,413.4 C1069.5,414.1 1070.2,416.2 1071.0,417.5 C1071.8,418.8 1072.9,420.3 1074.0,421.2 C1075.1,422.1 1076.3,422.7 1077.4,422.6 C1078.5,422.5 1079.7,421.8 1080.5,420.8 C1081.3,419.8 1082.0,419.0 1082.5,416.5 C1083.0,414.0 1083.5,410.4 1083.8,406.0 C1084.1,401.6 1084.3,397.9 1084.5,390.0 C1084.7,382.1 1084.8,363.8 1084.9,358.5 L1084.9,358.5 C1086.0,355.4 1089.0,347.0 1091.2,339.9 C1093.4,332.8 1096.3,322.3 1098.0,316.0 C1099.7,309.7 1100.7,305.2 1101.5,302.0 C1102.3,298.8 1102.6,297.6 1103.0,296.5 C1103.4,295.4 1103.5,295.4 1103.8,295.6 C1104.1,295.8 1104.8,297.4 1105.0,297.8 L1105,297.8 C1105.4,299.2 1106.5,302.1 1107.6,306.0 C1108.7,309.9 1110.1,315.8 1111.5,321.0 C1112.9,326.2 1114.5,331.8 1115.9,337.1 C1117.3,342.4 1118.6,348.0 1120.0,353.0 C1121.4,358.0 1122.5,361.6 1124.1,367.0 C1125.7,372.4 1128.7,382.2 1129.6,385.2 L1129.6,385.2 C1129.7,387.3 1130.0,393.5 1130.2,398.0 C1130.4,402.5 1130.4,407.6 1131.0,412.0 C1131.6,416.4 1132.7,421.6 1133.7,424.5 C1134.7,427.4 1135.8,428.3 1137.0,429.5 C1138.2,430.7 1138.9,431.0 1140.6,431.6 C1142.3,432.2 1144.7,432.7 1147.0,433.0 C1149.3,433.3 1152.1,433.6 1154.3,433.6 C1156.5,433.6 1158.5,433.3 1160.0,433.0 C1161.5,432.7 1162.6,432.1 1163.5,431.8 C1164.4,431.5 1165.0,431.1 1165.3,431.0 L1165.3,431 C1165.9,431.3 1167.6,432.1 1169.0,432.6 C1170.4,433.1 1171.3,433.7 1173.5,434.2 C1175.7,434.7 1178.8,435.2 1182.0,435.6 C1185.2,436.0 1188.7,436.2 1192.7,436.4 C1196.7,436.5 1201.2,436.5 1206.0,436.5 C1210.8,436.5 1218.9,436.5 1221.5,436.5 L1223.4,444.2 L1227,445" fill="none" stroke="#111" stroke-width="1.5" stroke-linejoin="round"/>
<path d="M883,560 L883,550.8 L912.9,550.8 L912.9,532.9 L927.2,532.9 L927.2,499.9 L944.8,499.9 L944.8,505.4 L998.2,505.4 L998.2,535.7 L1064.4,535.7 L1064.4,490.5 L1098.2,490.5 L1098.2,544.8 L1104,544.8 L1104,520.8 L1114.5,520.8 L1114.5,481.7 L1141.3,481.7 L1141.3,491 L1208.1,491 L1208.1,439.3 L1217.4,439.3 L1217.4,560 Z" fill="#cccccc"/>
<line x1="870" y1="439.4" x2="870" y2="560" stroke="#333" stroke-width="1.3" />
<line x1="866.8" y1="439.4" x2="870" y2="439.4" stroke="#333" stroke-width="1.3" />
<text x="862" y="443.9" font-size="13.6" text-anchor="end" font-weight="normal" font-style="normal" fill="#111" >6</text>
<line x1="866.8" y1="469.54999999999995" x2="870" y2="469.54999999999995" stroke="#333" stroke-width="1.3" />
<text x="862" y="474.04999999999995" font-size="13.6" text-anchor="end" font-weight="normal" font-style="normal" fill="#111" >5</text>
<line x1="866.8" y1="499.7" x2="870" y2="499.7" stroke="#333" stroke-width="1.3" />
<text x="862" y="504.2" font-size="13.6" text-anchor="end" font-weight="normal" font-style="normal" fill="#111" >4</text>
<line x1="866.8" y1="529.8499999999999" x2="870" y2="529.8499999999999" stroke="#333" stroke-width="1.3" />
<text x="862" y="534.3499999999999" font-size="13.6" text-anchor="end" font-weight="normal" font-style="normal" fill="#111" >3</text>
<line x1="866.8" y1="560.0" x2="870" y2="560.0" stroke="#333" stroke-width="1.3" />
<text x="862" y="564.5" font-size="13.6" text-anchor="end" font-weight="normal" font-style="normal" fill="#111" >2</text>
<line x1="869" y1="560" x2="1230" y2="560" stroke="#333" stroke-width="1.3" />
<line x1="869.3" y1="560" x2="869.3" y2="564" stroke="#333" stroke-width="1.3" />
<text x="866.5" y="579.8" font-size="13.8" text-anchor="middle" font-weight="normal" font-style="normal" fill="#111" textLength="21" lengthAdjust="spacingAndGlyphs">154</text>
<line x1="907.5" y1="560" x2="907.5" y2="564" stroke="#333" stroke-width="1.3" />
<text x="904.7" y="579.8" font-size="13.8" text-anchor="middle" font-weight="normal" font-style="normal" fill="#111" textLength="21" lengthAdjust="spacingAndGlyphs">155</text>
<line x1="946.1" y1="560" x2="946.1" y2="564" stroke="#333" stroke-width="1.3" />
<text x="943.3000000000001" y="579.8" font-size="13.8" text-anchor="middle" font-weight="normal" font-style="normal" fill="#111" textLength="21" lengthAdjust="spacingAndGlyphs">156</text>
<line x1="986.1" y1="560" x2="986.1" y2="564" stroke="#333" stroke-width="1.3" />
<text x="983.3000000000001" y="579.8" font-size="13.8" text-anchor="middle" font-weight="normal" font-style="normal" fill="#111" textLength="21" lengthAdjust="spacingAndGlyphs">157</text>
<line x1="1025.4" y1="560" x2="1025.4" y2="564" stroke="#333" stroke-width="1.3" />
<text x="1022.6000000000001" y="579.8" font-size="13.8" text-anchor="middle" font-weight="normal" font-style="normal" fill="#111" textLength="21" lengthAdjust="spacingAndGlyphs">158</text>
<line x1="1066.3" y1="560" x2="1066.3" y2="564" stroke="#333" stroke-width="1.3" />
<text x="1063.5" y="579.8" font-size="13.8" text-anchor="middle" font-weight="normal" font-style="normal" fill="#111" textLength="21" lengthAdjust="spacingAndGlyphs">159</text>
<line x1="1107.5" y1="560" x2="1107.5" y2="564" stroke="#333" stroke-width="1.3" />
<text x="1104.7" y="579.8" font-size="13.8" text-anchor="middle" font-weight="normal" font-style="normal" fill="#111" textLength="21" lengthAdjust="spacingAndGlyphs">160</text>
<line x1="1145.9" y1="560" x2="1145.9" y2="564" stroke="#333" stroke-width="1.3" />
<text x="1143.1000000000001" y="579.8" font-size="13.8" text-anchor="middle" font-weight="normal" font-style="normal" fill="#111" textLength="21" lengthAdjust="spacingAndGlyphs">161</text>
<line x1="1186.7" y1="560" x2="1186.7" y2="564" stroke="#333" stroke-width="1.3" />
<text x="1183.9" y="579.8" font-size="13.8" text-anchor="middle" font-weight="normal" font-style="normal" fill="#111" textLength="21" lengthAdjust="spacingAndGlyphs">162</text>
<line x1="1226.3" y1="560" x2="1226.3" y2="564" stroke="#333" stroke-width="1.3" />
<text x="1223.5" y="579.8" font-size="13.8" text-anchor="middle" font-weight="normal" font-style="normal" fill="#111" textLength="21" lengthAdjust="spacingAndGlyphs">163</text>
<text transform="translate(839.6,503.1) rotate(-90)" font-size="14.8" textLength="167.3" lengthAdjust="spacingAndGlyphs" text-anchor="middle" fill="#111">Stalagmite diameter (cm)</text>
<text x="1014.4" y="598" font-size="14.2" text-anchor="start" font-weight="bold" font-style="normal" fill="#111" >Age ka</text>
</svg>
</body></html>
